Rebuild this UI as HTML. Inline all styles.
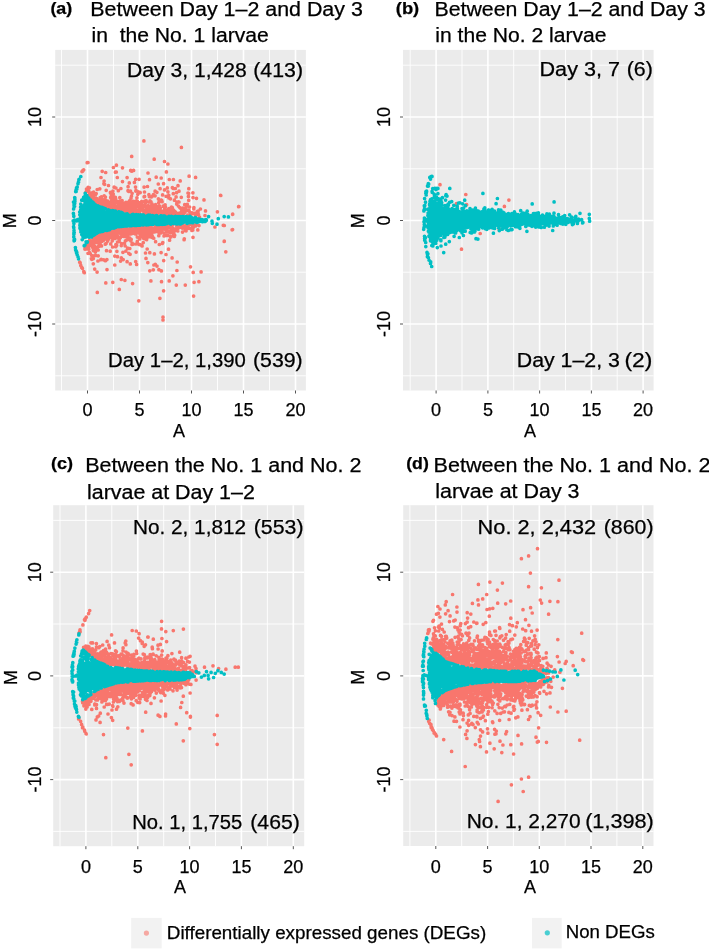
<!DOCTYPE html>
<html><head><meta charset="utf-8"><style>html,body{margin:0;padding:0;background:#fff;width:709px;height:949px;overflow:hidden}svg{display:block;filter:blur(0.35px)}text{stroke:#000;stroke-width:0.25px}</style></head>
<body>
<svg width="709" height="949" viewBox="0 0 709 949" font-family='"Liberation Sans", sans-serif' fill="#000">
<defs>
<clipPath id="clipa"><rect x="55.2" y="49.9" width="250.7" height="340.6"/></clipPath>
<clipPath id="clipb"><rect x="403" y="49.9" width="250.6" height="340.6"/></clipPath>
<clipPath id="clipc"><rect x="53.2" y="505.2" width="251" height="341"/></clipPath>
<clipPath id="clipd"><rect x="403.2" y="505.2" width="250.3" height="340.8"/></clipPath>
</defs>
<rect width="709" height="949" fill="#fff"/>
<rect x="55.2" y="49.9" width="250.7" height="340.6" fill="#EBEBEB"/>
<path d="M61.5 49.9V390.5M113.5 49.9V390.5M165.5 49.9V390.5M217.5 49.9V390.5M269.5 49.9V390.5M55.2 375.8H305.9M55.2 272.2H305.9M55.2 168.8H305.9M55.2 65.2H305.9" stroke="#FFFFFF" stroke-width="0.9" fill="none"/>
<path d="M87.5 49.9V390.5M139.5 49.9V390.5M191.5 49.9V390.5M243.5 49.9V390.5M295.5 49.9V390.5M55.2 324H305.9M55.2 220.5H305.9M55.2 117H305.9" stroke="#FFFFFF" stroke-width="1.6" fill="none"/>
<g clip-path="url(#clipa)">
<path d="M79.7 262.2h0m.3 .5h0m.2 .2h0m.6 2.5h0m.9 2.1h0m.1-.1h0m.2-95.8h0m.4 96.7h0m.2-97.1h0m.5-1.2h0m.1 .2h0m.5-.4h0m.1 101.7h0m.1 .7h0m.3 .3h0m.1 .2h0m.6-23.7h0m.1 .2h0m.1-1.2h0m.5-55.5h0m.4 55.5h0m.2-1.2h0m.3-57.7h0m.1 1.7h0m.6-28.1h0m0 86.2h0m0-1.9h0m.1-.3h0m0-55.7h0m.3 53.6h0m.2 4.2h0m.1-53h0m0 50.3h0m.1-3.3h0m0-80.3h0m0 90.8h0m.1-9.1h0m0-56.9h0m0 58.5h0m.1-3.9h0m0-45.8h0m0 46.6h0m.1-54.4h0m0 59.3h0m.1-5.2h0m.1-51.8h0m0 5.8h0m.1 46h0m.2 6.8h0m0-53.3h0m.3-4h0m.2 51.3h0m0 .1h0m.1-55.5h0m.1 56.7h0m0-4.1h0m0-46.9h0m0 59.2h0m.4-55.6h0m.4 56.4h0m0-12.5h0m.1-46.6h0m0 50.9h0m.1-51.8h0m.5 48.1h0m.1 1.4h0m.1-1.5h0m0 .4h0m.1-47h0m.1 63.7h0m.4-3.1h0m0 3.8h0m.3-62h0m.3 49.7h0m.1-49.9h0m.1-4.6h0m0 5.3h0m.2-3.4h0m0 .7h0m.1 48.2h0m0-46h0m0 42.3h0m.1-1.8h0m.1 10.5h0m0-8.9h0m0-.5h0m0 4.4h0m.1-45.6h0m.1 3.3h0m0 62.8h0m0-13.2h0m0 8h0m0-62.5h0m.3-4h0m.1 3.6h0m.2 40.7h0m0-41h0m.1 4.9h0m.1 37.3h0m0 .7h0m0 3.4h0m.1 14.1h0m0-10.8h0m0-6.7h0m.1 2.1h0m0-4h0m0-34.8h0m.1-1.9h0m0 47h0m0-4h0m0-4.3h0m.1-1.9h0m0 6.1h0m.1-3.5h0m.1-38.7h0m0 68.7h0m.1-31.6h0m.1 9.4h0m0-48.4h0m.2 43.2h0m0-5.7h0m.1 6.3h0m.1-5.8h0m.1 1.1h0m0-35.7h0m0 50.2h0m.1-57.2h0m.1 42.9h0m.1 12.2h0m.1 5.5h0m0-52.8h0m.4-9.2h0m.1 46.6h0m.1-37.8h0m.1 34.8h0m0-33.7h0m.2-4.8h0m.1 39.5h0m.1-37.9h0m.2 71.9h0m0-68h0m.1 29.7h0m0 4.4h0m0-48.7h0m0 52.5h0m.1 50.4h0m.1-45.4h0m0-42.4h0m.3-1.3h0m0 32.7h0m.2-32.6h0m0 39.5h0m0 18.1h0m.1-26.4h0m.2 21.2h0m0-5.8h0m.2-8.3h0m.1-6h0m.1-1.1h0m.1-.7h0m.1-28.7h0m.1 41.1h0m.1-42.4h0m.2-3.7h0m0 5.3h0m0 29.8h0m.4-33.1h0m.2-13.4h0m.1 50.1h0m.1-36h0m.1 33.1h0m0 1.4h0m.1-3.3h0m0 10.2h0m0-46.7h0m.1 39.6h0m.3-37.4h0m.3 40.9h0m0 19h0m0-58h0m.1-24.2h0m.1 26.8h0m.1 55.1h0m.1-54.8h0m0 30.8h0m.1-38.6h0m.1 49.1h0m0-6.6h0m0 2.1h0m.1-41.5h0m0 5.2h0m0-.5h0m.3-3.6h0m.2 2.2h0m.1-31.9h0m.5 61.9h0m.1 3.3h0m.1-4.1h0m0 2.4h0m.2 3.8h0m0-.2h0m.1-36.3h0m0 34h0m0 3.4h0m.1-39.6h0m0 2.5h0m0 38.2h0m.3-4h0m.1-2h0m0 25.2h0m.2-54h0m0-22.1h0m.1 17.5h0m0 34.9h0m0-1.3h0m.1-53.7h0m.1 56.8h0m0-34.5h0m0-7.6h0m0 9h0m.1 32.8h0m0-4.5h0m.2 3.7h0m.1-52.5h0m.1 50.7h0m0 .1h0m0-2.6h0m.1-28.9h0m0 3h0m0 26.9h0m.1-29.8h0m0 1.9h0m.1 28.4h0m0 5h0m.3 5.2h0m.1 16.5h0m0-63.7h0m.1 41.7h0m.1-38.6h0m0 4.3h0m0-2.8h0m.1 3.8h0m0-32.9h0m.1 110.4h0m.3-49.8h0m0 10.4h0m0-37.6h0m0-.8h0m.1-14.8h0m.1 17.9h0m0-2.1h0m.1 31.6h0m.1 .5h0m0 12.5h0m.1-18.8h0m0-.2h0m.1 4.6h0m0-31.1h0m0 2.4h0m.1 27.7h0m0-26.8h0m.1 51.1h0m0-21.1h0m.1 31.1h0m0-61.5h0m.2 27.9h0m0-3.4h0m0-26.1h0m0-1.1h0m0 31.3h0m.2-1h0m0-2.1h0m.1 7.5h0m.1 0h0m0-38.2h0m.1 1.7h0m0 29.6h0m0-33.1h0m.2 36.8h0m.3-29h0m0-.5h0m.1-4.7h0m0-1.1h0m0 2.2h0m.1 4.3h0m0 22h0m.1 8h0m0-5h0m0-48.6h0m.1 50.5h0m.1 .4h0m.1-28.1h0m.1 29.2h0m.3-4.9h0m.1 .1h0m0-25.4h0m.3 26.5h0m.2 1.7h0m0-27.3h0m0 28.1h0m.3-2.2h0m0 .1h0m0-2.1h0m0-1.1h0m.1 20.2h0m.2-44.2h0m0-14.7h0m.1 .7h0m.2 37.5h0m0 13.4h0m0-46.5h0m0 11.3h0m0-6.6h0m.1 35.4h0m0-32.2h0m0-.4h0m0 26h0m.2-23.4h0m0-.5h0m0 1h0m.2 1.1h0m.1 21.7h0m0-38.5h0m.1 9.4h0m0-2h0m0 9.3h0m0-13.6h0m.2 11.1h0m.1 24.3h0m.2 3.7h0m.1 2.9h0m.1-.2h0m0-40.3h0m0 6.2h0m.1 37.8h0m.3-3.5h0m.1 9.6h0m.1-12.9h0m.1 48.2h0m0-76.9h0m.1-14.3h0m.1 38.3h0m0-20.4h0m0 .4h0m0-1.4h0m.1-4.8h0m.2-9.2h0m0 9.7h0m.1-36.2h0m.1 63.6h0m0-32.5h0m0 34.2h0m.2-34.1h0m0-1.9h0m.1 12.8h0m.1-2.1h0m0-8h0m.1 35.3h0m0-1.5h0m.1-46.1h0m0 47.4h0m.1-26.4h0m.1-11h0m0 8.4h0m0 32.5h0m0-29.8h0m.1 24.6h0m.1-27.8h0m.1 23.9h0m.1 3.1h0m0-23.4h0m.1 22.1h0m0-24.8h0m0 50.1h0m0 8.9h0m.1-35.3h0m0 1.9h0m.1 0h0m0-33.4h0m.1 9.9h0m0-5.4h0m0 35.8h0m.1-5.1h0m.2-36.1h0m0-25.1h0m0 37.6h0m0-.6h0m.1 26.2h0m.2-36.5h0m0 33.5h0m.1 14.3h0m0-37.3h0m.1-2.5h0m0-18.9h0m0 56.7h0m.1-12.2h0m.2-30.9h0m.1 30.1h0m0-59.7h0m.1 29.5h0m0-36.3h0m.3 80.1h0m0-11.3h0m.1-4.3h0m.1 21.6h0m0-16.5h0m0-.5h0m.4-56.8h0m0 29.8h0m.2 49.4h0m0-14.7h0m.1-5.6h0m.2-34.7h0m.1 7.3h0m.1 22.8h0m0-.1h0m.1-27.7h0m.2 28.6h0m0-41.9h0m.1 47.4h0m.1-36.2h0m.1 1.1h0m0 7h0m.1 18.6h0m0-19.8h0m.1 23.6h0m.3-3.8h0m0 12.9h0m.1-1.4h0m0-31.8h0m.1 21.8h0m0 59.3h0m0-58.5h0m.1-26.8h0m0 26.3h0m0-23.7h0m.1 .4h0m0-1.4h0m0 23.8h0m.2-28.1h0m.1-.4h0m0-3.5h0m.1 7.5h0m0 .7h0m.1 27.3h0m.1-22.9h0m.1-1.8h0m.1 19.7h0m0 9.1h0m0 .6h0m.3 23.4h0m.1-30.3h0m0 2.7h0m.1-3.3h0m0 1.6h0m.1-43.3h0m0 44.3h0m.1-5.1h0m0-24.2h0m.1 1.6h0m.1 23h0m.1-21h0m0 72.4h0m0-33.9h0m0 12.3h0m.1-22.2h0m.1-24.7h0m0 19h0m.1-21.3h0m0 21.2h0m0 1.6h0m0 12.1h0m.1-37.5h0m0 26.4h0m.1-26.4h0m0-.7h0m.1 5.9h0m.2-10.6h0m0 35.5h0m0-30.2h0m0 4.1h0m0 18.1h0m.4 .3h0m0-60.7h0m0 66.1h0m0-3.7h0m0 3.3h0m0-51.9h0m.1 23.6h0m0 2.5h0m.2 3.2h0m.1 41.4h0m.1-17.5h0m0-5.7h0m.1-22.2h0m0 25.7h0m.1-27.2h0m0 54.2h0m.1-50.7h0m.2 2.3h0m0-5.4h0m.1 24.1h0m0-2h0m0-21.6h0m.1 27.3h0m.1-22.8h0m.1 25.7h0m0-3h0m.1-3.3h0m.2-26.8h0m.3 39.6h0m.4 37.3h0m.2-34.5h0m0-17h0m0 3.3h0m.3 8.7h0m.1-31.5h0m.1 21.7h0m0-20h0m.2 19.4h0m.1 20.7h0m0-19.8h0m.1-28.9h0m0 38.1h0m.1-31.2h0m.2-2.6h0m0 22.6h0m.1 5.9h0m.2-7h0m.1-16.2h0m.1 21.9h0m0-30.8h0m.1 7.9h0m0 26.2h0m0-8.6h0m.1-24.4h0m.1 57.5h0m0-84.1h0m.3 28.8h0m0 24.1h0m0 1.9h0m.2 16.1h0m0-.5h0m.1-45.5h0m0 10.1h0m.1-3.5h0m.2-18.4h0m0 44.1h0m.1-23.1h0m0 27.8h0m0-52.8h0m.1 46.2h0m.1-19.8h0m.2-4.5h0m0-6.4h0m0 1.8h0m.2 25.9h0m0-17h0m.1-21.4h0m0 61.8h0m.1-20.5h0m0-25h0m.1 23h0m.1-24.1h0m0 6.1h0m.1-.3h0m.1-29.6h0m.1 54.9h0m.1-26h0m.1 .8h0m0 18.2h0m.2 17.7h0m0-47.9h0m.1 12.5h0m.1 17.4h0m0-.7h0m0-18.8h0m.1 20.5h0m0 22.8h0m0-20.4h0m0 4.7h0m.1-5.8h0m.1-27.6h0m0 58.7h0m.1-36.6h0m.1-36.3h0m.2 14.8h0m0-35.4h0m.1 70.4h0m0-32.6h0m.1 20.1h0m.1-30.1h0m.1 35.6h0m.1 5.6h0m0-7.7h0m.2-21.1h0m0-7.2h0m.1-7.2h0m0 32.1h0m.1-18.2h0m0-7.5h0m.1 7.6h0m0-39h0m0-14.8h0m.1 54.4h0m.1-.7h0m.1 34.4h0m0-39.3h0m.1 4.9h0m0 19.5h0m0-36.3h0m.1 49.9h0m0-12.5h0m0-1.4h0m.2-18.9h0m0 23h0m0-23h0m0 20.1h0m0-20.7h0m.1 .3h0m.1 16.7h0m0 56.8h0m.1-76.3h0m.1 21.5h0m.2-24.7h0m.1 8.9h0m0 31.1h0m.2-40.9h0m0-1.8h0m0 30.3h0m0-22.4h0m.2-2.4h0m0 19.8h0m.1-56.3h0m0 37.6h0m.1-3.5h0m.3 25.6h0m.2 1.3h0m.2-49h0m.1 29.5h0m.1-5.9h0m0 3.2h0m0-.9h0m.2 24.6h0m.1-4.7h0m.3-17.4h0m.1-3.1h0m0-.5h0m.2-20.2h0m0 47h0m.1-54.7h0m.1 82.2h0m0-35.1h0m.1-35.3h0m0 19.1h0m.1 33.8h0m0-40.9h0m.1-1.9h0m0-10.8h0m.1 61.7h0m.2-41.3h0m.1-5.6h0m0 22.8h0m.2 36.4h0m.3-31.4h0m0-35.2h0m.1 12.3h0m0 19.7h0m0-.2h0m.1 3.1h0m.2-2.3h0m0-18.9h0m0 25.6h0m0 4.3h0m.1-40.1h0m.1 10.8h0m0 .1h0m.2-.8h0m.1-6.7h0m0-10.4h0m.3 33h0m0-24.1h0m.1 3.4h0m.1-1.9h0m0-12.8h0m.1 21.2h0m.3 .2h0m0 19.7h0m0-19.2h0m.1 87h0m0-89.7h0m0 20.4h0m0-28.9h0m.1 8.9h0m0-8.4h0m.1 1.3h0m0 6.3h0m0 22.4h0m0-.6h0m.1-6h0m0-47.2h0m0 65.1h0m.1-12.9h0m.2-1.3h0m0-37.9h0m.1 38.9h0m.1-19.8h0m0 1.8h0m0 19.6h0m0-5.9h0m0-19.7h0m.2 31.8h0m0-12.5h0m.3 4.8h0m0-21.6h0m.1 27.1h0m0-2.6h0m0-41.6h0m0 33.6h0m.1 5.6h0m.2 13h0m.1-10.8h0m0-4.2h0m0 6.6h0m.2-9.3h0m.4-17.3h0m.1 21.8h0m0 .8h0m.1-.1h0m.1-.8h0m.1 4.6h0m0-34.5h0m.1 2.1h0m0-2h0m0 27.2h0m.1-19.3h0m.1-3.9h0m0 21.9h0m.1 0h0m.1 9.1h0m0 9.2h0m.1-17.6h0m0 4.2h0m0-.3h0m.1-24.2h0m.2 1.9h0m.1 24h0m0-26.4h0m.1 23.8h0m.1 1.9h0m.2-.5h0m.2-21.7h0m0 24.6h0m.1-1.9h0m0-2.6h0m0 11.5h0m.1-9.6h0m0-26.8h0m.1 20.2h0m.1 3.4h0m.2-16.4h0m0 25.1h0m.1-97.6h0m.2 55.9h0m0 14.5h0m0-24.2h0m0 26.1h0m.1-.2h0m0 20.4h0m.2-1.6h0m0-21.7h0m.1 19.8h0m0 6.1h0m0-44h0m.1 9.4h0m0 27h0m0-32h0m.5 33.5h0m0 3.2h0m.1 4.3h0m.1-32.9h0m.1 9.2h0m.1 17.4h0m0 21.9h0m.1-26.8h0m.1-12.4h0m0-11.3h0m.2 36.8h0m0-29h0m.1 48.1h0m.1-57.7h0m.1 11.9h0m0-2.1h0m0 3.2h0m.1 25.8h0m.1-29.6h0m.1-2.7h0m0 4.6h0m.1-4.1h0m0 32h0m.2-1.4h0m.1-29.5h0m0 2.6h0m.2 .9h0m.1 22.8h0m0-27.6h0m0 41.5h0m.2-39.3h0m.1-23.2h0m0 45.8h0m.3-20.6h0m0 50.9h0m0-33h0m.1-2.1h0m.1-54.5h0m.1 39.3h0m.1 16.4h0m0-23h0m.1 29.1h0m.6-32.7h0m0-7.4h0m.2 33.1h0m0 5.4h0m.2 1.8h0m0-28.9h0m0-9.5h0m0 14.8h0m0 25.2h0m.1-6.5h0m.1-50.4h0m0 48.8h0m.1-20.6h0m.1 27.2h0m.1-3.9h0m0 21.5h0m0 18.1h0m.2-69.9h0m.2 13.6h0m0-3.9h0m.1 23.1h0m0-24.5h0m.1 19.1h0m0-15.7h0m.1-4.5h0m.1 18.4h0m.1-14.9h0m0 25.2h0m0-9.4h0m.1 6.2h0m0-24.7h0m.1 72h0m.1-79.1h0m.1 29.4h0m0-25.1h0m.2-9.2h0m.1 39.2h0m.1-22.7h0m0 20.8h0m.3-29.1h0m.2-1.3h0m.1 25.9h0m.1 6.2h0m0-7.7h0m.1-14.7h0m.1-17.5h0m0 41.4h0m.3-9.4h0m0-19.1h0m0 23.3h0m.3-26.4h0m.3 64h0m0-40.6h0m0-19.4h0m.1 1.4h0m.1-16.6h0m.2 19.1h0m0 24.5h0m0-9.1h0m.2-22.5h0m0 58.4h0m.1-36.8h0m.2-69h0m0 51.8h0m.2 42.9h0m0-23.9h0m0 2h0m.1-2.6h0m0-.7h0m0-23.2h0m.1 4.6h0m.2 .1h0m.1 4.5h0m.1-6.2h0m.1-17.3h0m0 22.9h0m0-18.3h0m.1 13.4h0m0-4h0m.1 59.1h0m.1-37.4h0m.1-14h0m.1 12.4h0m0 16.4h0m0-37.2h0m.4 20.9h0m0-18h0m.1 20.8h0m.1-14.7h0m0-36.3h0m.2 31.6h0m.2 21.7h0m.1-21.4h0m.1 3h0m.1-19.8h0m.1 19.8h0m0 17.5h0m0 36.5h0m.1-51.4h0m0-8.2h0m.2 25.1h0m.2-18.1h0m.2 11.7h0m.2-13.5h0m0 16.4h0m.3-21.6h0m.1-22.5h0m.1 14.9h0m0 9.5h0m.1 19.4h0m0 1.8h0m.2-27h0m.1 25h0m0 8.1h0m0-5.2h0m.1 39.2h0m.3-37h0m0-5.9h0m.1-21h0m0 38.7h0m0-36.8h0m.2-7.4h0m0 10.2h0m.4 87.8h0m.1-72.3h0m.1-37.3h0m.1 19.7h0m.3 3h0m.2 1.1h0m.1 14.9h0m0 1.4h0m0 4.1h0m.2-6.2h0m0-26.5h0m.1 10.6h0m0 41.8h0m.1-74.6h0m.2 92.9h0m.1-56.4h0m0 67.2h0m.1-53.6h0m.1-27.8h0m.2 30.6h0m.2-.9h0m0-28.3h0m.1 10h0m.1-.2h0m0 1.1h0m.1 30.8h0m.2-48.5h0m.2 47.6h0m.1-29.3h0m0 12.8h0m.1-11.6h0m0 105.6h0m0-2.8h0m.1-111h0m.5-22.5h0m0 107.1h0m.1-30.2h0m.3-24.6h0m.2-2.9h0m.3-71.6h0m0 28.4h0m0 19.8h0m.1 2h0m0 17.4h0m.1-20.6h0m.3 17.3h0m0-10.7h0m.1-10.3h0m0 2.5h0m0 1.8h0m.2 1.3h0m.1-3.6h0m.2 19.3h0m.1-14.5h0m.3 42.9h0m.1-26.8h0m0-31.4h0m.3-24.4h0m0 53.4h0m0 2.2h0m.3 4.3h0m.1-2.5h0m.1 6.1h0m.4-47.5h0m0 37.7h0m0-15.3h0m0 16.7h0m.2-12.6h0m.2 20.9h0m.1-25.4h0m.1 3.6h0m0-21.7h0m0-27.8h0m0 62.6h0m.2 .6h0m.1-15.2h0m.1 14.3h0m0-11h0m.2-6.4h0m0 18.8h0m0 21.5h0m.3-53.9h0m.1 2.7h0m.2 10.6h0m0 22.7h0m.1 49.6h0m0-66.3h0m.1-35.1h0m.1 35.4h0m.1 10.5h0m.1 14.8h0m.1-25.7h0m.1 13h0m0 5h0m0-7.3h0m.2-16h0m0 22.1h0m.2 5h0m.1-23.8h0m0 13.8h0m.1 1.7h0m.1-29.2h0m.1 15.6h0m0-6h0m.2 28.6h0m.4-24.9h0m0 14.4h0m.2 6.2h0m0-23.3h0m.1-2.4h0m.4 19.6h0m0-18h0m.2 4.1h0m0 45.2h0m0-43.8h0m.1 16.6h0m0-18.7h0m.1 13h0m0-17.3h0m.1-20h0m.1 26.4h0m0-2.4h0m.2-.3h0m0 17.8h0m0-4.2h0m.2 50.8h0m.1-62.4h0m0 18.1h0m.2-1.9h0m.1-14.9h0m0-21h0m0 37.4h0m.1-42.6h0m0-9h0m.1 30.6h0m0 25.4h0m.2-22h0m.2 15.4h0m.1 4.1h0m.3 3.5h0m.1-36.3h0m.2 15.1h0m.1 20h0m.2-23.9h0m.4 18h0m0-40.9h0m.2 41.7h0m.2-17.9h0m0 .1h0m.4-15.5h0m.2 88.2h0m0-71.8h0m.3-20.6h0m.1 33.2h0m0-21.8h0m.2-1.9h0m0 68.3h0m.3-8.5h0m.3-47h0m.2-1.2h0m.1 17.2h0m0-5.3h0m.1 2.8h0m.1-42.8h0m.4 20.3h0m0 20h0m.1-12.7h0m0-11.4h0m.1 24.9h0m.3-12.6h0m.1-12.2h0m0-10.8h0m.5 23.1h0m0 1.1h0m.3-7.8h0m0 19.6h0m.3-.2h0m0-12.9h0m.1-33.2h0m.2 27.2h0m.4 7h0m.2-2.5h0m.1-.6h0m.2-14.7h0m.1 28.6h0m0-78.5h0m.3 63.7h0m.1-1.3h0m.2 4.3h0m.4 14h0m.1 4h0m.1-24h0m.1 17.4h0m.2-12.4h0m.4-3.5h0m.1 16.8h0m0-12.3h0m.5-.5h0m.2 26.1h0m.2-.9h0m0-27.6h0m.2 16.6h0m.2-23.1h0m.3 7.5h0m0 13.6h0m.2 4.8h0m.1 54.5h0m.2-58.5h0m0-18.3h0m.1 21h0m.5 1.5h0m0-4.3h0m.1-19.7h0m.1-.8h0m.2 20.7h0m.4 .6h0m.1-2.6h0m.3 .7h0m0-21.1h0m0 5.9h0m.5 4.9h0m.2-22.1h0m.4 3.4h0m.2-3.1h0m.1 7h0m.1-11.6h0m0 22.4h0m0 14.1h0m.1 3.1h0m.2-52.1h0m0 34.5h0m.2 17.6h0m.1-13.3h0m.2-8h0m.3 17.2h0m.4-11.5h0m.2 54.1h0m.7-52.6h0m.4-1.1h0m.3 14.7h0m0 2.7h0m.1-17.1h0m0-.6h0m.3 10.9h0m.4 2.3h0m.1 3.9h0m.1-5.2h0m0-31.9h0m.1 44.5h0m0-39.7h0m.2 74.8h0m0-44.8h0m.4 68.5h0m.2-87.3h0m.1-1.3h0m.2 74.8h0m.3-69h0m.8 .9h0m.2 1h0m.1 10.8h0m.1-48.6h0m.4 47.3h0m.5-26.4h0m.7 13.3h0m.6 18.3h0m.3-18.8h0m0 2.1h0m.5 1.9h0m.3 66.6h0m.1-56.1h0m.6-8.3h0m.8-8.3h0m.7 62.9h0m2.9-72h0m1 15.6h0m.5-4.6h0m9.4 16.1h0m2.5-15.2h0m3.2-16.5h0m.2 .2h0m2.5 29.8h0m.9 16.1h0m.1-.4h0m0-15.5h0m1.5 26.3h0m6.3-22h0m.5-.2h0m0-15.3h0m.1-.1h0m5.9-7.5h0m.3-.1h0" stroke="#F8766D" stroke-width="3.7" stroke-linecap="round" fill="none"/>
<path d="M73.2 220.8h0m.2-7.4h0m.1-11.3h0m.1 24.6h0m0-5.6h0m0-12.1h0m.1 6.6h0m0 0h0m.1 6.2h0m0 5.9h0m0 9.2h0m0-20.6h0m.1 7.3h0m0 10.7h0m0-1.1h0m.1-28.1h0m0 27.1h0m0-29.4h0m0 27.5h0m.1 10.5h0m0-.8h0m0-32.9h0m.1 25.4h0m.2-28.4h0m0 36.3h0m.1-34.5h0m.1 14.2h0m0-13.9h0m0 33.1h0m.1-41.6h0m0 5.7h0m.1-2.5h0m.1-3h0m0 3.5h0m0-1.7h0m.4 20.9h0m.1 27h0m.2 2.2h0m.1-58.2h0m.3-1.4h0m.1 60.9h0m0-59.6h0m.3 29.3h0m0 30.6h0m.1 1.4h0m0-64.9h0m.2 0h0m0 64.7h0m.1-64.6h0m0 32.6h0m0 31.8h0m0-63.4h0m.3 31.5h0m.1-33.5h0m0 67.8h0m.4-35.1h0m.4-36h0m0 73.1h0m.5-74.9h0m0 76.9h0m.1-38.3h0m0-38.6h0m.3-2.2h0m.1-.1h0m.1 41.4h0m0-41.7h0m.5 40.5h0m.1-.9h0m0-6.8h0m.1 2.7h0m.1 13.3h0m0-2.6h0m.1-1.2h0m.1 4.1h0m.1-13.9h0m0 11.5h0m.1-4.4h0m.2 2.5h0m0 .9h0m0 0h0m0 4.5h0m.1-22.3h0m0 3h0m0 5.7h0m.1 8.1h0m.1 7.7h0m0-55.2h0m0 53.1h0m0-25.5h0m.1 22.6h0m0-8.7h0m.1-11.5h0m0 10.9h0m0 2.6h0m0-6.7h0m.2 13.2h0m0-11h0m0 6.2h0m.1 9.3h0m0-8.1h0m0-13.1h0m.1 15.4h0m.1-4.4h0m0-14.2h0m0 4.9h0m.1 10.5h0m.1-4.1h0m0-.2h0m0-17.5h0m0 20.8h0m0-10.3h0m.1 16h0m0 7.9h0m0-6.9h0m0 2.5h0m.1-6.8h0m0-4.4h0m.1-5.5h0m0 2.9h0m0-1.3h0m0-2.9h0m0 14.8h0m0 2.8h0m.1-14.6h0m.1 1.1h0m0 23.3h0m.1-18.2h0m0 2.5h0m0-12.6h0m.1 22.5h0m0-4.2h0m0-7.6h0m.1-12.5h0m.3 22.1h0m0-8.4h0m.1 13.2h0m0-36.2h0m.1 24h0m0 1.5h0m.1-12.1h0m0 13.2h0m0-8.9h0m0-6.4h0m0-5.7h0m0 10.1h0m.1 7h0m0 1.8h0m.1 3.3h0m0-18.9h0m.1-1h0m0-1.7h0m.1 17.1h0m0-1.1h0m.1-2h0m0-5.2h0m0-17.2h0m0-.6h0m.1 33.4h0m0 1.8h0m.1-18.9h0m0 6.5h0m0 11.3h0m.1-3.7h0m.1-9.4h0m.1 9.3h0m0-19.3h0m.1 37.3h0m.1-25.2h0m0 12.5h0m0-13.1h0m.1 11.4h0m0 3.9h0m.1-5.9h0m0 8h0m.1-8.3h0m0 6.7h0m0-16.2h0m0 4.7h0m0-13h0m.1-6.6h0m.2 21.7h0m0 18.8h0m0-48.9h0m.1 6.9h0m0 6.9h0m0 1.5h0m0 5h0m0 2.1h0m0 .2h0m0-1.8h0m.1-9.9h0m0 3.1h0m0 2.4h0m0 4.7h0m0-1.5h0m0 15.4h0m.1-37.9h0m.1 6.9h0m0 27.5h0m0-22.1h0m0 6.4h0m.1-6.1h0m.1 7.4h0m0 3h0m0 8h0m0-9.7h0m.1 13.5h0m.1 1h0m0-7.1h0m0-2.3h0m.1-4h0m0-7.4h0m0 8.4h0m0-2.6h0m0 10.3h0m0 8.2h0m0-23h0m.1 27.4h0m0-14h0m0-23h0m0 15.6h0m.1-1.6h0m0 17.4h0m0-29.3h0m0 16.9h0m.1 13.9h0m0-25.9h0m0 34.8h0m.1-19.8h0m0-3h0m0-15.1h0m.1 14.9h0m0-22h0m0 29.3h0m0 2h0m.1-14h0m0-5h0m0 18.7h0m0 7.1h0m0-38.8h0m0 17.5h0m.1 9.9h0m0-5h0m.2 8.3h0m0-.3h0m0 4.7h0m0 .8h0m.1-25.5h0m.1-10.9h0m0 29.8h0m0-12.5h0m0 2h0m0 27.5h0m.1-34.9h0m.1 11.6h0m0-2.7h0m0 7.4h0m.1-1.9h0m0-13.8h0m.1 1h0m0 7.1h0m0 .7h0m0-3.7h0m0 11h0m0-18.8h0m.1 15.5h0m0 20.9h0m.1-22h0m0-9.5h0m0-10.2h0m.1 13.5h0m.1 0h0m0 7.9h0m0 .1h0m.1-1.6h0m0-4.9h0m.1-8.8h0m.1 .6h0m0 14.3h0m.1 9.6h0m0-20.6h0m0 15.1h0m0-10h0m0 2.7h0m.1-2.5h0m.1 16.4h0m0-6.3h0m.1 1.6h0m0-8h0m.1-6.6h0m.1 16.2h0m0-26.8h0m0 9h0m.1-7.1h0m.1 23.8h0m0-11h0m0-18.5h0m.1 13.2h0m.1-7h0m0 19.7h0m0 9.1h0m.1-20h0m0-2.2h0m0 22.1h0m.1 4.1h0m0-27.4h0m0 24.5h0m0-12h0m0 1.8h0m0 .7h0m0 6.6h0m.1 2.3h0m.1-11.3h0m0-13.3h0m0 10.8h0m0 12.9h0m0-12.7h0m0-6.6h0m0 17.7h0m.1-22.9h0m0 13.3h0m0-4.3h0m.1 10.7h0m.1-1.6h0m0-12.7h0m.1 13.1h0m0-5.1h0m0-.9h0m0 8.5h0m0 2.9h0m0-10.7h0m0 7h0m.1-24.3h0m0 8.2h0m0 6.8h0m0 17.6h0m.1-20.9h0m0 12.1h0m0-4.3h0m.1-4.3h0m0 14.4h0m0-16.2h0m0 16.2h0m0-20.6h0m0 2.5h0m.1 6.1h0m.1-21h0m0 29.4h0m0-4.8h0m0-5.4h0m.1-17.5h0m0 16.1h0m0-3.3h0m0-10.9h0m0 16.4h0m0-7.7h0m.1-13.1h0m.1 30.7h0m0-30.6h0m.1 10.7h0m.1 11.6h0m0-13.5h0m0 11.4h0m0-15.7h0m.1 6.3h0m0 12.7h0m0 3.3h0m0-19.2h0m0 5.5h0m.1-4.6h0m.1-6.9h0m0 23h0m.1-3.2h0m0 8.2h0m0-16.7h0m0 10.9h0m0-1.4h0m.2 5.1h0m0-2.3h0m0-4.7h0m.1 16.3h0m0-28.5h0m.1-4.5h0m0 2.2h0m0 24.2h0m0 5.6h0m.1-26.2h0m0 10.5h0m0-12.6h0m0 17.8h0m.1 6.9h0m0-25.2h0m0 8.1h0m0 4.7h0m.1 4.3h0m0-12.1h0m0 6.3h0m.1 9.3h0m0 3.3h0m0-3.5h0m.1-20.9h0m0 23.3h0m0-1.2h0m.2-4.5h0m0-2.7h0m0 .1h0m.1 0h0m0-4h0m.1 3.5h0m0 11.4h0m0-8.5h0m0-2.9h0m.1-8.1h0m0 19.1h0m0-30h0m0 0h0m0 32.9h0m.2-10.5h0m0 .1h0m.1 3.1h0m0 .2h0m0-15.1h0m.2 10.7h0m0 5h0m0-9.9h0m.1 16.8h0m0-20.7h0m0 1.2h0m0 5.7h0m0 8.5h0m0-12.3h0m0 9.9h0m0-9.6h0m0-15.4h0m.1 17.5h0m.1 1.3h0m.1-8.6h0m0 16h0m0-7.1h0m0-14.8h0m0 22.1h0m0-8.9h0m0-9.8h0m0 14.2h0m.1 6.9h0m.1-10.3h0m0 4h0m0 2.9h0m.1-14.7h0m0 11h0m0-.9h0m.1 6.7h0m0-1.4h0m.1-9.8h0m0 11.8h0m0-.9h0m0 .8h0m0-12.5h0m.1-2.8h0m.1 2.1h0m0-13.6h0m0 30.8h0m0-24.2h0m.1 8h0m0 4.7h0m0-6.8h0m0 11.5h0m.1-6.1h0m0-.8h0m.1-4h0m0 3.4h0m.1-6.6h0m0 5.9h0m.1-10.2h0m.1 18.9h0m0 .1h0m0-4.8h0m.1 10.6h0m0-15.4h0m.1-8.6h0m0 1.8h0m.1 19.3h0m0-10.9h0m.1-2h0m0 1.4h0m.1 .1h0m0 1.7h0m.1 2.5h0m0-19.4h0m.1 19.9h0m0-2.1h0m.1-1.3h0m0-5.1h0m0 12h0m0-5.5h0m.1 4.6h0m0-18.1h0m.2 2.6h0m.1 12.6h0m0-1.4h0m0 10.6h0m0-5.3h0m.1-10h0m0 11.6h0m0 .1h0m.1-10h0m0-3.1h0m.3-1.4h0m0 6.8h0m0-14.4h0m.1 18.9h0m0 1.8h0m.1 4.6h0m0-17h0m0-1.5h0m0 5.7h0m.1-10.8h0m0 11.6h0m0-7.7h0m.1 3.6h0m0 8.9h0m0-.3h0m0-.7h0m.1-1.8h0m0 7.3h0m.1-6h0m0 7.7h0m0-7h0m.1-.7h0m0-8.2h0m0-6.2h0m.1-3.5h0m0 24.9h0m0-23.1h0m0 8.9h0m.1 4.1h0m0 7.6h0m.1-19.6h0m0 4.4h0m.1 8.6h0m.1 .9h0m0 9.2h0m.1-21.7h0m.1-5h0m.2 17.8h0m0 3.9h0m0-6.4h0m0 4.2h0m0-2.1h0m.1-1.9h0m0-2.2h0m.1-5.1h0m.1 1.4h0m0 13.3h0m0-2.6h0m0-6.1h0m.1-4h0m0 .7h0m0 2.7h0m0 9.8h0m.1 1.1h0m0-17.2h0m0 .7h0m0 13.6h0m0-9.5h0m0 .5h0m.1 5.1h0m0-5.8h0m0 4.8h0m0-1.5h0m.1 1.8h0m0 8h0m.1-16.8h0m0 6.6h0m0 3.1h0m.1 2.4h0m0 1.4h0m0-17.6h0m.1 1h0m0 13h0m0-9.3h0m0-2.2h0m0-4.4h0m.2-1.4h0m.2 16.7h0m.1-8.3h0m0 .8h0m0 2.5h0m0-5.1h0m0-4h0m0 7.7h0m.1 5.1h0m0-6.9h0m0 11.4h0m.1-2.3h0m.1-8.6h0m0 1.7h0m.1 .3h0m0 .3h0m0 13.9h0m0-16.4h0m0 5.4h0m.1-5.3h0m.1 2.3h0m.1-4.2h0m0 12.1h0m0-6.2h0m.1 0h0m0 1.8h0m0 3.1h0m0-2.3h0m0-12.8h0m.1 8.9h0m.1 3.9h0m0-6.4h0m0 5.7h0m.2 6.2h0m.1-3.6h0m0-15.8h0m0 18.9h0m0-5.7h0m.1 4.5h0m0 2.9h0m.1-2h0m0-4.8h0m0 3.8h0m0-6.2h0m0-1.8h0m.1-2.7h0m0 9.6h0m0-4.7h0m.1 2.2h0m0 4h0m.1-1.8h0m0-12.8h0m.1-4.3h0m0 18.5h0m0-8.9h0m0 14.6h0m.1 0h0m0-10.5h0m.1-5.5h0m0 6.8h0m.1 4h0m0-17.2h0m0 11.8h0m0-11.5h0m0 9.4h0m.1 7h0m0-17.3h0m.1 11.4h0m0 3.9h0m0-7.6h0m0 3.2h0m.1-5.1h0m0 17.1h0m.1-9.5h0m0-7h0m.1 11.5h0m0 1.1h0m0-8.5h0m0 1.6h0m0-6.1h0m0 11h0m.1-12.6h0m0 7.6h0m0 7.9h0m.1-8.4h0m0-12.3h0m.1 11.4h0m0 8.5h0m.1-15.1h0m.1 14.1h0m0-11h0m0 3.8h0m.1 .5h0m0-4.9h0m0 10.8h0m.1-4.5h0m0 7.1h0m0-12.4h0m0-.7h0m.1-3.2h0m0 16h0m0-14.9h0m0 7.1h0m.2 2.2h0m0-.2h0m0 7h0m.1 1.8h0m0-14.7h0m.1 1.8h0m0-3.9h0m0 10h0m0-8.5h0m.1 14.6h0m0-6.8h0m0-7.6h0m.1 4.7h0m0-1.2h0m.1 .7h0m0-10.8h0m0-1.2h0m.1 14.9h0m0 6.7h0m.1-4.2h0m0-10.8h0m0-1.9h0m.1 10.9h0m.1-9.8h0m0 3.8h0m0 8.1h0m0 .7h0m.1-14.4h0m0-2.8h0m.1 17h0m0 3.2h0m.1-5.6h0m0 1.6h0m0-3.2h0m.1-.2h0m0-1.1h0m.1 9h0m0-17.7h0m0 7.5h0m.1-4.7h0m.2 5.3h0m0-7.4h0m0 1.6h0m.1 .4h0m0 10.7h0m0-13.3h0m0 2.2h0m.1-.5h0m0 6.6h0m0 6.1h0m0-7h0m0 8.3h0m.1-8.8h0m0 3.7h0m0 .3h0m0-4.6h0m0-5.1h0m0 9.1h0m0-3.2h0m.1 3.1h0m0-3.1h0m0 .8h0m0-3.9h0m0 1.1h0m.1-8.7h0m0 9.6h0m0-3.2h0m.2 .6h0m0-1.4h0m0 7.1h0m.1-4.9h0m0 5.8h0m0 3.2h0m0-6.3h0m0-3.7h0m.1 1.3h0m.1 1.2h0m0 5.7h0m.1-3.3h0m0 7.5h0m0-6.3h0m.1-.4h0m0-2.5h0m0 1.6h0m.1-3.6h0m0-4.4h0m0 8.7h0m0-1.1h0m.1 3.1h0m0-3.2h0m.1-2.8h0m0 9.2h0m0-4.9h0m.1 6.8h0m0-5.3h0m0 1.2h0m.1-.2h0m0 6.5h0m.1-12.2h0m.2 7.1h0m0 0h0m.1-9.9h0m0 6.1h0m0-4.1h0m0 10.2h0m0-1.2h0m.2-4.9h0m0 .1h0m0-.2h0m0 .1h0m0 2.9h0m.1 3.6h0m0-4.9h0m0-5.1h0m0-5h0m.1 8.7h0m0 2.3h0m0-.9h0m.1-1.8h0m.2-4.4h0m.1-.5h0m0 .7h0m.1 4.9h0m0 4.6h0m.2-2.9h0m0-2.4h0m0-1.8h0m.1 1.6h0m0 2.5h0m0 .8h0m0-14.6h0m.1 12.2h0m0-3.5h0m.2 4.5h0m0-6.8h0m0 5.4h0m0-11.7h0m0 19h0m0 1h0m.1-14.1h0m0-2.5h0m.1 10.8h0m.1-.6h0m0-2.8h0m0-10.8h0m0 13.4h0m0 2.3h0m.1-6.2h0m0 .8h0m0-5.1h0m0 3.7h0m0 5.7h0m.1 2.7h0m.1-4.4h0m0 3.8h0m.1-13.8h0m.1 10.7h0m0-.5h0m0-1.5h0m0-4.9h0m.1 6.6h0m0 6.3h0m0-13h0m0 10.5h0m.2 2.5h0m0-18.4h0m0-.5h0m.1 13.3h0m0-2.1h0m0-7.4h0m0 .9h0m0 6.5h0m.1 1.5h0m0 3.9h0m0-9.3h0m.2 3.9h0m0 3.3h0m.1-7.9h0m0-1.2h0m.1-1.8h0m0 4.7h0m.1-4.9h0m.1 13.8h0m0-7.1h0m0-2.8h0m.1 9.6h0m0-1.7h0m0-2.2h0m0-2.9h0m.2-4h0m0 5h0m0 2.2h0m0 0h0m0-10.1h0m.1-1.8h0m0 7.3h0m0 6.5h0m0-3h0m.1-3.9h0m.1 .8h0m0 1.3h0m0-.6h0m.1 1.8h0m0-.1h0m0-3.9h0m.1 3.2h0m0-4.2h0m.1 1.4h0m0 6.9h0m0-3.9h0m0 2.5h0m.1 1.3h0m0-10.8h0m.1 6.1h0m0 3.2h0m.1-4.1h0m0 8.3h0m0-7.7h0m.1-8.2h0m0 6.9h0m0 5.5h0m.1-.8h0m0 1.8h0m.1-4.4h0m0-1.4h0m0 4h0m0-6.3h0m0 2.3h0m0-6.2h0m.1 7.6h0m0-3.7h0m.1 8.5h0m.1-2.3h0m0-1.5h0m0-9.8h0m.2-1.8h0m0 11.2h0m.1-2.2h0m0 1.8h0m0-9.8h0m.1 8.6h0m0 2.1h0m.1 1h0m0-.6h0m.1-3.9h0m.1 7.7h0m0-10.4h0m.1 8.3h0m0 .6h0m0-8.7h0m0-4.4h0m.1 9.4h0m.1 2h0m.1-1.7h0m.1 3.1h0m0-7.4h0m.1-6.6h0m.1 11.8h0m0 4.2h0m0-8.1h0m.1-1.9h0m0-5.6h0m.1 16.9h0m0-6.5h0m0 2h0m0-3.1h0m.1 .5h0m0 1.3h0m.1 0h0m.1-9.2h0m0 1.7h0m.1 6.9h0m0-4.6h0m.1 1.1h0m0-.5h0m.2-1.1h0m0 4.4h0m0 .9h0m.1-5.1h0m.2 5.4h0m0 1h0m0 2h0m0-2.3h0m0 .2h0m.1-6.5h0m0 5.1h0m.1 1.8h0m0-10.2h0m0 1.2h0m0 8.2h0m0 3.6h0m.1-7.5h0m0 2.3h0m0-1h0m.2-9h0m0 2.7h0m0 8h0m.1 1.1h0m.1-1h0m0-6.7h0m.1 4.1h0m0 3.7h0m0-4h0m0 7h0m0 1.3h0m.1-7h0m0-4.6h0m.1 4.9h0m.1-1.8h0m0 .2h0m.1 2.3h0m0-.8h0m0-2.7h0m0 7.5h0m0-3.9h0m0 .9h0m.1-1.6h0m0-.7h0m0 1h0m0 2.7h0m0-3.3h0m0-8.1h0m.1 4.3h0m0-3.6h0m.1 6.1h0m0-6.2h0m.1 3.1h0m.1-2.6h0m0 6.8h0m0 5.5h0m.1-10.7h0m0 1.5h0m0 6.3h0m0-8.9h0m0 3.9h0m.1 3.1h0m0 1.7h0m.2 2.6h0m0-3.6h0m.1-2.1h0m0 .1h0m.1 7h0m0-8.5h0m.1 6.2h0m0-4h0m0 1.3h0m.1-.7h0m0-.3h0m0-1h0m0-.5h0m.1 5h0m0-6.3h0m0 4.6h0m0-2.1h0m0 0h0m.1-1.4h0m0-1h0m0 2.8h0m.1 .4h0m.1-.1h0m.1-4.8h0m.1 .5h0m0 3.8h0m.1 5.1h0m0-7h0m.1 2.8h0m0 1.1h0m0-4.1h0m0 .6h0m0 4.3h0m0-5.3h0m.1 3.4h0m0-.7h0m.1-4.9h0m0 3.3h0m0 2.4h0m.1 .1h0m0 .1h0m0-2.5h0m.1 1.8h0m0-2.5h0m0 3.3h0m.1-9.9h0m0 10.4h0m0-6.2h0m.1 10.5h0m0-7.1h0m0 7.1h0m.2-3.7h0m0-4.1h0m.1-7h0m0 10.1h0m.1-8.4h0m0 5.3h0m0 7.8h0m.1-1.8h0m0-2.2h0m0-5.4h0m.1 1.8h0m0 5.9h0m.1-2.5h0m.2 2.1h0m0 1h0m0-2.6h0m0-.6h0m.1-.3h0m.1-2.6h0m0-7h0m.2 4.1h0m.1-2.1h0m0 3.9h0m.1 7.2h0m.1-5h0m0 .5h0m0-1.3h0m.1 2.9h0m0 2.4h0m0-3.6h0m0 .8h0m0 4.2h0m0-2.4h0m.1-1.9h0m0 1.1h0m0-3.7h0m0 3.8h0m0 .6h0m0-.3h0m.1-7.7h0m0 4.9h0m0-3.4h0m.1 .1h0m.2-1h0m0 1.7h0m0 8h0m.1-.5h0m.1-13.3h0m0 11h0m0-3.8h0m.1-.5h0m0-1.8h0m0 2.6h0m0-1.1h0m.2 4.4h0m0 3.2h0m0-4.2h0m.1-1.9h0m0-1.1h0m0 2.1h0m0-.1h0m.1 3h0m0-2.8h0m.1 1.7h0m0-5.3h0m0 4h0m0-5.3h0m0 4.2h0m0-8.2h0m0 6.6h0m.1 5.3h0m0-4.7h0m0-3.7h0m0 7.5h0m0-5.2h0m0 6.6h0m.1-7.5h0m.1 .8h0m0-4.6h0m0 2.3h0m.1 4.1h0m0 2.4h0m0 2.1h0m.1-3.8h0m0-2.4h0m0 1.2h0m.1 3.8h0m0-8.6h0m0 .8h0m0 6.9h0m.1-9.3h0m.1 10h0m0 .7h0m0-6h0m.1 5.7h0m0-1.9h0m.1-.7h0m0 .6h0m.1-2.7h0m0 7.4h0m.2-5.2h0m0 .7h0m.1-2.6h0m.1 3.4h0m0-6.4h0m0 .8h0m0 1.9h0m0 2.6h0m.1-1.5h0m0-2.8h0m0 4.2h0m.1 1.8h0m0 3.1h0m.1-6h0m0-2.1h0m0-4h0m0 1.3h0m0 7.1h0m.1-2h0m0-5.7h0m0 2.7h0m0 4.7h0m.1-6.2h0m0 2h0m.1 2h0m0 1.6h0m0-3.3h0m0-1.4h0m.1 9.2h0m0-8.7h0m0-.5h0m.1 1.2h0m0 2.6h0m0 1.5h0m0-4.7h0m.1 .7h0m0 6.4h0m.2 1h0m0-2.8h0m0 2.6h0m.1-2.1h0m.1-5.5h0m.1 .1h0m0 2.3h0m0 2.4h0m0-6.7h0m0 .3h0m.1 4.6h0m0 1.8h0m0-2.7h0m0-5.8h0m.1 5h0m.1 .2h0m0 4.9h0m0 1.8h0m0-8.5h0m.1-.6h0m0 2.7h0m.1-2.5h0m.1 .7h0m0-2h0m.1 2.4h0m0 2.4h0m0 .7h0m0-1.8h0m.2 2.6h0m0 .1h0m.1 1.2h0m0-4h0m0 2.4h0m.2-.9h0m.1-1.2h0m.1-4.4h0m.1 5.3h0m0-1.8h0m.1-2.6h0m.1 1.5h0m.1 2.2h0m0-2.4h0m0 2.1h0m.3 1.8h0m.1 .1h0m0 4.4h0m.2-12.1h0m0 7.7h0m0 .3h0m.2-1.2h0m0-.8h0m.1 4h0m0-6.3h0m.1 8.3h0m0-4.7h0m.1-.6h0m.1-3.7h0m.1 3.2h0m.2 4.6h0m.2-3.9h0m0-5.9h0m.1 4.2h0m0 6.7h0m.1-8.8h0m0 1.2h0m.1 5.5h0m.1-6.2h0m.1 2.7h0m0-2.8h0m0 8.4h0m.1-2.5h0m0-5.4h0m.1 2.8h0m0 1.9h0m0-5.2h0m0 5.1h0m.1-.8h0m0 0h0m.1-1.3h0m.1 1.5h0m0-2.4h0m0 2.6h0m0 .3h0m.1-3.5h0m0 3.2h0m.1-1.9h0m0 .4h0m0 2.3h0m0-4.1h0m.1-.2h0m.1 5.8h0m0-6.7h0m0 .3h0m0 .2h0m.1 3.1h0m.1-1.8h0m0 1.9h0m.1-2.1h0m.1 1.9h0m.1 .4h0m.1 2.3h0m.1-2.1h0m0-1.1h0m0-1.5h0m.2 5.1h0m0-2.7h0m.1 4.1h0m0-.4h0m.1-5.7h0m0 1.4h0m.1-.1h0m0 1.2h0m.1-1.5h0m0 4.2h0m0-4.9h0m.1-2h0m.1 3.3h0m0-5.7h0m0 7.3h0m0-3.6h0m0 5h0m0-3.2h0m.3-5h0m.1 7.4h0m0-4h0m0 2.7h0m.1-.2h0m0-5.8h0m0 3.1h0m.1 2.1h0m0 4.4h0m.1-6.4h0m0 3.3h0m0 .2h0m.1-5.4h0m0-1.1h0m.2 .3h0m0 4.6h0m.1-6.6h0m0 7.2h0m.1-4.5h0m0 5.2h0m0-1.3h0m0-5.3h0m.1 1.5h0m0-1h0m.1 3.6h0m.2 3.9h0m0-1.6h0m0-.7h0m.1-6.8h0m.2 5.8h0m0 .6h0m0-5.5h0m.1 4.3h0m0-.5h0m0 .1h0m0 4.1h0m.1-9.1h0m.1 7.5h0m0-2.8h0m0 1.5h0m.1-3.7h0m0-2.3h0m.1 6.3h0m0-5.5h0m0 6h0m0-1.9h0m0 1.3h0m.1 2.1h0m0-3.6h0m0 1.7h0m0-3.9h0m.1 3.4h0m.1-.4h0m0 3.1h0m0-1.7h0m0-.5h0m.1-4.6h0m0 7.1h0m.2-4.2h0m.1-1.9h0m.1 5.2h0m0-1h0m0-.4h0m0 .4h0m.1 .3h0m.1 .6h0m0 2.8h0m0-2.4h0m0-.4h0m.1-2.6h0m0 1.1h0m0-1.7h0m0 2.2h0m0-.7h0m.1 .9h0m.1-1.1h0m0-2.1h0m.1 2.5h0m0-.9h0m.1-1.7h0m0 6.9h0m0-6.2h0m.1 2.4h0m0-3.4h0m.1 2.6h0m0-.8h0m0 1.3h0m0-1.5h0m0 0h0m.1 1.2h0m0 2.1h0m.1 1.6h0m0-3.6h0m.1-.4h0m0 2.9h0m0-2.6h0m0 4.4h0m0-5.1h0m.1 1.1h0m0 1.4h0m0-.8h0m.1-.3h0m.1 3.7h0m0-6.9h0m0-2.4h0m.1 4.4h0m0 4h0m0-5.1h0m.1 1.8h0m.1-3.1h0m0 1h0m0 3.4h0m0-3.5h0m0 4.2h0m.1-7.6h0m0-.9h0m.1 3.7h0m0-.4h0m0-.3h0m.1 3.6h0m0-.5h0m0 1.4h0m.2-.3h0m0-3.8h0m.1 3h0m.1-1.7h0m0 5.9h0m.1-6.7h0m0 6.5h0m0-5.9h0m0-3.6h0m0 6.7h0m.1-2.2h0m0-.9h0m.1 2.4h0m0 .8h0m.1-3.1h0m0 .9h0m.1 1.2h0m.1 .9h0m0-5.3h0m.1 1.9h0m0 1.4h0m0 3.8h0m.1-5.7h0m0 1h0m.1 3.2h0m.1-1.9h0m.1-.6h0m0-3.1h0m.1-1.4h0m0 3.7h0m.1 1.5h0m0 .5h0m.1-1.3h0m.1 .4h0m0 .4h0m.1 3.9h0m.1-1.5h0m0-2.9h0m0-4.6h0m0 5.9h0m0-6.8h0m.1 9.1h0m0 1.3h0m0-1.3h0m0-.7h0m.1-3.4h0m0 2.9h0m.1-4.1h0m0 3.8h0m0-2.4h0m.2 1.1h0m.1-2.8h0m.1 6.1h0m0-4.6h0m.1-2.7h0m0 2.3h0m0 .3h0m0 2.3h0m0 1.9h0m0-8.3h0m0 3.4h0m.1-1h0m.1 4.9h0m0-5.9h0m.1-.3h0m0 7.2h0m.1-6.7h0m.1 2.8h0m.1 4.2h0m0 1h0m.1-4.4h0m0-2.6h0m0-1.4h0m0 5.1h0m.1-4.4h0m.1 2.1h0m0 4.7h0m0-1.8h0m.1-6.7h0m0 4h0m0 0h0m.1-1.6h0m0 2.8h0m.2-.1h0m0-2h0m.1 3.4h0m0-1.1h0m.1-3.4h0m0 4.2h0m.1-3.6h0m0-3.5h0m0 5.3h0m.1-1.5h0m0 .5h0m0 3.1h0m.2-2h0m.1 .5h0m0-3h0m0-2h0m.1 2.8h0m0 1.5h0m0-1.5h0m.2 1.1h0m0 3.3h0m.1-4.3h0m0-.2h0m0 2.1h0m.1 .3h0m0-.4h0m0 .8h0m.1 1.8h0m0-.4h0m.1-3.7h0m0-.4h0m.1 4.2h0m0 1.1h0m.1-3.1h0m0-5.8h0m.1 2.4h0m.1 4.9h0m.1-2.4h0m0 4.1h0m.1-4.2h0m.1-.7h0m0-2.1h0m0 5.7h0m.1-4.2h0m0-1.3h0m.1 2.4h0m0-2.1h0m0 3.2h0m.1 .7h0m0-1.4h0m.1 1.4h0m0-.8h0m0 4.4h0m0-2.6h0m.1-5.9h0m0 4h0m0-5.4h0m.1 4.2h0m0 2.3h0m.1-2.7h0m0 1.3h0m0-1.7h0m0 2.8h0m0-2.4h0m.1-3.8h0m.1 2.3h0m.1 4.4h0m0-1.8h0m.2-1.5h0m.1 .3h0m0-.6h0m.1 2.4h0m.1-2.4h0m.1 2.3h0m.1 .5h0m0-1.9h0m.2 2.9h0m0-2.2h0m0-.7h0m.2-2.9h0m0 4.1h0m0-1.1h0m.1 2.3h0m0-1.2h0m0 2.2h0m0-2.8h0m.2 2.3h0m0-4.2h0m.2 5.4h0m.1-4.5h0m0 1.2h0m0 .5h0m.1 .3h0m.1-3.9h0m0 .2h0m0 .5h0m0 4.6h0m0-1.4h0m.1 1.9h0m0-2h0m.1 .7h0m.1-2.2h0m.2 1.6h0m.2 .7h0m.1 .1h0m0-4.5h0m0 1.1h0m0 6.7h0m.1-.3h0m0-4.2h0m0 2.4h0m0-2.8h0m.1 2.1h0m.1 .8h0m0-2.8h0m0 2.3h0m0-4.2h0m.1 3.7h0m.2 .8h0m.2 .1h0m.3-3.3h0m0 .7h0m0-.5h0m.1 .3h0m0-.3h0m0-4h0m0 6.4h0m.1-2.2h0m0 1.5h0m.2-4.3h0m0 4.2h0m0-2.1h0m0 2.3h0m0 3.3h0m.1-3.9h0m0-1.1h0m.1 1.5h0m0-.6h0m0 .1h0m0-3.1h0m.1 5h0m.1 2.1h0m0-2h0m.1-4.7h0m0-2.6h0m0 6.5h0m.1 .7h0m0-7.3h0m.1 1.6h0m0 5.6h0m.1-3.8h0m0 3.6h0m0 .8h0m0-4.1h0m.1 1.1h0m0-2.3h0m0 2.9h0m.1 3.3h0m0-.4h0m0-3h0m.1-.8h0m0 .3h0m0 4.2h0m.1-5.7h0m0 .9h0m0-1.1h0m0-.1h0m.1 2.1h0m0-3.2h0m0-.7h0m.2 7.5h0m0-1.1h0m0-3h0m.1-2.7h0m0 .8h0m.1 2.8h0m0 .3h0m0 .3h0m.1-3.5h0m0 4.5h0m0-1.2h0m0 1.1h0m.1-1.9h0m0-.2h0m0 1.2h0m.1 1.8h0m.1-7.8h0m0 5.3h0m0-2.1h0m.1 3.1h0m0-1.9h0m0-1.1h0m0-.2h0m.1 0h0m0-3.1h0m.1 4.2h0m0 4.6h0m.1-6.5h0m.2 2.3h0m0 2.5h0m.1-3.9h0m0 .8h0m0-1.8h0m.1 4.1h0m0 2.1h0m.2-1.6h0m0-2.8h0m0 1.7h0m.1-1.9h0m.1 2.6h0m.1-.7h0m0-.9h0m.1-3.8h0m0 7.6h0m0-3.8h0m.1-1.4h0m0-1.6h0m.1 6.3h0m0-5.4h0m.4 3.7h0m0-1.5h0m0-1.9h0m0 4.9h0m.2-4.7h0m0 1.4h0m0 1.3h0m.1 .2h0m0 1.6h0m.1-.4h0m0-2.1h0m0 .5h0m.2-5.6h0m.1 1.9h0m0 .6h0m0 .7h0m0 3.7h0m.1 1.1h0m0-5h0m0 0h0m.1-.2h0m0 5h0m.1-5h0m0 6h0m0-5.9h0m.1 1.3h0m.1 1.4h0m0-1.2h0m.2 0h0m0 3.4h0m0-.4h0m.1-1.5h0m0-2.6h0m0 2h0m.1 2.3h0m0-5.4h0m.1 3.7h0m.2-2h0m.1-2.4h0m0 .6h0m0 2.6h0m0 2.3h0m.2-2.6h0m0 .9h0m0 1.2h0m0-1.2h0m0 .4h0m.2 .8h0m.2-1.5h0m.1 1h0m0-4.5h0m.1 6.1h0m0-4.9h0m0 2.1h0m.1 .9h0m.2-.4h0m0-1.2h0m0-3.4h0m0 2.8h0m.1 2.2h0m0 1.2h0m.2-1.4h0m0 0h0m.1 .6h0m.1-1.6h0m.1 1.6h0m.1-3.1h0m.1 .6h0m.1 0h0m0 .3h0m.1 2.4h0m.1 .5h0m0-2.2h0m0-1.5h0m.2-1.9h0m0 1.9h0m.1 .6h0m0-1.5h0m.1 2.4h0m0 4.1h0m0-2h0m0-1.5h0m0-5h0m.1 7.4h0m0-2.3h0m.1 .6h0m0-.5h0m0-3h0m.1 6.5h0m0-1.4h0m0-3.6h0m0 0h0m.1 1.7h0m.1-1.7h0m0-.6h0m.2 2.6h0m0 .2h0m0-2.9h0m0 2.3h0m.1-3.9h0m0 1.9h0m0 4.1h0m0-6.3h0m0 4.3h0m.1-3.1h0m.1 .3h0m0 3.1h0m0-2.7h0m.1 2.5h0m0-1h0m.1 .2h0m.2 1.5h0m0-1.4h0m.1 .7h0m0 1.3h0m.1-4.3h0m0 2.6h0m0 1.6h0m.1-2.3h0m.2-.7h0m0 .6h0m.1-1.3h0m0 5.3h0m.1-6.9h0m0 5.7h0m0-1.5h0m.1-.4h0m0-1.4h0m.1 2.4h0m0-2.1h0m0 1.3h0m.1-1.4h0m0-2.8h0m0 2.9h0m.1 2.2h0m.1-.4h0m0-.3h0m0-1.4h0m0 1.4h0m.1-2.8h0m0 .9h0m0 5h0m.2-4.5h0m.1-.9h0m0 .3h0m0-1.5h0m0 3.2h0m.1 1h0m0-2.7h0m.1 2.4h0m0-1.9h0m0 .3h0m.1 2.2h0m.1 1.2h0m.1-3.7h0m0-.9h0m.1 2.5h0m.1 .1h0m0-1.1h0m.1-2.5h0m0 4.1h0m0-6.1h0m0 4.1h0m.1-1.9h0m0 4.3h0m0-4.1h0m.1 4.3h0m.1-5h0m.1 .7h0m.2 4.4h0m.1-2.4h0m.1-2.3h0m0 .8h0m.1-2.8h0m.1 2.5h0m0-.7h0m0 2.9h0m.1 .5h0m0-5.2h0m.2 3.9h0m0 2.3h0m.1-5.5h0m.1 2h0m.1 .1h0m.1 5.5h0m0-3.5h0m0 .9h0m.2 0h0m0 .6h0m0-4.7h0m.1 1h0m.1 1.2h0m.2 .3h0m0 .2h0m0-.5h0m0 3.8h0m.1-3.8h0m0 1.7h0m.1-3.3h0m0 2.6h0m0 0h0m.1-1.1h0m0 .9h0m.2 .3h0m0 .6h0m0-5.4h0m.1 2.6h0m0 .2h0m.1-1.6h0m0 .9h0m.1 2.5h0m.1 1.7h0m.1-1.9h0m0-2.6h0m.1 2.2h0m0-2.4h0m.1 1.9h0m0 .3h0m.1-.5h0m.1 2.3h0m0-3h0m.1 3h0m0 .1h0m.1 .3h0m.1 1.7h0m0-.8h0m.1-3.8h0m0 4.5h0m0-.9h0m0-.9h0m0-.4h0m.1-1.1h0m0 1.2h0m0-5.5h0m.1 1.7h0m0 6.4h0m.2-3.2h0m0 2.2h0m0-1.5h0m.1-3.2h0m.1 1.4h0m0 .7h0m0-.8h0m.1-.5h0m.1-1.7h0m0 2h0m0 2.1h0m0-1.6h0m0-3.4h0m.1 5.9h0m.1 .9h0m0-4.7h0m0 1.3h0m0 1h0m0 1h0m.1-2.3h0m.1-.1h0m.1 .4h0m0 3.4h0m0-5h0m.1-.1h0m0 2.7h0m0-.6h0m0 1.2h0m0-2.1h0m.2 2.7h0m0-1.7h0m0-.2h0m.1 1.2h0m.1-3.4h0m.1 5.5h0m0-5.7h0m.2 .3h0m.1 1.8h0m0 .6h0m.1-2.7h0m.1 4.5h0m.1 .5h0m0-2.2h0m0-1h0m.1 1.8h0m0-1.6h0m0-2.2h0m.1 1.9h0m0 .8h0m0-.8h0m0 2h0m.1-2.5h0m0-.7h0m.1 2.2h0m.2 2.4h0m0-5.2h0m.1-.6h0m0 3.9h0m0-2.2h0m.1-1.9h0m.1 5.2h0m0-3.2h0m0 .6h0m0 .8h0m.2-3.3h0m0 .2h0m0 .8h0m.2 2.5h0m.3 .6h0m.1-1.3h0m.3 1.3h0m0-2.5h0m0-2.5h0m.2 5.6h0m.1 1.2h0m0-1.2h0m.1 0h0m0-3.4h0m0 .3h0m0 3.4h0m.1-3.1h0m.4 1.5h0m0-2.1h0m.1-.1h0m0-.8h0m.1 5.2h0m.1-3.3h0m0 3h0m0-3.8h0m.1-.4h0m.3 .6h0m.2 .8h0m0 .8h0m0 .4h0m.1 3.2h0m0-5.4h0m0 .2h0m.1-1.2h0m.1 1.3h0m0 3.1h0m.1 1.3h0m.1-3.1h0m0-4h0m.1 3.4h0m0-.6h0m0 1.9h0m.3-1.2h0m0-.7h0m0 1.5h0m.2 2.6h0m.1-4.1h0m0 2.5h0m0 .2h0m.1-2.3h0m0 1.3h0m0-.9h0m.1-1.8h0m0 4h0m.1-3.8h0m0 4.7h0m.1-2.5h0m.1 2.7h0m.1-5.3h0m.1 .1h0m.3-1.2h0m.1 2.6h0m.1 2.8h0m.1-3.5h0m.2 2.7h0m.1-1.5h0m.2-.2h0m.1 .6h0m.2 1.9h0m0-4.6h0m.1 .7h0m0 5.1h0m0-.3h0m0-1.3h0m0-1.5h0m.1-1.3h0m0 2.6h0m.1-.3h0m0-4.2h0m.1 3.8h0m0 .3h0m.2-.9h0m.1 .5h0m.1 .1h0m0-.7h0m0-.1h0m.1-1.2h0m.2 1.5h0m.2-.5h0m0-2.2h0m.1-1.3h0m.1 3.6h0m0 .3h0m.1 1.1h0m.1 1.1h0m0-4.7h0m.1 3.4h0m.1-1h0m.1 1.5h0m.2 1.8h0m.1-4.9h0m0 2.7h0m0-1.9h0m.2-.8h0m0 2.3h0m0-.8h0m0 .1h0m.2 0h0m0 .3h0m.2 1h0m0 2.4h0m0-4h0m.1-.3h0m0 0h0m.3 1.2h0m0-1.7h0m0 1.3h0m.1-1.2h0m0 2.1h0m0 .1h0m.1-2.9h0m0 3h0m0-2h0m.1 2.8h0m.1-2.2h0m0-2.5h0m.1 3h0m.2-.3h0m0-3.8h0m.2 1h0m.4 2.3h0m.1 1.6h0m.1-2.4h0m0 2.6h0m.1-.1h0m0-.9h0m0 .5h0m0 1.5h0m0-3.9h0m.1 1.5h0m.1 .2h0m.2 3.2h0m0-3h0m0-1.6h0m.1 4h0m0-3.3h0m.1-2.5h0m.1 .8h0m0 1.9h0m.1 1.5h0m.1-4.9h0m0 3.8h0m.1 .8h0m0-3.8h0m0 1.9h0m0 2.1h0m.1 2.6h0m0-1.6h0m0-1.4h0m.2 1.8h0m.2-2.2h0m.1-.5h0m0 3.2h0m.1-3.9h0m.2 4.5h0m0-2.7h0m.1-2h0m0 2.4h0m0-2.6h0m.1 .7h0m0 3.9h0m.1-.6h0m0-5h0m0 2.8h0m.1-.2h0m0-.7h0m0 1.6h0m.1-3.3h0m0 3.1h0m.1-3.9h0m0 2.4h0m.2 1.2h0m0 2.1h0m.1-1.7h0m0-3.5h0m.1 .7h0m.2 3.4h0m0-.8h0m.1-4.5h0m0 0h0m.1 4.8h0m0-1.2h0m0 .2h0m0 1.1h0m.1 .3h0m0-1.1h0m.1-.5h0m0-3.3h0m.1 5.8h0m0-2.5h0m0 1.8h0m0 .8h0m.1-1.2h0m0-.1h0m0 1h0m.2 .1h0m0-.1h0m.1-3.2h0m0-.5h0m.2 1.5h0m0 .5h0m.1-4.3h0m.2 3.6h0m.3 .3h0m.1-.7h0m0 2.5h0m.5-1h0m0 .2h0m.2-.2h0m0 .3h0m0-2.8h0m.1 1.5h0m.2-.3h0m0 .4h0m.2 1.1h0m.1-.3h0m.5-1.4h0m.1 1.2h0m.1-2.6h0m.1-.9h0m.1 1h0m0 .9h0m0-2.7h0m.1 3.6h0m0-1.9h0m0 .2h0m.1 2h0m0-1.3h0m.1 1h0m.1 .3h0m.1 .9h0m0-1.5h0m.1 1.7h0m.1-3.7h0m.1 2.7h0m.2 .6h0m.1 .3h0m0-.3h0m0-.9h0m0 3h0m.1-2.5h0m0 .9h0m.1-.4h0m0-.5h0m.1 .8h0m0-.9h0m.2 .3h0m0-3.9h0m.1 2.9h0m0-.7h0m.2 .3h0m0-2h0m.2 2.9h0m0 1.2h0m0-.1h0m.2-4.1h0m0 1.3h0m0 1.9h0m.2-.4h0m.3-2.8h0m0 1.2h0m.3 1.8h0m.2-1.8h0m.1-.1h0m.1-.1h0m0 2.4h0m.2 1.7h0m0-2.1h0m.2-4.2h0m.1 5.2h0m0-1.1h0m.4 .3h0m0-2.9h0m.1 2.6h0m0-1.5h0m.3 2.8h0m.2 .8h0m.3-2.5h0m0 0h0m.1-2.4h0m.2 .8h0m.1 .6h0m0 3.2h0m.1-1.3h0m0-2.6h0m.1 1.7h0m.1 1.8h0m0 .2h0m.1-1.3h0m.2-1.3h0m.3 1.2h0m0 .1h0m.1-.4h0m0 .7h0m.1 .8h0m0-2.2h0m0-.6h0m0 3.7h0m.1-1.8h0m0 0h0m0 .1h0m.2-1.1h0m.1-1.6h0m.2 .6h0m.1 2.3h0m.2-.3h0m0-.6h0m.1 .5h0m.2 .7h0m0-1.1h0m.1 .2h0m.2-.5h0m.1-.5h0m.2-.5h0m0 .5h0m0 1.2h0m.5-1h0m.1 1.5h0m.2-.1h0m0-3.5h0m.1 1.7h0m0 .8h0m.3 1.3h0m0-2.9h0m.1 2.3h0m0-.1h0m.1 .8h0m0-2.6h0m.1-.7h0m0 3.4h0m.2-1.5h0m0 .3h0m0-1.5h0m.4 .7h0m0 2.7h0m.4-1.9h0m.4-.3h0m.4-.6h0m.2 2.3h0m.2-2.7h0m.1 2.3h0m.2-1.7h0m.1 0h0m0 1.7h0m.1-.2h0m.3-1.7h0m0 .4h0m.2-.6h0m0 1.4h0m.2-.9h0m0-.6h0m.2 1.1h0m.2-.2h0m.2 .9h0m.2 0h0m.6-1h0m.9 .5h0m.1-.9h0m.2 1.9h0m.4 0h0m0-.6h0m0-.5h0m.2-.1h0m.2-.4h0m1.6 .1h0m.4 .8h0m.2 .6h0m.8-1.1h0m.1-.9h0m.3 .7h0m2.2-3.6h0m3.4 4.6h0m.3 2.1h0m4.7 .9h0m1.3-5.5h0m5.9-2.1h0m4.2 .3h0" stroke="#00BFC4" stroke-width="3.7" stroke-linecap="round" fill="none"/>
</g>
<path d="M87.5 390.5v3M139.5 390.5v3M191.5 390.5v3M243.5 390.5v3M295.5 390.5v3M55.2 324h-3M55.2 220.5h-3M55.2 117h-3" stroke="#555" stroke-width="1" fill="none"/>
<rect x="403" y="49.9" width="250.6" height="340.6" fill="#EBEBEB"/>
<path d="M410.2 49.9V390.5M462 49.9V390.5M513.7 49.9V390.5M565.5 49.9V390.5M617.2 49.9V390.5M403 375.8H653.6M403 272.2H653.6M403 168.8H653.6M403 65.2H653.6" stroke="#FFFFFF" stroke-width="0.9" fill="none"/>
<path d="M436.1 49.9V390.5M487.9 49.9V390.5M539.6 49.9V390.5M591.4 49.9V390.5M643.1 49.9V390.5M403 324H653.6M403 220.5H653.6M403 117H653.6" stroke="#FFFFFF" stroke-width="1.6" fill="none"/>
<g clip-path="url(#clipb)">
<path d="M440.0 184.7h0m16.5 18.8h0m5 45.7h0m4.3-54.7h0m.8 10.2h0m13.6 28.8h0m19-4.3h0m5.2-22.8h0m4.5-6.3h0" stroke="#F8766D" stroke-width="3.7" stroke-linecap="round" fill="none"/>
<path d="M423.7 229.3h0m.2-18.3h0m.1 16.5h0m0-17.3h0m0 11.6h0m.3 2.7h0m0-18.7h0m.1 12.2h0m0 1.9h0m.1 6.2h0m0 10.2h0m0-11.7h0m.1-16.5h0m0 30.4h0m0-40h0m0 22.4h0m.1-1.8h0m0 21.1h0m.1-34.8h0m.1 34.9h0m0-19.1h0m.2 16.1h0m.1-28h0m.1 16.7h0m.1 11.7h0m.1-35.5h0m.2 40.3h0m.1-49.2h0m0 53.3h0m.1-54.9h0m.1 29h0m.2-25.8h0m.2 25.9h0m0-28.4h0m.2-1.2h0m.4 61.2h0m.2-32.1h0m.2 33.6h0m0 2.8h0m.1-70.6h0m.1 67.9h0m0 .4h0m0 2.3h0m.1-36.1h0m.1-1.3h0m.1 34.5h0m0-34.8h0m0-3.6h0m.1-30.3h0m.1 30h0m0 12.6h0m0-14.7h0m.1 12.4h0m0-9.2h0m0-.4h0m0 6.1h0m.1-8h0m0-29.8h0m0 2h0m0 23.3h0m0-25.7h0m0 32.4h0m.1 41.5h0m0-41h0m0 14.6h0m0-12.5h0m.1 .7h0m0-35.3h0m0 35.7h0m0 3.4h0m0 .4h0m0 2.5h0m0-8.4h0m.2 7.5h0m0-41.2h0m0 24.8h0m0 8h0m.1 9.6h0m0-14.1h0m.1 14.8h0m0 5h0m0-21.7h0m0 25.7h0m.1-13.1h0m0-4.6h0m0 12.4h0m0 29.3h0m.1-46.1h0m.1 22.6h0m.1-18.5h0m0 5.8h0m.2-1.6h0m0 6.8h0m0-11.2h0m0 6.1h0m.1-18.9h0m0 26.3h0m0-22.8h0m0-4.4h0m.1 21.6h0m0-4h0m0 .9h0m.1 7.1h0m0-3.1h0m0 5.7h0m0-13.2h0m0-41.8h0m.1 45.8h0m0-10.6h0m0-3.2h0m0 12h0m0-7h0m0 22.2h0m0-16.2h0m.1 6.6h0m0 3.8h0m0-29.2h0m.1 32.3h0m0 2.2h0m0-29.4h0m0 13.2h0m0 5.8h0m0-24.8h0m0 16.7h0m0 4.1h0m.1 8.2h0m0-6.2h0m0-12.9h0m0 9h0m.1 3h0m0 2.6h0m0-24.2h0m0 20.4h0m0 7.1h0m0-.5h0m.1-21.8h0m0 2.4h0m0 22.1h0m0-4.3h0m0-3h0m0-4.6h0m0-8.6h0m0 14.2h0m.1 16.2h0m0-61.7h0m0 55.2h0m0-33.7h0m0 11.5h0m0 11.4h0m0-9.6h0m0 6h0m0 43.3h0m0 .3h0m0-30.8h0m.1-14.2h0m0 6.9h0m0-10.1h0m0 24.4h0m0-40h0m0 35h0m0-7h0m0-25.4h0m.1 16h0m0 43.6h0m0-43h0m0 8.1h0m0-17.6h0m.1 24.8h0m0-6.3h0m0-10.9h0m0 12.8h0m.1-23.4h0m0 20.8h0m0 2.3h0m0-11h0m0 6.4h0m.1-16.2h0m0 21.7h0m0-53.8h0m0 35.3h0m0 15.7h0m0-10.1h0m.1-9.9h0m0 8h0m0 9.8h0m0 1.2h0m.1-1.3h0m0-9.5h0m0-9.1h0m.1 3.3h0m0 6.7h0m.1 1.4h0m0 4.1h0m0 8.5h0m0 .9h0m0-20.1h0m.1-.9h0m0 29h0m0-26.6h0m.1 15.3h0m.1-20.3h0m0-3h0m0 61.5h0m0-45.5h0m0-3.3h0m.1 8.1h0m0-16.3h0m0 .9h0m0 11h0m0-22.5h0m0 36.5h0m0-12.4h0m0 22.5h0m0-46.4h0m.1 26h0m0-.2h0m0-18.5h0m0 14.8h0m0-7.7h0m.1-37.1h0m0 25.8h0m0 15.1h0m0-11.7h0m.1 15.2h0m0-9h0m0-20.4h0m.1 .9h0m0 13.6h0m0 8h0m0 .6h0m.1 24.7h0m0-30.4h0m0 21.3h0m0-5.5h0m.1-1.3h0m0 13.1h0m0-16.2h0m0 7.7h0m0 17.9h0m0-19.8h0m0 5.7h0m0-16.3h0m0 11.1h0m.1-18h0m0 12h0m0-.4h0m0 20h0m0-10.1h0m0-1.3h0m0-.1h0m.1-11h0m0 24.7h0m0-20.3h0m0-3.3h0m0 13.5h0m.1-43.5h0m0 18.7h0m0 24.4h0m0-4.6h0m0-13.8h0m.1 1.5h0m0 31h0m0-21.1h0m0-3.8h0m.1 24.2h0m.1-30.3h0m0 17.5h0m0-5.6h0m.1 7.2h0m0-11.5h0m0-19h0m.1 14.5h0m0-9.7h0m.1 2.8h0m0 6.1h0m0 22.9h0m0-22h0m0-5.1h0m0 28.7h0m.1-22.1h0m0 2.3h0m0 13.3h0m.1 1h0m0-21.6h0m0-.8h0m0 24.4h0m.1-18.6h0m0-3.7h0m0 7.7h0m0-5.5h0m0-14.9h0m.1 13.8h0m0 7.6h0m0-2.9h0m0-9.3h0m0-6.2h0m0 6.5h0m.1 9h0m0 2.9h0m0 7.5h0m0-4.7h0m0-3.2h0m.1 5.6h0m0 1.8h0m0-5.2h0m0-6.7h0m0-10h0m0 10h0m0-1.1h0m.1 9.8h0m0-7.4h0m0 17h0m0-36.3h0m0 32.2h0m0-7.3h0m0 3.7h0m.1-32.7h0m0 14.2h0m0-4.9h0m0 15.3h0m.1 4.9h0m0-3.8h0m0-10.7h0m0-18.5h0m0 19.4h0m0 11h0m0 12.4h0m0 .4h0m0-15.1h0m.1-1.4h0m0-7.5h0m0-5.7h0m.1-12.6h0m0 30.7h0m0-18.7h0m0 .4h0m.2 5.1h0m0-.2h0m0 4h0m0 18.2h0m0-26.6h0m.1-12.8h0m0 21.6h0m0-1.5h0m0-26.8h0m.1 31.9h0m0-5.5h0m0 13h0m0-19.8h0m0 8.9h0m0-3.2h0m0 7.4h0m.1-19.1h0m0 13.3h0m.1 11h0m0-15.7h0m0 7.1h0m0-3.8h0m0 10.8h0m0 6.1h0m.1-15.3h0m0 2.1h0m0 11.4h0m0-22.3h0m.1 10.3h0m0-4h0m0 7.4h0m0-3.1h0m.1-12.9h0m0 27.1h0m0-16h0m0 1.5h0m.1 .1h0m0 9.4h0m0-4.1h0m0 1.2h0m0-2h0m.1 11.5h0m0-22.9h0m0 15.2h0m0-12h0m0 2.2h0m0 10.4h0m.1-10.6h0m0 12.6h0m0-20h0m0 12.4h0m.1-4.3h0m0 25.7h0m0-26.3h0m0-5.5h0m0 8.5h0m0 13.1h0m0-11.9h0m0 3.1h0m.1 .6h0m0 19.9h0m.1-17.6h0m0-3.9h0m0 1.8h0m0-16.1h0m.1 8.3h0m0-4.6h0m0-21.6h0m0-1.2h0m.1 26h0m0 11.9h0m0-11.7h0m0 14.6h0m0-12h0m0 12.7h0m0-30.1h0m.1 18.6h0m0 3.6h0m0-7.7h0m0-8.1h0m0 28.1h0m0-1.1h0m0-6.7h0m.1-9.4h0m0-7.8h0m0 18.1h0m0-7.3h0m0 9.4h0m0-5.3h0m.1-5.8h0m0 5.5h0m0-10h0m0 10.9h0m0-9.4h0m0 15.2h0m0-33.6h0m0 33.5h0m.1-3.5h0m0-23.6h0m.1-5.2h0m0 17.4h0m0 5.1h0m0 15.9h0m.1-37.1h0m.1 19.5h0m0-10.6h0m0 31.8h0m0-36.3h0m.1 9.8h0m0-.7h0m0 2.1h0m.1 19.6h0m0-7.2h0m0-.4h0m0 9.9h0m.1-38.1h0m0 5h0m.1 6.5h0m0 2.4h0m0 2.3h0m0 10.8h0m0-5.5h0m0-2.5h0m.1-10h0m0 39.7h0m0-17.4h0m0-17.2h0m.1-4.1h0m0 20.4h0m.1-13.5h0m0 8.9h0m0-2.8h0m.1-3.9h0m0 7h0m0-11.5h0m0 .2h0m0 14.1h0m.1 2.4h0m0-4.1h0m0 10.7h0m.1-14.9h0m0-5.2h0m0-2.3h0m0-7.2h0m0 17.9h0m0-6.7h0m.1 13.5h0m0-18.3h0m0 5.2h0m0-20.1h0m0-10.3h0m0 5.2h0m0 33.1h0m0 1.1h0m0 10.1h0m0-34.3h0m0 25h0m0-3.4h0m0-3.8h0m0 6.6h0m.1-.5h0m0-16.8h0m0 6.1h0m0 11.8h0m0-12.7h0m.1 10.2h0m.1-16.9h0m0 21.2h0m0-22.7h0m0 11.1h0m0-3.9h0m0 21.3h0m.1-12h0m.1-7.1h0m0-9.7h0m0 15.1h0m.1-6.3h0m0 7.8h0m0-12.5h0m0 6h0m0-1h0m.1 3.6h0m0-.3h0m0 .6h0m0-7.7h0m0 14.5h0m.1-9.1h0m0 .1h0m0-10.8h0m.1 3.7h0m0 15.4h0m.1 .3h0m0-4.1h0m.1-10.7h0m0 4.9h0m.1-.1h0m0 10.5h0m0-5.1h0m0-19.9h0m0 5.3h0m.1 23h0m0-3.1h0m0-7.2h0m0 .7h0m.1 5.8h0m0-6.1h0m0-19.1h0m0 12.6h0m0-6.5h0m0 5.5h0m.1 3.9h0m0 .5h0m0 3.7h0m0-1.9h0m.1 6.1h0m0-7.1h0m0-6.8h0m.1 2.2h0m.1 4.8h0m0-18.9h0m.1 23.5h0m0 11h0m0 .6h0m0-28.8h0m0 18.3h0m.1 2.7h0m0-15.6h0m0 9.6h0m0 11.1h0m0-8.6h0m0 2.7h0m.1-13.5h0m0 5.1h0m0 1.1h0m0-18.9h0m.2 5.3h0m0-.9h0m0-5.2h0m0 23.7h0m.1-18.3h0m0 7.2h0m0 12.7h0m0-1.2h0m.1-9.6h0m0 16.3h0m0-17.2h0m0 9.9h0m0-4.5h0m0-3.1h0m.1-3h0m0 11.1h0m0-6.1h0m.1-1.7h0m0-10.6h0m0 18.9h0m0 11.7h0m0-20.4h0m.1 3.7h0m0 4.9h0m0-9.9h0m.2 6.3h0m0 19.9h0m0 .8h0m.1-7.1h0m0-32.8h0m0 24.1h0m0-3.1h0m0 8.3h0m0-4.3h0m0 20.2h0m.1-22.6h0m0-15.6h0m0 5.3h0m0-.5h0m.1 .5h0m0 4.4h0m0-7.3h0m0 .1h0m0 12.3h0m.1 6.7h0m0-7.6h0m0-12.2h0m.1 20.2h0m0 4.6h0m.1-13.2h0m0-2.2h0m0 15.3h0m0-12.7h0m.1-9.9h0m0 5.4h0m0 6.6h0m0-18.8h0m0-2.1h0m.1 2.1h0m0 6.8h0m0-8.9h0m0 22.5h0m0-8.2h0m.1-4.5h0m0 5.4h0m.1-10.1h0m0 19.3h0m.1-6.2h0m0-.9h0m0 5.1h0m0-5.7h0m0 8h0m0-19h0m.1 6.6h0m0-5.2h0m0 17h0m0 .8h0m0-13.7h0m.1 4.4h0m0-10.1h0m0 14.1h0m.1-6.7h0m0 4.8h0m.1-1.9h0m0 2.1h0m0-22.9h0m0 28.1h0m0 3.9h0m.1-16.6h0m0 10.6h0m.1-6.6h0m0 10.1h0m0-12.1h0m0 8h0m0 3.4h0m0-12.4h0m.1 4.3h0m0 5.6h0m0 1.3h0m0-9.3h0m.1 14.7h0m0-15.2h0m0-3.5h0m.1 4.8h0m0-5.6h0m0 .4h0m.1 11.6h0m0 2.7h0m0-5.1h0m0 10.7h0m0-10.7h0m0 5.2h0m.1-1.7h0m0-3.8h0m0 .9h0m0-7.6h0m0-.6h0m.1 13.3h0m0-8.5h0m0-3.3h0m0 14.5h0m0-1.3h0m0-.3h0m0-3.2h0m.1 6.7h0m0-11.2h0m0 2.9h0m0-7.4h0m0-5.3h0m.1 9.7h0m0 3.6h0m0-6.9h0m.1 5.5h0m0 0h0m0 3.3h0m.1-6.3h0m0 3.2h0m0-11.2h0m0 9.9h0m.1 .2h0m0 2.1h0m0-2.6h0m0 1h0m0 31h0m0-32.5h0m.1 6.1h0m0-5.6h0m.1 6.2h0m0 10.6h0m.1-21.2h0m0 .7h0m0-3.1h0m0 14.2h0m.1-4.3h0m0 1.7h0m.1-3.3h0m0-10.2h0m0 3.3h0m0 2.5h0m0 6.3h0m.1 .2h0m0 3.3h0m0-16.6h0m0 12.2h0m0 1.9h0m.1-12.8h0m0 8.4h0m0-8.9h0m.1 20.6h0m0-7.1h0m0-1.5h0m0-5.5h0m0 7.9h0m0-3.9h0m0 8.7h0m0-13.9h0m.1 18.3h0m.1-16.2h0m0-.7h0m0 6.7h0m0-6.1h0m0 7.9h0m.1 10.3h0m0-13.2h0m0 1.3h0m.1 8.9h0m0-15.3h0m0 12h0m0 2.5h0m0-11.6h0m0-3h0m0 6.4h0m.1-2.8h0m0-16.7h0m0 19.5h0m0 .2h0m.1 .4h0m.1-12.5h0m.1-1.1h0m0 9.3h0m0-8.1h0m.1 10.9h0m0 .2h0m0-13.7h0m0 24.5h0m0-17.1h0m0 1.2h0m.1 9.9h0m0-10.4h0m0 6.8h0m0-18h0m0 10.9h0m.1-18.5h0m0 14.6h0m0-2.4h0m0 4.5h0m0 3.1h0m.1 24.3h0m0-17h0m0-7.4h0m0 5.1h0m0 2h0m0-12.6h0m0 13.1h0m.1-10.8h0m0-20.9h0m.1 21.5h0m0 7.4h0m0-13.6h0m0-4h0m.1 8.3h0m.1 4.2h0m0-25h0m0 27.1h0m0-1.9h0m0-2h0m0-5.1h0m0-5.6h0m.1 18.1h0m0-19.2h0m0 18.4h0m.1-10.8h0m0 8.1h0m0 9.6h0m.1-15.5h0m0 10.1h0m0-4.7h0m0-9.4h0m.1 4h0m0-.8h0m0-1.4h0m0-1.9h0m.2 10.8h0m0-2.7h0m.1-3.3h0m0-.8h0m0 .2h0m.2-5h0m0-14.7h0m0 22.8h0m0 3.9h0m0-.7h0m0 1.4h0m.1-5.1h0m0-2.2h0m0 11.2h0m.1-15.7h0m0 18.9h0m.1-7.3h0m.1-14.1h0m0 3.9h0m0-1.2h0m.1 11.3h0m0 6.2h0m0-15.4h0m0-6.9h0m0 23.2h0m.1-11.1h0m0 15.2h0m0-14.9h0m.1 1.4h0m0-.1h0m0-1h0m0-3.7h0m.1 7.2h0m0-9.3h0m0 11h0m0-18.1h0m0 11.4h0m0 4.3h0m.1-2.7h0m0 3.7h0m0-.5h0m.1-8.1h0m0 7.6h0m0 3.7h0m0 1.3h0m0-3h0m0-11.6h0m.1 .3h0m0-9.3h0m0 15.4h0m0-4h0m0 8.3h0m0-9.1h0m0 9.3h0m0-9h0m0 7.6h0m.1-4.4h0m0 3.1h0m0 5.6h0m.1-15.6h0m0-1.2h0m.1 13.9h0m0-4.5h0m0-14.3h0m0 11.6h0m0 5h0m.1-8.7h0m.1 7.3h0m0 5.4h0m0-8.5h0m.1-.3h0m0 16.1h0m0-8.2h0m0 1.4h0m.1-16.8h0m0 5.8h0m0 5.2h0m.1-2h0m0-6.1h0m0 7.9h0m0 5.5h0m.1 1h0m0-9.2h0m0 2h0m0 5.5h0m.1-9.1h0m0 7.6h0m0-4.5h0m.2 8.6h0m0 14h0m0-24.8h0m0 5.1h0m0-6.9h0m.1 12.7h0m0-4.8h0m0 3.8h0m0-7.5h0m.1-2h0m0 6.8h0m0-2.6h0m0 7.4h0m0-4.8h0m0 3h0m0-.1h0m.1-2.1h0m0-4.7h0m0-17.8h0m0 19.4h0m.1-.5h0m0-10.8h0m0 10.4h0m0-5.1h0m.1-1.5h0m0-25.8h0m0 27.3h0m0 4.9h0m.1-4.4h0m0 6.6h0m0 2.3h0m0 7.3h0m.1-17.4h0m0 4.4h0m0-6h0m0 9.9h0m0-2h0m0-3h0m0 10.8h0m.1-14.9h0m0-2.2h0m0 9.7h0m0-2h0m0-3.5h0m.1 3.5h0m0 2.6h0m0-7.6h0m0 9h0m0-6.1h0m.1 4.6h0m.1 .7h0m.1-3.2h0m0 2.7h0m0-2.5h0m0 .7h0m.1-8.3h0m.1 10.9h0m0-4.8h0m0-.5h0m.1 10.1h0m0-10.8h0m.1 2.8h0m0-2h0m.1-.8h0m0-4.4h0m0 .1h0m0 16.7h0m.1-6.9h0m0-3.5h0m.1-3.1h0m0 8.6h0m0-2.6h0m.2-8.7h0m0 6.5h0m0 2.9h0m.1 3.5h0m0-10.6h0m0-1.5h0m0 7h0m0 10.1h0m0-10.8h0m.1 6.9h0m0-16.7h0m0 3.3h0m.1 13.8h0m0-26.2h0m0 25.9h0m0-7.4h0m.1 .2h0m0 .7h0m0 5.8h0m0-15.4h0m0 7.4h0m0-1.2h0m0-3.8h0m0 4.5h0m.1-6.8h0m0 13h0m0-1.4h0m0 5.2h0m.1-13.1h0m0-6.4h0m.1 8.7h0m0-9h0m0 5.5h0m.1 9.3h0m0-.6h0m0 3.2h0m0-6.1h0m.1-1.5h0m0 5h0m.1 0h0m0 1h0m0-2.8h0m.1-10.6h0m0 16.4h0m0-4.7h0m.1 6.2h0m0-7.5h0m0-7.7h0m.1 5.7h0m0 5.6h0m0-8.1h0m0 3.7h0m0-2.8h0m.1 14.2h0m0-14.6h0m0 1h0m0 6.4h0m0-3.6h0m.1 9.4h0m0-14.5h0m.1 8.3h0m0-10.4h0m0 8.6h0m.1-10.9h0m0 1.7h0m.1 10.2h0m0-7.8h0m0 3h0m0 2.2h0m.1 5.6h0m.1-2.5h0m.1 3.6h0m0-15h0m.1-1.3h0m0 3h0m0 6.2h0m0-4.3h0m.1 8.6h0m0-3.8h0m.1-4.9h0m0 9.2h0m0-3.4h0m0-16.6h0m.1 15.9h0m0 1.6h0m0 4.3h0m0-.8h0m0-5.2h0m.1 11h0m0-7.9h0m.1-4.7h0m0 16.8h0m0-7.9h0m0-9h0m.1 10.6h0m0-8.3h0m0-.8h0m.1-.2h0m0 11.5h0m.1-7.7h0m0 0h0m0-9.4h0m0 2.7h0m0-8.3h0m.1 13.5h0m0-2h0m0-4.7h0m0 6h0m0-7.7h0m.1 8.4h0m0-8.9h0m0 10.9h0m.1-3.8h0m0 1.6h0m0-6.8h0m0 .6h0m.1 3.4h0m0-.6h0m.1 .1h0m0-1.6h0m.2 5.5h0m.1-1.2h0m.1 3.3h0m.1-4.7h0m0-11.2h0m.2 10.8h0m0-5.4h0m0 6h0m0-3.2h0m0 15.1h0m0-14.8h0m0 1.2h0m0-8.6h0m.1 8.8h0m0 6.7h0m0-14.9h0m0 8.4h0m.1 1.2h0m0-1.8h0m0-5.3h0m0 .9h0m0 7.4h0m.1-3.8h0m0 13.4h0m0-12.9h0m.1 5.5h0m0-12.6h0m0 6.2h0m0-1.4h0m0-6.6h0m0 8.7h0m.1-.9h0m0 3h0m.1-1.8h0m0-8.2h0m0 14.9h0m0-11.2h0m0 6.2h0m0 .2h0m.1-.1h0m0 5.5h0m.1-1.6h0m0-4.7h0m0-1.4h0m.1 4.1h0m0-3.4h0m0 2.1h0m0-5.8h0m0 5.8h0m.1-5.4h0m0-1.3h0m0-.4h0m0 7.5h0m0-.8h0m0 .1h0m0 1.3h0m0 6.8h0m.1-19.8h0m0 6.7h0m.1 3.1h0m0 6.4h0m0-2.4h0m0-3.4h0m0 10.8h0m0-4.1h0m.1-5.5h0m0-7.3h0m.1 8.5h0m0 3.4h0m0-2.9h0m0-6h0m0 2.9h0m.1 7.4h0m0-1.9h0m.1-.7h0m0-17.4h0m0 22h0m0-22.8h0m.1 6.7h0m.1 11.1h0m.1-.8h0m0 .1h0m0-1.9h0m0-.5h0m0-11.7h0m.1 5.6h0m.1 7.1h0m0-11.1h0m0 7.6h0m.1 4.6h0m0 4.2h0m0-2.4h0m0-3.4h0m.1 1.2h0m0-5.7h0m.1 4.5h0m0 .8h0m.1 4.9h0m0-8.5h0m0 4.9h0m.1 1.5h0m0-2.1h0m0-3.7h0m0-4.7h0m0 10.8h0m0-9.1h0m0 7.1h0m0-3.6h0m.1 .2h0m.1-1.5h0m0 8.2h0m0-5.3h0m0-5.9h0m0 10.2h0m0-.8h0m.1-10.9h0m0 14.6h0m0 1h0m0-8.7h0m0 2.2h0m0-19.9h0m.1 18.1h0m.1-2.1h0m0-5.9h0m0 8.5h0m.1-8h0m0 1.7h0m.1 5.2h0m0 3.6h0m0-1.9h0m.1 2.7h0m0-9.4h0m.1 10h0m0 .7h0m0-1.4h0m0-7.9h0m.1-1.7h0m0 6h0m.1 16.3h0m0-24.5h0m0 7.5h0m.1-6.4h0m0 11.7h0m0-5.5h0m.1-3.3h0m0 9.6h0m0-8.3h0m0 7.4h0m0-10.5h0m0 4h0m0 2.5h0m.1 2.3h0m.1-12.1h0m0 3.9h0m.1 7.9h0m0-1.6h0m0-2.5h0m0 4.2h0m.1-4.3h0m0 7h0m0-4h0m0-19.7h0m0 19.6h0m.1-.3h0m0-1.2h0m0 1.5h0m0-3.9h0m0 .6h0m0 5.3h0m.1 .1h0m0-5.4h0m0-3.4h0m0 8.9h0m.1-5.8h0m0 2.6h0m0-6.8h0m.1 10.4h0m0-5.8h0m0 5.1h0m0-.2h0m.1 1.3h0m0-2.5h0m.1 5.3h0m0-5.4h0m0-4.4h0m0-4.7h0m0 9.7h0m0 7.3h0m.1-8.8h0m0 .2h0m.1-6.5h0m0 8.1h0m0 .9h0m0 .3h0m0-8.8h0m.1-1.2h0m0 5.5h0m.1-6.2h0m0-1.2h0m0 8.6h0m0-3.8h0m0 .4h0m.1-2.8h0m0 1.5h0m.1-3.1h0m0 8.7h0m0-10.5h0m.1 2.3h0m0 1h0m0 8.6h0m0-10.7h0m0 3.7h0m0 9.9h0m.1-5.5h0m0-2.8h0m0-1h0m0-1.7h0m0 3.1h0m0 1.8h0m.1-.7h0m0-2.6h0m0 2.9h0m0 1.9h0m.1-2.2h0m0-2.3h0m.1-4.1h0m0 8.6h0m.2 1.9h0m.1-3h0m0-2h0m.1 4.2h0m0-14.7h0m0 24.2h0m0-9.9h0m0-2.7h0m0-4.2h0m.1 6.6h0m0-4.3h0m0-.5h0m.1 .9h0m0 2h0m0 3.6h0m0-6.5h0m.1 5.3h0m0-5.2h0m0-.7h0m.1-1.8h0m0 4.8h0m0-.4h0m.2 2.2h0m0-4.8h0m0-4.2h0m0 4.9h0m.1-14.1h0m0 19.8h0m0 1.6h0m0-.7h0m.1 1.4h0m0-13.1h0m0 9h0m.1-1.8h0m.1-2h0m0 6.3h0m0-10.9h0m.1 10.7h0m0-1.6h0m0-4.8h0m0 4.1h0m0-4.1h0m0 4.9h0m0 7h0m.1-8.6h0m0-10.8h0m0 2.3h0m.1 7.4h0m0 1.1h0m0-2.3h0m.1-3.4h0m0 4.7h0m0 15.5h0m.1-14h0m0 3.9h0m.1-13.8h0m0 6.2h0m0-9.8h0m.1 12h0m.1-1.6h0m0 2.4h0m0-4.6h0m0 5.2h0m.1-7.5h0m0 7.8h0m0 4.2h0m0-7h0m0-7h0m0-.8h0m0 13.1h0m.1-8.4h0m0 7.7h0m0-.1h0m0 2.8h0m.1-1.7h0m0-2.1h0m.1-8.2h0m.1 8h0m0-4.6h0m0 4.9h0m.1-9.6h0m.1 3.6h0m.1 .2h0m0-1.9h0m.1 4.4h0m0 3.1h0m0-6.9h0m0 5.9h0m0-21.1h0m.1 18.8h0m0 .3h0m0 3h0m0-6.5h0m.1 .3h0m0 7.2h0m0-4.4h0m0-5.3h0m.1 8.9h0m0-7.5h0m0 4.4h0m0-3h0m.1 7.5h0m0 3h0m0-12.5h0m0 6.6h0m.1-4.8h0m0 15h0m0-17h0m0 10.7h0m0-2.4h0m.1 1.6h0m0-4.7h0m0 4.1h0m.1 2.1h0m0-1.4h0m0-.5h0m.1-9.1h0m0 8h0m0-2.7h0m0-14.2h0m0 17.2h0m.1 .3h0m0-.6h0m0-5.9h0m0 8.7h0m.1 1h0m0-6.7h0m.1 .3h0m0 2.4h0m.1 2.5h0m0-.9h0m0-2.6h0m.1-2.3h0m0 .2h0m.1-4.4h0m0 5.1h0m0 5.2h0m.1 .2h0m0-1.6h0m0-7.8h0m0 11.6h0m.1-3.9h0m0-7.5h0m0 .8h0m.1 5.5h0m0-4.9h0m0 3.3h0m.1 4.1h0m0-5h0m0 2.3h0m0-3.5h0m.1-.7h0m0 8.6h0m.1-1.4h0m.1-6.6h0m0-7.5h0m0 7.1h0m.1-7.4h0m0 7.3h0m.1 4.5h0m0-4.6h0m0 3.4h0m.1 2.8h0m.1-5h0m0 1h0m0 .4h0m.1-4.3h0m0 3.2h0m0-.6h0m.1 3.7h0m0 1.4h0m0 1.1h0m.1-3h0m0-2.7h0m.1-2.5h0m0 6.3h0m0-1.2h0m0 1.6h0m.1 .5h0m0-9.2h0m0 12.3h0m0-8.3h0m0 2h0m0 3.7h0m.1-.5h0m0 .6h0m0-6.3h0m0 3.3h0m.1-1.7h0m0 0h0m0-.8h0m.1 5.2h0m.2-12.8h0m0 5.9h0m0-.8h0m.1 2.8h0m0-1.3h0m0 4.5h0m0-3h0m.1 3.3h0m0-2.3h0m.1-3.8h0m.1 6.1h0m0-.2h0m0-2.3h0m0 1.9h0m.1-5.3h0m0 7.2h0m0-6h0m0-.5h0m.2 7.9h0m0-5h0m0-5.2h0m0 .5h0m0 7.7h0m0 .4h0m0-3.6h0m0-3.7h0m.2 .9h0m0-6.2h0m0 9.3h0m0 2.5h0m.1 1.7h0m.1-2.1h0m0-10.1h0m0 8.3h0m.1 1.8h0m.1-11.9h0m0 9.1h0m0 .8h0m.1-4.6h0m0 5.5h0m0 2.2h0m.1 0h0m0-2.2h0m0-4.7h0m0-4.1h0m0 10.9h0m0-3.4h0m.1 1.7h0m0-4.1h0m0 3.2h0m.1-.2h0m.1 1.6h0m0-14.3h0m0 7.6h0m.1 6.1h0m0 .7h0m.1-3.6h0m0 13.2h0m0-11.5h0m0-.9h0m.1-7.6h0m0 5.8h0m0-1.5h0m0 5.1h0m0-.1h0m0-4.7h0m.1-.8h0m0 3.6h0m.2 .3h0m0 5.9h0m0-7.5h0m0 1.9h0m.1-8.3h0m.1 11.1h0m0-.9h0m.1-1.9h0m0 8.6h0m0-10.7h0m0 2.3h0m0 1.9h0m0-6.7h0m0 13.1h0m0-9.5h0m0 2.7h0m0-3h0m.1 13.1h0m0-8.9h0m.1 .1h0m0-6.1h0m0-1.3h0m0-5.5h0m.1 17.8h0m0-13.1h0m0 5.3h0m.1 6.4h0m0-5.7h0m0-8.1h0m.1 14.3h0m0-8.9h0m.1 2.9h0m0-1.6h0m0-.6h0m0 13.7h0m0-10.6h0m0 3.8h0m.1-.8h0m0-10h0m0-1.3h0m0 12.6h0m.1-12.5h0m0 6.5h0m0-5.7h0m0 13.1h0m0-5.3h0m.1-.1h0m0-.5h0m0-5.2h0m0 8h0m0-2.3h0m.1-.1h0m0-5.5h0m0 12.5h0m0-3.4h0m0 1.3h0m0-9.6h0m.1-4.7h0m.1 6.8h0m0 3.7h0m0-2.6h0m0 4.8h0m0-12.9h0m0 4.3h0m0-5h0m0 2h0m.1-4h0m0 10.2h0m0 5.2h0m0-5.6h0m.1-.8h0m0 2.3h0m0-6.1h0m0 8.2h0m.1 1h0m0-3.5h0m0 3.4h0m.1-4.8h0m0-4.3h0m0 7.8h0m.1-8.1h0m0 4.3h0m0-2.7h0m0 6h0m0-2.3h0m.1-10.4h0m0 6.2h0m0 12.2h0m.1-9h0m0-4h0m0 6.5h0m0-6.3h0m0 8.9h0m.1-2.6h0m0 4.1h0m.1-2.6h0m0-4.9h0m0 .8h0m0 1.3h0m.1-1.8h0m0-7.8h0m0 19.5h0m0-9h0m0 3.1h0m0 .8h0m.1-2.8h0m0 3.8h0m0-4.4h0m0 6h0m0-2.7h0m0-10.9h0m.1 11.1h0m0 .4h0m0-8h0m0 6.1h0m.1-7.4h0m0 7.1h0m0-4.9h0m.1-1.4h0m0 4.5h0m.1-2h0m0 6h0m.1-4.4h0m0-1.2h0m0 .2h0m0-3h0m.1 1h0m0-1.8h0m0 7.8h0m0 3.5h0m0-1.3h0m.2-9.9h0m0 13.6h0m0-13.3h0m0 .6h0m0 6.8h0m.1-4.2h0m0-3.6h0m0 6.3h0m.1 1.9h0m0-5.4h0m.1-2.4h0m0 4.4h0m0-1h0m.1-3.1h0m0 4.5h0m0-3.9h0m.1 9.3h0m0-11.4h0m0 15.9h0m0-14.9h0m.2 7.5h0m0-2.9h0m0-9.3h0m.1 16.9h0m0-11.2h0m.1 3h0m0 .7h0m0-3.4h0m0 2.3h0m.1-3h0m0 5h0m0 1.4h0m0 7h0m0-13.8h0m.1 4.3h0m0-1.5h0m0 3.3h0m0 3.1h0m0-9.2h0m.1 1.1h0m0 3h0m0 1.5h0m.1 3.7h0m0-4.3h0m0-3.3h0m.1-10.7h0m0 9.1h0m.1 10.8h0m0-7.2h0m0-7h0m0 3.9h0m0 11.2h0m.1-9.3h0m0-.3h0m0-2.9h0m.1 4h0m0 8.3h0m0-11.7h0m0 5.6h0m.1 1.6h0m0-4.4h0m0 0h0m0 2.1h0m.1-6.6h0m0 5.4h0m0-2.4h0m.1 6.1h0m0-.7h0m0 14.9h0m0-16.6h0m0-5.3h0m0-.2h0m.1 1.1h0m0 9.9h0m0-7.8h0m.1-2.1h0m0-7.3h0m0 3.7h0m.1 8.4h0m.1-2.2h0m0-1.6h0m0 6.1h0m0 1.9h0m0-5h0m.2-1.1h0m0-4.5h0m0-2.4h0m0 6.7h0m.1 .3h0m0 1.8h0m0-5.3h0m.1 1.6h0m0 1h0m0 2.9h0m0-5.4h0m.1 8h0m.1 3.2h0m0-11.3h0m0 9h0m.1-6.2h0m.1-2.5h0m0 8.6h0m0-2.6h0m.1-.4h0m0-3h0m0-4.2h0m0 1.7h0m0 1.7h0m.1-3.9h0m0 6.1h0m.1 1.8h0m0-4.7h0m0-2.2h0m0-.7h0m0 7.7h0m0-.4h0m.1-3.4h0m0-1.8h0m.1 5.3h0m.1-.5h0m0-4.2h0m0 .7h0m0 4.1h0m0 2.5h0m0-.2h0m.1 13.6h0m0-15.4h0m.1-2.2h0m0 5h0m0-5.9h0m.1 7.6h0m0-9.5h0m0 5.8h0m0-3.2h0m.1-.8h0m0 2.2h0m0-1.9h0m0-3.9h0m.1 1.4h0m0-7.3h0m0 8.7h0m0 1.1h0m0 2.7h0m.1-1.8h0m0 5.5h0m0-7.5h0m0 2.5h0m0 .9h0m0-5.2h0m.1 6.5h0m0 .4h0m0-7.5h0m.1-3.1h0m0 4.3h0m0-6.1h0m0 16.8h0m0-8.8h0m.1-3.4h0m0-3.1h0m0 6.3h0m0-5.1h0m0 12.3h0m0-10.8h0m.1 2.7h0m0 3.5h0m0-1.8h0m0-1.1h0m.1 2.3h0m0-3h0m0 4.2h0m.1-5.7h0m0 3.1h0m0-1.1h0m.1-1.6h0m.1 1.2h0m0-1.2h0m.1 2.9h0m0-.2h0m0 .5h0m0 .1h0m.1-1.6h0m0-6.1h0m0 4.6h0m0-6.3h0m0 9.9h0m.1-6.9h0m0 5.8h0m0 3.7h0m0-11.6h0m.1 6.1h0m0-6.8h0m.1 11.1h0m0 1.5h0m0-7.7h0m.1-3.7h0m0 9.2h0m.1-5.9h0m0 9.4h0m.1-9.8h0m0 2.5h0m0-1.4h0m0 7.2h0m0-6.7h0m0 3.9h0m.2-.1h0m0 3.1h0m0 1.3h0m0-4.3h0m.1-4.7h0m0 5.4h0m0-5h0m.1 5.7h0m0-3.6h0m0-.7h0m0 6.7h0m0-.8h0m.1-.5h0m0-3.4h0m0-1.3h0m0 1.4h0m0 .5h0m0-3.6h0m0-1.1h0m0 1.9h0m0 6.7h0m.1-6.3h0m0-1.9h0m0 1.5h0m.1-1.6h0m0 2.5h0m0 1h0m.1 .5h0m0 1.8h0m.1-3h0m0-2.9h0m.1 5.3h0m0-4.6h0m0 3.9h0m.1 .3h0m0 .2h0m0 .9h0m.1-4.8h0m0 2.6h0m.1 4.4h0m0 1.2h0m0-14.3h0m.1 5.3h0m0 4.6h0m0-2.1h0m0 1.7h0m0 2.6h0m.1 0h0m0 .4h0m0-11.5h0m.1 9.4h0m0-.8h0m0 1.1h0m0-.1h0m0-6h0m0 .4h0m.1 3.1h0m0-.6h0m.2 1.2h0m0-5.9h0m0 5.6h0m.2 1.6h0m.1-3.5h0m0-.6h0m0 5.8h0m0-.2h0m.1 1.7h0m0 2.3h0m0-8.4h0m0-2.2h0m.1 7h0m0-5h0m0-7.3h0m0 8.7h0m0 .6h0m0 .1h0m.1-5.1h0m0 4.7h0m.1 5.5h0m0 1.6h0m0-7.3h0m.2-4.7h0m0 2.7h0m0-1.8h0m.1-1h0m0-22.3h0m.1 29.4h0m0-3.2h0m0 2.5h0m0-3h0m.1 6.8h0m0-10.7h0m0 .6h0m0 8.6h0m0-1h0m0-7.6h0m.1 7.3h0m0 .9h0m.1 2.1h0m0-4.9h0m0 1.5h0m0-1.8h0m0 1.7h0m0 4.4h0m0-12.9h0m0 6.9h0m0 3.6h0m0-2.5h0m0-2.4h0m.1-1.3h0m.1 2.8h0m0 .3h0m0-8.9h0m0 7h0m.1-3.9h0m.1 8.1h0m0-1.3h0m0-4h0m.1-1.1h0m0-4.7h0m0 0h0m0 9.3h0m.1-1.9h0m0 5.3h0m0-3.9h0m0-3.7h0m0 4h0m0-5.2h0m0-6.9h0m.1-.9h0m0 13.3h0m.1-3.1h0m0 2h0m0 3.2h0m0-3.9h0m.1-3.8h0m0 1.4h0m.1 1.2h0m0-4.3h0m0 1.8h0m0 5.4h0m.1-7.3h0m0 5.2h0m.1-5.4h0m0 9.3h0m0-1.3h0m0 1.8h0m.1-2.3h0m0-12.8h0m0 13.2h0m0-.9h0m0-2.8h0m0 .6h0m.1 1.9h0m0-6.3h0m0 3.8h0m0-1.1h0m.1-2.9h0m0-.5h0m0 2.1h0m0 1.9h0m0-10.3h0m.1 5.5h0m0 3.6h0m0 5.3h0m.1 .8h0m0 .5h0m0-6.5h0m0 3h0m.1 3.5h0m0-1.7h0m.1-4.6h0m0 9.5h0m0-5.5h0m.1-4.6h0m.1-.8h0m0 12.8h0m0-13.3h0m.1 6.3h0m0 3.6h0m.1 .1h0m0-4.7h0m0-3.6h0m.1-1.5h0m0 4h0m0-7.6h0m0 5.5h0m.1 1.5h0m.1 4.3h0m0 .5h0m0-2.2h0m.2 .3h0m0 .2h0m.1-.8h0m0-.2h0m.1-3.5h0m.1 7.6h0m.1-9.4h0m0 6.3h0m0-2.9h0m0-1.6h0m.1 3.9h0m0-5.2h0m0-.3h0m0 4.9h0m.1 4.8h0m0-3.9h0m0-4.2h0m0 3.6h0m0-.5h0m.1-3h0m0 6.6h0m0-4.4h0m0 9.4h0m0-10.7h0m0-.4h0m0-4.2h0m.1 6.2h0m0-2h0m0-.7h0m0-.6h0m.1 10.1h0m0-4.5h0m.1-4.9h0m.1-3.5h0m0 .6h0m0 6.7h0m0-5.8h0m0 5.1h0m0 2.4h0m.1-1.7h0m0-.7h0m.1-7.5h0m0 5.9h0m0-2.9h0m.1 4.7h0m.1 4.6h0m0-3.2h0m0 4.2h0m0-5.6h0m.1-.8h0m0-3h0m0 8.4h0m.1-14.3h0m.1 6.7h0m.1 7.7h0m.1-8h0m0 1.8h0m0-2.6h0m0 9.3h0m.1-9.9h0m0 2h0m0 1.3h0m.1 2h0m0-2h0m0 7h0m.1-16.5h0m0 13.2h0m0-5.4h0m0-1.5h0m0 5.8h0m.1-.9h0m.1-5.9h0m0 1.3h0m0-3.3h0m0 7.1h0m.2 2.8h0m0-.5h0m0-12.7h0m.1 5h0m0 5.8h0m.1 7.1h0m0-15.6h0m0 14.4h0m.1-6h0m.1 1.4h0m0 3h0m0-8.2h0m0 2.2h0m0-2h0m0-2.1h0m0 10.2h0m0-1.4h0m.1-2.4h0m0 .8h0m0-6.3h0m.1 1.1h0m0 3h0m0 1.5h0m0-5.7h0m.1 7h0m0 3.5h0m.1 .9h0m0-9.6h0m.1-2.6h0m0 8h0m0 .7h0m0-1.9h0m.1-2.3h0m0 1.2h0m.1 1.5h0m.1 2h0m0-8.3h0m.1 1h0m.1-2.3h0m0 5.9h0m0-4.7h0m.1 3.7h0m.1 3.7h0m0-3h0m0 1.6h0m.1 3.1h0m0 1h0m.1-5.6h0m0 1.1h0m0 2.3h0m0 1.9h0m0 .5h0m.1-6h0m0-4.6h0m.1 9.3h0m0-7.8h0m0-3.5h0m0 11.2h0m.1-8.6h0m.1 3.6h0m.1 4.9h0m0-8h0m0-3.5h0m.1 10.2h0m0-3.6h0m0-.8h0m0 2h0m.1-7.6h0m0 5.6h0m0-7.6h0m.1 10.4h0m0 5.3h0m.1-.5h0m0 .5h0m.1-8.7h0m0-.5h0m.1 5.2h0m0-4.3h0m.1 3h0m.1-1.2h0m.1 3.1h0m0-4.2h0m0 1.1h0m0 3.4h0m0-1.2h0m0-5.2h0m0 .6h0m0 2.8h0m.1-4.9h0m0-6.6h0m.2 14.4h0m.1 4h0m.1-9.9h0m.1-3.7h0m0 7.6h0m.2 1.7h0m.1-6.2h0m0 6.4h0m.1-2.3h0m0-3.4h0m.1-.2h0m0 4.4h0m0-8.3h0m0 2.5h0m.1 1.7h0m0-1.4h0m.1 5.1h0m0 1.3h0m0-2.9h0m0 2.4h0m0-4.1h0m.1 4.9h0m0 .9h0m0 8.9h0m0-7.3h0m.1-7.2h0m0 5.2h0m0-5.6h0m0 4.4h0m.1-4.3h0m0 1.8h0m.1 .1h0m0-3.7h0m.1 0h0m0 5.2h0m.1 3h0m.1-2.5h0m0-3.8h0m.1 4.2h0m0 .9h0m.1-2.9h0m.1-.8h0m0 3.5h0m0 .1h0m.2-12.5h0m0 11.3h0m0-.5h0m.1-5.3h0m0 7.2h0m0 4.8h0m0-15.7h0m0 8.1h0m.2 .9h0m0 1.4h0m.1 1h0m0-1.4h0m.1 2.8h0m0-3.9h0m0 1.2h0m0-2.1h0m0 .1h0m0 1.3h0m.1-2h0m0-3.4h0m0 4.4h0m.1 1.9h0m.1-4.1h0m0 2.1h0m.1-3.6h0m0-1.5h0m.1-.6h0m0 2h0m.1-1.4h0m0 4.2h0m0 4.2h0m.1-5.7h0m0 1.7h0m0-2.9h0m0-1.4h0m.1-2.9h0m0 9.7h0m0-1.7h0m0 3.1h0m0-10.1h0m0 4.8h0m.1 .9h0m0 .8h0m.1-1.7h0m0 3h0m.1-18.3h0m.1 17.2h0m.1 1.8h0m0 .4h0m0-3.8h0m0 2.6h0m.1-2h0m0 3.1h0m0-8.5h0m.1 7.9h0m0-3h0m.1-1.1h0m0 4.7h0m.1-3.5h0m0-2.5h0m0 7h0m.1-5.6h0m0-.6h0m.1 1.4h0m0 .9h0m.1-2.4h0m.1 3.9h0m.1 1.7h0m0-3.8h0m0-1.1h0m.1-4h0m0 6.5h0m.1-1.5h0m0-20.9h0m.1 19.4h0m0 5.1h0m.1-.8h0m0-6.1h0m.1 6.1h0m0 .1h0m0-5h0m0 3.9h0m0 1.7h0m0-.6h0m.1-2.4h0m0-2.2h0m0 4.2h0m0-2.8h0m.1-3.3h0m0 3.3h0m0 3.1h0m0-9.7h0m.2 7h0m0 6.2h0m.1-2h0m0-2h0m0-.9h0m0 1.3h0m.1-6.6h0m.2 3.1h0m0 4.5h0m0 4.4h0m0-11.9h0m0 9.9h0m0 1h0m0-16.6h0m.1 9.9h0m.1 .1h0m0 0h0m.1-3.3h0m0 2.5h0m0 2.9h0m.1-4.4h0m0 4.3h0m0 5.8h0m.1-3.6h0m0-2.9h0m0-1.5h0m0-.8h0m.1-5h0m.1 8.7h0m0 .6h0m.1 7.4h0m0-9.5h0m0-.3h0m.1 .2h0m0 3.2h0m.1-4.4h0m0-1.2h0m.1-.3h0m.1-6.8h0m0 12.7h0m.1-2.2h0m0-7.1h0m0 2.3h0m0 3.4h0m.1 5.3h0m0-6.5h0m.1 5.3h0m.1-5.9h0m0 .4h0m.1-.5h0m0 2.4h0m0-6.3h0m.1 7.8h0m0-.1h0m.1-8.5h0m.1 7.8h0m0-3h0m0-1h0m0 3.4h0m.1-5.8h0m.1 6.1h0m.1-6.2h0m0-5.2h0m0 7.9h0m.1 4.2h0m0-.4h0m0-4h0m0 2.7h0m.1-8.2h0m.1 8.8h0m0 .4h0m0 2.3h0m0-4.6h0m.1 0h0m0-4.9h0m.1 7.3h0m0-.6h0m0 3h0m0-1.9h0m0-3.7h0m0 1.6h0m.1 1.8h0m0-3h0m0 2.2h0m.1-3.4h0m.1 4h0m0-6.4h0m0 7.6h0m0-2.4h0m0-8.6h0m0 12.2h0m.1-5.2h0m0 1.3h0m0-.3h0m.1-2.3h0m0 3.9h0m.1 2.7h0m0-5.2h0m.1 1.6h0m0 2.5h0m0-1.6h0m0 .1h0m.1 2.8h0m.1-5.3h0m.1 5h0m0 5.2h0m0-10.3h0m.1 1.9h0m0 2.6h0m.1-4.4h0m0 6.7h0m.2-10.2h0m0 9.1h0m.1-3.9h0m0 .7h0m.1 1.5h0m0-9.2h0m0 6.8h0m0-2.9h0m0 5.1h0m.1-5.9h0m0 1.1h0m0 2.6h0m0 .2h0m.1 1h0m0-1.5h0m.1-7.9h0m0 3.9h0m.1 6.4h0m0-.1h0m0-4.9h0m.1 .6h0m0 8.2h0m.1-8.2h0m0 1.6h0m0 .7h0m.1 .5h0m0 1.6h0m.1-4.5h0m0-.7h0m0 3.5h0m.1-2.9h0m0 8.2h0m0-3.5h0m.1-4.9h0m0-5h0m.1 7.4h0m.1 1h0m.1 5.2h0m.2-3.2h0m.1-4h0m0 2.4h0m0-.4h0m.1 4.7h0m0-9.4h0m.1 6.3h0m.1 5h0m0-7.1h0m0 3.2h0m0-9.9h0m.1 8.9h0m0-.3h0m0-1.1h0m0-6.1h0m.1 7.6h0m0 .5h0m0-7.2h0m.1 8.7h0m0-4h0m.1 2.2h0m.1-3.1h0m0 6.7h0m0-10.1h0m0 7.8h0m.1-4.7h0m.1 .6h0m0-1.9h0m0 .8h0m.1 6h0m0-4.4h0m.1-.2h0m.1-3.6h0m0 1.9h0m0 .9h0m0 1.3h0m.1-2.1h0m.1 2.7h0m0 1.3h0m0-4.1h0m0 1.2h0m0 2h0m.1-.6h0m0-4.7h0m0 1.4h0m.1-.9h0m0 2.3h0m0 1.4h0m.1-1h0m0 .3h0m0 4.8h0m0-7.6h0m0 1.4h0m0 9.2h0m.1-7.4h0m0-1.5h0m0-1.2h0m.1 4.9h0m0-7.8h0m0 1.1h0m.1 2.2h0m0 5.9h0m0-2.9h0m0 1.6h0m.1 6.5h0m0-12.2h0m0 4.7h0m0-7.5h0m0 5h0m0 1.9h0m.1 1.2h0m0-2.6h0m0-2h0m.1 2.5h0m0 3.2h0m.2-3.2h0m0-1.1h0m0 1.6h0m0-3h0m.1-.7h0m0 1.8h0m0 3.8h0m.1-.1h0m0-.6h0m0 3.4h0m.1 .6h0m.1-8h0m.1 2.8h0m0 .9h0m.1-3.6h0m0 1.8h0m.1 .1h0m.1-2.9h0m0-.7h0m.1 2.3h0m0 4.5h0m0-9.6h0m.1 9.9h0m0-7.7h0m.1 2.9h0m0-.8h0m0 4.3h0m0 1.1h0m.1 6.9h0m0-14h0m0 1.2h0m.1-2.6h0m0 3.9h0m0-5.3h0m.1 3.3h0m0 3.8h0m0 1.8h0m0-1.5h0m.1 3.2h0m.1-.1h0m0 .6h0m0-1.7h0m0-4.3h0m.1 3.4h0m.1-.8h0m0-6.9h0m0 3.4h0m.1 2.6h0m0-5.5h0m.1 5.8h0m0-2.9h0m0 1.1h0m.1 3.1h0m0-7.7h0m.1 6.3h0m0 0h0m.1 1.8h0m.1 .7h0m0-4.1h0m.1 2.7h0m0-4.5h0m0 7.3h0m.1-6.8h0m.1 2h0m.1 3.2h0m0-2.1h0m0-2.6h0m.1 4.3h0m0-4.2h0m0 5.2h0m.1-2.5h0m0 .1h0m.1-3.8h0m0 4.1h0m.1 .7h0m.1-1.7h0m0 2.3h0m.1-3h0m0 1.6h0m0 2.2h0m0-7.6h0m0 3.7h0m0 .6h0m.2-3.2h0m0 8.7h0m0-5h0m0-5h0m.1 3.9h0m0 1.6h0m0 8.4h0m0-15.1h0m0 6.4h0m.1 .1h0m0-6.8h0m.1 8h0m0 .8h0m.1-2.9h0m0-2.7h0m.1 2.2h0m0 2.2h0m0 .4h0m0-1.9h0m0 4.3h0m.1 .3h0m0-3.3h0m0-6.1h0m.1 2.8h0m0 1.1h0m0 2.1h0m.1-6.9h0m.1 5.2h0m.1 3.7h0m0-2.7h0m.1 1h0m0-7.9h0m0-.5h0m0 8.7h0m.1 3h0m0-4.7h0m.1 9.1h0m.1-9.6h0m0 2.9h0m0-8.5h0m0 8.5h0m.1-6.4h0m0 7.8h0m0-7.8h0m0 2.6h0m0-2h0m.1-1.3h0m.2 8.5h0m0-3.9h0m.1-4.9h0m0 5.8h0m0-3.6h0m.1-.2h0m.1 2.8h0m.1 .8h0m0 4.4h0m.1-3.7h0m.1-2.2h0m0-.1h0m.1 2.3h0m.1-1h0m.1-2.9h0m0 2.4h0m0-1.8h0m.1-4.5h0m0 4.3h0m0-.7h0m.1 1.8h0m0-2.6h0m.1 4.3h0m0 2.3h0m0-6.4h0m.1 6.5h0m0 .3h0m.1-7.5h0m0 4.4h0m0 1.6h0m0-3.6h0m0 3.1h0m0-.8h0m0-2.7h0m0 .4h0m.1 4.3h0m0-2h0m0-3.4h0m0-1.2h0m.1 6.5h0m0-2.5h0m0-6.4h0m0 10.2h0m.1-7h0m.1 1.1h0m.1 .7h0m0-6.6h0m0 8.4h0m0-.6h0m0-1h0m0-7.3h0m.2 .6h0m.1 11.5h0m0-1.8h0m0-3.4h0m0-1.6h0m.1 .4h0m0 5.1h0m0-1.3h0m0-.4h0m0-2.8h0m.1 2.3h0m0-3.2h0m.1 4.1h0m0-4.1h0m0 1.8h0m0 .2h0m.1 3h0m.1-7.2h0m0 8.2h0m.1-5.3h0m.2 1.5h0m0-4.4h0m0 11.6h0m0-4.3h0m.1-3h0m0 1.5h0m.1 .2h0m0 3.9h0m.2-5.4h0m0 1.7h0m.1 .9h0m0 1.6h0m.1-2.6h0m0 .2h0m.1 2.4h0m0-2.3h0m0 1h0m0-3.7h0m0-4.4h0m0 11.5h0m.1-2.4h0m0-1.2h0m0-3.7h0m.1-.4h0m0 2.3h0m.1 0h0m0 2.9h0m0-3.1h0m.1-2.2h0m.1 2.8h0m0-1.3h0m0 1.6h0m.3 1.2h0m0-2.2h0m0-.6h0m.1 1.3h0m0 1.6h0m0-7.3h0m.1 5.9h0m0 1.6h0m0-6.2h0m0 2h0m0-1.9h0m.1 7.6h0m0-1.3h0m.1-3.7h0m0-.6h0m0-.4h0m.1 2.3h0m.1 1.4h0m0-3.7h0m0 3.3h0m.1-4h0m.1 4.3h0m0 .8h0m.1-4.9h0m0 .1h0m.1 7.9h0m0-1.3h0m0-5.9h0m0 2.3h0m0-2.9h0m.1-3.2h0m0 12.3h0m0-7.5h0m.1-.3h0m.1-2.7h0m0 7h0m0 .1h0m0-3.1h0m0 2.9h0m0-.1h0m0-1h0m.1-1.8h0m.1-2.1h0m0 3.1h0m.1-1.3h0m0-1h0m0 1.7h0m0 .1h0m0 .5h0m.1-3h0m0-.2h0m0 .4h0m.3 2.7h0m.1 .3h0m0-2h0m.1 4.9h0m0-4.7h0m.2 1.5h0m0-1.8h0m0-2.2h0m0 1.6h0m.1 1.2h0m0-.4h0m0-1.3h0m0 8.2h0m0-6.5h0m0-2.8h0m.1 5.1h0m0-4.6h0m0 3.1h0m0 .9h0m0-2.4h0m0 3.5h0m.1-5.9h0m0 4.8h0m0-2.9h0m.2 1.4h0m0 3.2h0m0 4.7h0m.1-7.2h0m0-3.8h0m0 3.4h0m0-.4h0m.1-.2h0m0-.4h0m.1-1.5h0m.1 1.1h0m0 1h0m0 2.4h0m0-1.5h0m.1-5.3h0m.1 5h0m0 .8h0m0-1.6h0m0 2h0m.1-1.6h0m.1-2h0m0 5h0m0-12.8h0m.1 12.1h0m.1-1h0m0 1.9h0m.1-7.5h0m0 3.9h0m.1-.2h0m.2 3.7h0m0 .2h0m.2-9.4h0m0 8h0m0-1.3h0m.1-2.5h0m0 4.5h0m0-5.3h0m0 3.5h0m.1 .3h0m0 .5h0m0 2.2h0m.1-.4h0m0-1.1h0m0-1.3h0m.1 .8h0m0-1.8h0m0 .7h0m0-4.2h0m0 2.5h0m.1-4h0m0 4.6h0m.1-3.7h0m.1 2.3h0m0 3.2h0m.1-3.3h0m.1 2.7h0m0-2.4h0m.1 .9h0m.1-6h0m0 10.1h0m0-7.4h0m0 0h0m.1 3.3h0m0-1.4h0m0 1h0m.1 2.9h0m.1-.3h0m0-2.1h0m.1 1h0m0-4.3h0m.1-3.4h0m.1 8.3h0m0-1.5h0m.1-.1h0m.1 .6h0m0 2h0m0-4.7h0m0 .2h0m.1 .3h0m0 1.9h0m.2-3.4h0m.1 4.9h0m0-1.2h0m0-.2h0m.1 .7h0m.1-2h0m0 2.8h0m0-4.7h0m0 5.2h0m0-6.1h0m.1 1.9h0m0 5.3h0m0-1.8h0m0-.1h0m.1 .1h0m.3-2.3h0m.1 3.8h0m.1-2.4h0m.1 2.4h0m0-1.5h0m0-1.1h0m.2-7.2h0m.1 3.5h0m0 .6h0m0 5h0m.1-1.2h0m0 1.1h0m0-4.8h0m0 3.2h0m.1-2h0m0 1.6h0m.2 .3h0m0-4.5h0m0 3h0m0 .2h0m0 3h0m.1-8h0m0 9h0m0-1.4h0m.1-3.7h0m0 .1h0m0 4.4h0m.1-3.5h0m0 7.2h0m.1-6.7h0m0-2.7h0m0 6.3h0m0-2.2h0m.1-.3h0m0 2.4h0m.1-1.7h0m.2-8.3h0m0 9.6h0m.1-.2h0m0-1h0m.1-1.8h0m.1-3.9h0m0 6.4h0m.2-7.1h0m0 3.7h0m0-.5h0m.1 2.8h0m0 10.1h0m0-15.1h0m0 6.7h0m.1-.9h0m0 .7h0m.1-1.5h0m.1-3.1h0m0-6.9h0m0 12.1h0m.1-5.2h0m0 2.9h0m0-2.4h0m.1 2h0m0-1h0m0-4.6h0m.1 5.1h0m.2-1.5h0m0 2.2h0m0-.2h0m.1-6.3h0m0 3.4h0m.1 2.6h0m.1 2.1h0m.1-6.7h0m0 3.5h0m0 1.6h0m0-.6h0m.1 4.7h0m0-2.5h0m.1-3h0m0-2.5h0m.1 5.1h0m.1 1.1h0m0-3.1h0m.1-2.5h0m.1 5.9h0m.3-5.4h0m.1 3.8h0m.1 1.8h0m0-6.9h0m.1 .6h0m.1 3.7h0m.1 2h0m.1-3.8h0m0-.7h0m0-.1h0m0 3.8h0m0-5h0m.1 4.6h0m0-3.1h0m0 3.4h0m0-5.6h0m0 1.1h0m.1 1.9h0m0-2.7h0m0 5.5h0m.1-3h0m.1 5h0m0-4.8h0m.1 5.7h0m0-6.2h0m0 1.5h0m0-3.5h0m0 1h0m.2 3.2h0m0 .4h0m.1-2.9h0m.1-2.7h0m.2 2.2h0m0 7.3h0m.1-2.4h0m.1-7.5h0m.1 7h0m.1-1.3h0m0-3h0m0 1.4h0m.1 2h0m.1-5.9h0m.1 5.4h0m.1 4h0m.1-1.1h0m.1-1.3h0m.2-.5h0m0 .8h0m0-.9h0m.1-3.3h0m0 7.4h0m.1-5.5h0m0 .4h0m.1-17.3h0m0 16.3h0m0-1.2h0m0 2.3h0m.1-1.2h0m.2 5.9h0m0-7.4h0m.1 2.5h0m.1 .2h0m0-.6h0m.1 0h0m.1 2.7h0m.1-6.5h0m0 6.1h0m0-4.2h0m.1 5.3h0m0-.5h0m0-1.5h0m.1-1.5h0m.1-3.7h0m.1 2.4h0m0-5.8h0m.1 5.8h0m0 2.6h0m.1-2.6h0m0-1.6h0m.2 .7h0m0 .8h0m0 1.3h0m0 1.4h0m.1-2.8h0m.3 3h0m.2-.2h0m0 .8h0m0 2h0m.1-4h0m0-7h0m0 5.5h0m.1 1.8h0m0-4.7h0m.1 2.2h0m.3 0h0m0 1.8h0m0-1h0m.1 4.4h0m0-6.1h0m.1 5.6h0m.1-7.3h0m.1 5.6h0m.1-3.4h0m.1 7.3h0m.1-8.5h0m0 10.2h0m0-4h0m0-.8h0m.1-.4h0m0-1.4h0m0 3h0m.1-.3h0m0-6.2h0m.1 3.2h0m.1 3.6h0m.1-5h0m0-1.7h0m0 3.3h0m.1-2.9h0m0 3.9h0m0-.4h0m.1-.5h0m0-7.2h0m.1 5.5h0m0-.5h0m.1 2.3h0m0 1.9h0m.1-1.6h0m0 1.4h0m.1-4.7h0m.1 2h0m0-.4h0m.1 4.2h0m0-3.9h0m.1 3.5h0m0-6.3h0m.1 5h0m0-4.3h0m0 3.7h0m.1 .9h0m0-.2h0m0-1.2h0m.3-6.1h0m0 2.9h0m.1 3.2h0m.1-1.6h0m0 2.4h0m0 .1h0m.1-.7h0m.1-.7h0m0-2.5h0m0 3h0m.1 0h0m0-2.1h0m0-1.5h0m0 4.8h0m0-3.2h0m.1-1.6h0m0 2h0m.2 5.7h0m0-10h0m0 6.8h0m0 1.2h0m0-9.9h0m.2 14h0m.1-3.9h0m0-4.6h0m0 .2h0m.1 2h0m0 2h0m0 4.4h0m0-7.5h0m.1-.8h0m0-2.3h0m.4 3.9h0m0 2.2h0m.1-2.8h0m0-2.5h0m.2 5.6h0m.1-2.2h0m0-2.3h0m.1 2.3h0m.1-2.2h0m.2 2.8h0m0-1.6h0m0 3.1h0m.1-.2h0m0-2.3h0m.1 .9h0m.1-2.1h0m.1 .6h0m0-1.4h0m0 1.1h0m.1-1.9h0m0 3.6h0m.2-2.5h0m.1 2.2h0m.1 3.3h0m.1-4.6h0m0-1.8h0m.1 9.9h0m.1-7.3h0m.1 2.1h0m0-2.5h0m.1-2.1h0m.2 1.2h0m0 3.9h0m0-1.2h0m.1-.1h0m0-2.3h0m0-3.2h0m.2 6.2h0m.2-4.4h0m0 4.6h0m0-.6h0m.1 1.1h0m.2-7.6h0m0 2h0m.2 4.1h0m.1 .2h0m.1-4.2h0m0 3.1h0m0 3h0m0-3.8h0m.1-1.8h0m.1 5.9h0m0-4h0m.1 1.1h0m0 .1h0m.1-1.3h0m.2-1.6h0m.2 1.8h0m.1 1.1h0m0 1h0m0-1.9h0m.3-3h0m0-.5h0m.2 6.1h0m.1 4.6h0m0-4.3h0m.1 1h0m0-.9h0m.1-3.4h0m0 .1h0m0 4.3h0m.1-5.3h0m0-1h0m.1 2.5h0m.1 2.2h0m.2-3.5h0m.2 1.8h0m0-2.8h0m.1-1.8h0m0 2.7h0m.1 1.8h0m0 1.4h0m0 3.3h0m0-8.4h0m.1 4h0m.1 1.9h0m0-4.8h0m.2 1.9h0m0-4.1h0m.1 4.8h0m0-1.8h0m.1 5.2h0m0 0h0m0-.9h0m.1-3.1h0m.1 .3h0m.1-3.8h0m.1 7.4h0m.1-6.6h0m.1 6.2h0m.2-9.6h0m0 2.3h0m0 6.3h0m0-4.9h0m.1 6.5h0m.2-7.1h0m.1 6.4h0m.1-3.1h0m0 1.3h0m.1 .9h0m.1-1.8h0m.2 1.9h0m.1 2.3h0m.2-3.2h0m.1-1.1h0m.1 1.5h0m0-1h0m0-1.2h0m.1 3.2h0m0-1.3h0m.1 .1h0m.1-5.2h0m0 4.8h0m0 .2h0m.3 3h0m.2 1.4h0m0-4.7h0m.1 .6h0m0-5h0m0 4.8h0m0-2.4h0m.2-3.6h0m0 2.8h0m0-4.4h0m.2 4.8h0m0 .7h0m0 1.7h0m.3 .1h0m1-2.4h0m.1-2.7h0m.5 2.6h0m0 2.8h0m.1-3.2h0m0 1.9h0m.1 2h0m.2-2.9h0m0 3.2h0m.2-4.4h0m.1 3.2h0m.5 8.9h0m.2-9.8h0m0 1h0m0-1.6h0m.3 .6h0m.1 5.2h0m.1-5.2h0m.1-1h0m0 1.5h0m.1 .5h0m0-.5h0m.1-5.4h0m0 2.4h0m.1 3.2h0m.1-4.3h0m0 6.5h0m0-5.2h0m.1 6.1h0m0-3.5h0m0-7.8h0m.1 6.5h0m0-17.8h0m.3 18.9h0m.1 1.3h0m.2 1.7h0m.2-1.3h0m0-4.5h0m0 2.2h0m.3-1.3h0m.3-.8h0m.1 .3h0m.1 5.3h0m.1-5.1h0m.1 3.5h0m.1 0h0m.3-.4h0m.1-1.1h0m0 2.3h0m.3-1.7h0m0 2.5h0m.2-3.6h0m.2 5.1h0m0-6.6h0m0 1h0m.1 1.4h0m1-1.7h0m0-1.4h0m.1 2.9h0m0-.6h0m.2-5.5h0m.1 5.6h0m.1 2.3h0m.1-1.7h0m0-.9h0m.1-1.6h0m.2 2.5h0m.1-3.1h0m.1 3.3h0m.2 .6h0m.3 0h0m.7 1.6h0m.2-2.4h0m.1 1.4h0m0 .5h0m0-2.5h0m.1 2.2h0m0-4.8h0m0 .5h0m.4 3.5h0m.1-.8h0m.2-1.9h0m0 3.7h0m.2-1.7h0m0-.1h0m.1 2.8h0m.3-6.7h0m.7 7.1h0m.3-7.6h0m.2 .1h0m.5 2.6h0m.2-1.2h0m.6-2.4h0m.2 6.8h0m.1-1.3h0m.8 3.2h0m.3-2h0m.5-.1h0m.2-.5h0m.3-3.1h0m.6 1h0m.1 2.8h0m.6-3.2h0m.3 0h0m.9-4.4h0m.1 6.3h0m.2-1.8h0m0 2.3h0m1.7-4.6h0m.1 3.6h0m.6 2.7h0m.1 1.3h0m.4-4.6h0m.6 3.8h0m.9-2.8h0m.6-.1h0m.2-3.3h0m.1 1h0m.6-2.2h0m1.2 3.7h0m.4 3.4h0m.2-1.5h0m.8-1.4h0m.1-1.6h0m1.5-5.7h0m1.5 6.6h0m.1-.2h0m1 3.3h0m.3-.6h0m6.4-4h0m0-4.1h0m.3 6.9h0" stroke="#00BFC4" stroke-width="3.7" stroke-linecap="round" fill="none"/>
</g>
<path d="M436.1 390.5v3M487.9 390.5v3M539.6 390.5v3M591.4 390.5v3M643.1 390.5v3M403 324h-3M403 220.5h-3M403 117h-3" stroke="#555" stroke-width="1" fill="none"/>
<rect x="53.2" y="505.2" width="251" height="341" fill="#EBEBEB"/>
<path d="M60 505.2V846.2M111.8 505.2V846.2M163.7 505.2V846.2M215.5 505.2V846.2M267.4 505.2V846.2M53.2 831.4H304.2M53.2 727.8H304.2M53.2 624H304.2M53.2 520.4H304.2" stroke="#FFFFFF" stroke-width="0.9" fill="none"/>
<path d="M85.9 505.2V846.2M137.8 505.2V846.2M189.6 505.2V846.2M241.4 505.2V846.2M293.3 505.2V846.2M53.2 779.6H304.2M53.2 675.9H304.2M53.2 572.2H304.2" stroke="#FFFFFF" stroke-width="1.6" fill="none"/>
<g clip-path="url(#clipc)">
<path d="M78.6 718.9h0m.3-1h0m.1-84.9h0m.8-1.8h0m.2-1.3h0m.1 1.8h0m.5 89.6h0m1 3.1h0m.9 3.3h0m0-26.5h0m.2 1.5h0m.1 24.5h0m.1-102.3h0m.3 77.6h0m.2-1.6h0m.2 1.3h0m0-54.9h0m.3 58.5h0m.3-3.6h0m.1-54.4h0m.1-.2h0m0-.1h0m.1-27.8h0m0 110.3h0m.1-80.3h0m0 50.5h0m.1 4h0m.1 27.1h0m0-111h0m.1-.5h0m.1 .4h0m.1 83.5h0m.1-55.2h0m.1 55.2h0m0-53.7h0m0-31.3h0m.3 32.6h0m.2 51.2h0m0-56.3h0m0 62.9h0m.2 24.5h0m.2 .4h0m0-28.3h0m.1-88.5h0m0 83.5h0m.3-50.3h0m0 49.1h0m.4-47.2h0m0 48.2h0m.1-53.4h0m0 59.8h0m.1-7.8h0m.4-46.1h0m0 49.8h0m.2-54.9h0m0-1.6h0m.1 4.8h0m.1 1.8h0m.1-5.5h0m0 53.4h0m.4-49.1h0m.1 45h0m0-83.1h0m.1 33.9h0m0 56.6h0m.2-5.8h0m0-51.5h0m.1 50.2h0m0 7.5h0m.3-6.1h0m.1 2.8h0m0-51.7h0m0 4.6h0m.2-3.5h0m.1-40h0m0 41.2h0m0-1.6h0m.1 2.3h0m0 2.2h0m.1-5.8h0m.2 1.5h0m.1 46.5h0m0-42.3h0m.1 .5h0m0-2.9h0m.1 44.2h0m.1 5h0m.1-5.7h0m0-40.7h0m.2-.8h0m0 42.7h0m0-41.6h0m.1-.3h0m.1-12.2h0m0 58.3h0m.1-47.5h0m0-2.6h0m0 1.5h0m.1 2h0m.1 42.5h0m0-48h0m0 6.4h0m.4 42.9h0m.1 11.1h0m.1-13.5h0m0-41.7h0m.1-.6h0m.1 40.9h0m.1 2.2h0m0-43.5h0m.2 .7h0m0 .6h0m.1-5.6h0m0 47.3h0m.1-53.3h0m.1 10.8h0m.3 44h0m0-3.1h0m.1-38.6h0m.1 1.6h0m.1 40.6h0m.1-.6h0m0-40.6h0m.3 41.2h0m.1-41.5h0m.1 39.8h0m0-2.4h0m0-43.3h0m.2 45.3h0m.1-37.4h0m0-2.6h0m0 1.6h0m.1 36.6h0m.1 2.4h0m.1-2.5h0m.3 9.8h0m0 1h0m.1-.9h0m.2-50.7h0m0 1.5h0m.1 40h0m0-36.1h0m.1 32.8h0m.2-31.9h0m.2-9.8h0m0 4.7h0m.1 39.5h0m0-37.6h0m.1 43.5h0m.1 19.9h0m0-27h0m0 1.6h0m.1-37.3h0m.2 42.8h0m.1-56.4h0m.1 3.5h0m0 57.6h0m0 3.7h0m0-47.8h0m.1-5.4h0m.1 38.4h0m.1-.9h0m.2-1.5h0m0-32.7h0m0 34.8h0m.1-36.5h0m0 2.8h0m.1 30.9h0m0-33.9h0m.1 60.3h0m0-61.9h0m.1 4.5h0m.1-4.5h0m.1 .6h0m0 44.3h0m.2-.7h0m0-6.8h0m0-38.6h0m.2 43.3h0m0-1.4h0m.3-1.8h0m.3-2.6h0m0 1h0m.1 23.7h0m.1-68.3h0m.2 50.6h0m.4-38.4h0m.2-4.2h0m0 34.6h0m.1-.3h0m0-43.4h0m0 9h0m.1 3.3h0m0-.3h0m0-.5h0m0-1.1h0m.1 2.5h0m0 1.9h0m0 32.8h0m.1-37.3h0m.1 65.5h0m.2-29.5h0m0 4.7h0m0-.3h0m0 15.9h0m.1-21.8h0m0-33.1h0m.2 .5h0m0-5.9h0m0 2.2h0m.1 0h0m0-1.9h0m.1-.4h0m0 6.8h0m.1 37.1h0m0-37.4h0m0 32.7h0m0-36.3h0m.1-.3h0m.1 2.6h0m0-6h0m.1 38.3h0m.1-30h0m.1 32.9h0m.1-37.6h0m.1 34.1h0m.1-37.5h0m0 4.2h0m.2 45.6h0m.1-1.9h0m.1-47.3h0m.1 1.8h0m.1 40.5h0m0-2.8h0m.1-.1h0m.1 6.6h0m.2-53.8h0m.2 55.3h0m.3-6h0m.1-32.1h0m0 34.3h0m.1-2.2h0m.1-43.6h0m0 83.9h0m.1-74.4h0m0 33.7h0m0-32.2h0m.2-6.6h0m.1 41.4h0m0-.2h0m.2-1.4h0m0-32.6h0m0 33.9h0m.1 10.8h0m.1-14.8h0m.1-32.9h0m0 36.2h0m0-41.8h0m0 41.8h0m0-7.3h0m.2-25.2h0m0 25.2h0m.1 1.1h0m.2 8.9h0m0-41h0m.1 38.3h0m.1 1.5h0m0 3.5h0m.1-9.6h0m.1-36.8h0m0 46.4h0m0-36.7h0m.1-3.3h0m0 40.1h0m.1-11.4h0m.1-40.2h0m0 15h0m.2-.4h0m0 94.1h0m0-60h0m.1-7.2h0m0-27.8h0m.1 30.3h0m0 2.9h0m0-36.7h0m.2 1h0m.2-8.1h0m0 37.6h0m.1 9.3h0m0-10.2h0m0-27.1h0m.1 42.6h0m0-17.5h0m0-29.7h0m.2 36.2h0m0-28.8h0m0 26.6h0m.1-28.5h0m.2-3.1h0m0 4.7h0m0-22.8h0m0 17.6h0m.2 45.5h0m0-40.3h0m.1 32.3h0m.1-32.8h0m0-4.3h0m0 29.7h0m.1-1.3h0m0 .6h0m0-29.5h0m.1 33.1h0m0 .6h0m.1-35.3h0m.1 30.1h0m.1 26.6h0m.3-26.2h0m.1 6.1h0m.1-39.8h0m0 7h0m.1 32.3h0m.1-5.5h0m.1-42.7h0m.1 17.5h0m.2-2.7h0m.1 44.1h0m.1-16.5h0m.1-30.5h0m.1 5.7h0m0-15.1h0m.2 10.2h0m.2 35.6h0m.2 1.5h0m0 1.6h0m0-31.6h0m.1-6.1h0m0 30.7h0m.2-31.8h0m.1 1.3h0m.2 4.3h0m.1 22.9h0m.2 1.5h0m0-24.4h0m.1-9.8h0m.1 31.7h0m.2 32.3h0m0-54h0m.1-1.3h0m0-2.1h0m.1-25.3h0m.2 27.2h0m0 24.8h0m.1-24.3h0m0 1.6h0m.1 45.8h0m.1-18h0m0-30.9h0m.1 2.4h0m0-.4h0m.2 25.6h0m.1-26h0m.1 24.2h0m0 18.7h0m0-51.7h0m.1 66.4h0m0-23.6h0m.2 9.6h0m0-50.9h0m0 30.6h0m.1-25.4h0m.1-1h0m0 34.2h0m.1-31.3h0m0-7.9h0m0 40.7h0m.2 6.7h0m0-15.1h0m.1 12.1h0m.1-4.3h0m0-3.8h0m.1-26.9h0m.2 25.3h0m.1-31.2h0m.2 .9h0m0 5.2h0m.2 26.9h0m0-33.2h0m.1-15h0m.1 48.9h0m.2-2.6h0m.1 4.1h0m.1-38h0m.1 3.9h0m.1 2.6h0m.1-1.1h0m0-.8h0m.2 27.5h0m0-3.4h0m0-17.4h0m.1-15.8h0m0 7.3h0m.1 6.5h0m0 32.9h0m.1-43.4h0m.1 7h0m.1 28.2h0m.1 6.7h0m0-35.6h0m0 3.5h0m0 .8h0m.2 24.1h0m0 3h0m0 8.1h0m.1-35.1h0m0-13.3h0m.1 57.7h0m.1-11.6h0m.2-3.1h0m0-10.7h0m.3 2.2h0m0 6.7h0m0-28.3h0m0 23.3h0m.1 11.5h0m0-32.9h0m0 34.6h0m0-45h0m0 30.9h0m0-19.9h0m.1 27.7h0m.1 6h0m0 1h0m0-16.1h0m.1-18.7h0m0-1.7h0m.2 28.9h0m0-3.6h0m.1 16.4h0m.4-12.7h0m.1-2.6h0m.4-29.8h0m.3 2h0m.1 .7h0m.2-3.5h0m0 6h0m0 34.6h0m.1-44.5h0m0-1.5h0m.4 32.6h0m0 1.2h0m.3-.2h0m.1-1.4h0m0-3.1h0m0-18.7h0m0 28.6h0m.1-.7h0m.1 6.2h0m0-39.9h0m.4 34.2h0m0-3.7h0m.1-5.2h0m0 2.8h0m.2-34h0m.1 33.4h0m0 2.4h0m0-26h0m.1 2.7h0m.2 17.2h0m.1 7.1h0m.1-26.2h0m.1 22.8h0m.1-21.7h0m.1-11.9h0m.1 8h0m0 .2h0m.1-.9h0m0 22.6h0m.1-20.1h0m.2 34.9h0m.1-8.2h0m.1-32.1h0m0 39.9h0m.3 2.4h0m0-45.4h0m0 10.8h0m0-2.2h0m0-13.2h0m.1 39.2h0m0-42h0m.1 48.9h0m.2-12.2h0m0-24.6h0m0-3.2h0m.1 1.5h0m.1 31.5h0m.1-28.6h0m.3 41.9h0m0-38h0m.1 25.7h0m.1 3.7h0m.1-1.2h0m0-34h0m.1 31.9h0m.1-28.5h0m.1-3.1h0m.1 28.3h0m0-4.3h0m.1 1.2h0m.1 2.1h0m.1-30.7h0m.1 27.7h0m0 1.2h0m0 5.7h0m.1-28h0m0-19.9h0m.2 51.5h0m.3-8.8h0m.1-20.6h0m0-24h0m.1 3.7h0m.1 52.3h0m0-44.9h0m.1 5.9h0m.1 35.9h0m.3-.4h0m.1-9.7h0m0-24.5h0m.1 .2h0m.3 5.2h0m.1 18.2h0m.2 15.2h0m0-36.8h0m0-5.8h0m.1 34.2h0m.1-25.4h0m0 21.1h0m.1 3.5h0m0 9h0m.2 30.2h0m0-73.6h0m.1 37.8h0m.1-38.9h0m0 13.6h0m.2-.6h0m.2-12.2h0m0 35.9h0m.1-7.3h0m.1-27.8h0m0 31.2h0m0 6.9h0m.2-29.1h0m0 1.9h0m.1 27h0m0-2.9h0m0 64.3h0m.1-87.4h0m0 18.5h0m.1-26.7h0m.1 8.6h0m.5-7.4h0m.1 3.9h0m.1 22h0m.3-2.5h0m0 6.1h0m.2-21h0m0 19.2h0m0 9.1h0m0-6.8h0m.1-24.1h0m0 23.4h0m.3 6.6h0m.1-11.6h0m.1 4.2h0m.2 15.3h0m0-39h0m0 100.1h0m.1-109.7h0m0 37.4h0m.1 6.3h0m0-2.5h0m.2-11.5h0m.2-20.7h0m.1-6.3h0m.1 3.6h0m.2-30.9h0m0 35.5h0m.1 23.3h0m0-.2h0m.1-1.4h0m.1-21.1h0m.1-.9h0m.2 21.7h0m.1-25.2h0m.2 21.1h0m0 21.6h0m0-43.7h0m0 28.1h0m0 1.7h0m.2-34.7h0m0 37.8h0m.1-36.4h0m0 29.7h0m.2 10.1h0m0-13.7h0m0 6.7h0m.1-4.4h0m.1-20.4h0m0-9.7h0m.1-1.7h0m0 31.7h0m.2-20.7h0m.2 22h0m.1 .3h0m0-18.8h0m.2 26.6h0m.3-11.9h0m0-24.1h0m.1 32.7h0m0-3.6h0m0-23.9h0m.4 1.4h0m.1 20.8h0m.1-1.8h0m.1-1.6h0m0-22.7h0m0 2.3h0m.1 21.7h0m.1 3.4h0m0-22.8h0m0 27.7h0m.2-.4h0m0 2.6h0m.1-10.4h0m0 15.9h0m.1-10.8h0m0-58.9h0m0 57.7h0m.1-1.5h0m0-25.4h0m0 21h0m0-31.7h0m.3 2.4h0m.4 38.2h0m.1-27.8h0m.2-2.5h0m.1 5.3h0m0 25.3h0m0-.8h0m.2 11.1h0m.1-15.5h0m.1-18h0m0 20.5h0m.1-22.8h0m.2-.2h0m0 23h0m.1-30.5h0m0 6.5h0m.1 20.9h0m0-18.2h0m.1 21.8h0m.1-21.3h0m0-30.4h0m.1 48.3h0m0-21.7h0m.1 19.7h0m0-16.9h0m0 22.5h0m0-3.1h0m0-23.8h0m.1-4.9h0m0 .5h0m.2 39.2h0m0-30.3h0m0-33.9h0m.3 49.4h0m.1 7.6h0m.1-7h0m0 11.6h0m0-9.2h0m.1 16.5h0m0-17.1h0m.1 2h0m.1-3.7h0m.1-14.2h0m0 19.1h0m.1-29.9h0m0 40.2h0m.1-15.4h0m.1-20.5h0m.1-22.4h0m.1 22.8h0m.1 2.7h0m.1 1.5h0m0-3.3h0m.1-.3h0m0 2.9h0m0 21h0m.2-21.6h0m0 2.5h0m0-10h0m0 26.6h0m.1-22.2h0m.2 1.5h0m0 2.3h0m0 29.3h0m0-14.4h0m.1-14.2h0m0 18.9h0m.2 1.4h0m.1-6.4h0m0 13.3h0m.1-28.9h0m0 16.9h0m.2-19h0m0 .8h0m.1 2.9h0m0-5h0m.1-19.2h0m.1-1.3h0m.1 40.3h0m0 48.4h0m.1-46.8h0m0-19.9h0m0-.8h0m.1 2.3h0m0 30.4h0m.1-3.7h0m.1-27.7h0m.2 2.2h0m.1 17.8h0m.1-17.5h0m0-13.1h0m0 29.5h0m.1-1.7h0m0 3h0m.2-.1h0m0 .6h0m.1-1.2h0m0-17.6h0m.1-1.6h0m.1 23h0m0-1.5h0m0 .8h0m.1 7.8h0m.1-8.6h0m.1 .5h0m0 2h0m.1-42.7h0m0 43.1h0m.1-5.7h0m0 12.9h0m0-41.9h0m.1 37.1h0m.1-7.5h0m0-20.4h0m0 17.9h0m0-11.9h0m.1 19.5h0m0-28.7h0m.2-2.7h0m.2 5.5h0m.2 23.8h0m0 5.5h0m.1-29.4h0m0 26.6h0m0-25.7h0m.1 1.9h0m0 1.3h0m.1-22.7h0m0 54.5h0m0-30.6h0m.1-10.6h0m0 27h0m.1 4.8h0m0-22.4h0m0 44.7h0m0-23.3h0m.1-1.8h0m0-5.3h0m0 7.7h0m0-24h0m.2 25h0m0-23.6h0m.2-.1h0m0 .7h0m.1 20.1h0m.2-24.5h0m.2 27.1h0m0-25.2h0m.3 4.6h0m0 30.9h0m0-18.1h0m.1-24.4h0m.1-.8h0m0 38.6h0m0-27.5h0m.1-5.6h0m.1 20.4h0m.3-14.8h0m0-10.6h0m0 39.6h0m.1-60.3h0m.1 44.3h0m0 2.5h0m0-20.9h0m.1 5.2h0m.1-3.5h0m0-27.5h0m0 25.3h0m0 29.3h0m.1-5h0m0 1h0m0-1.7h0m.2-17.3h0m.2-4.6h0m.1 2.4h0m.1 2.4h0m.1 23h0m0-6.2h0m.1-1.7h0m0-20.6h0m0 20.8h0m.1 11h0m.1-31.1h0m.1 27.7h0m0-27.3h0m.1 22.2h0m.1 6.9h0m0-23.7h0m.2 11.4h0m.1 14.3h0m0-6.8h0m.1-6.6h0m.1 4.2h0m0-1.4h0m.1 .8h0m0-30.1h0m0 28.1h0m.1-18.5h0m0-10.8h0m0 10.9h0m.1 20.9h0m0-4.4h0m0 7.3h0m.1 3.9h0m.1-31.7h0m.3-1.9h0m.2 27.2h0m0 16.7h0m.1-37.3h0m0 21.7h0m.1-29.5h0m0 32.6h0m.1-24.3h0m0-8.2h0m0 25.7h0m.1-.4h0m.1 7.9h0m.1-2.5h0m.1-3.8h0m.2 .3h0m.1-30.8h0m0 8.3h0m.1 4h0m.1-7.3h0m0-12.6h0m.2 1.5h0m.1 39.2h0m.4-3.3h0m.2-30.4h0m.1 8h0m0 20.8h0m.1-14.1h0m0-29.7h0m.1 43.7h0m.1 2.2h0m0-21.6h0m0 19h0m.1 2.4h0m0-.2h0m.1-17.6h0m.1 .1h0m.1-5.1h0m0 5.5h0m.1 .7h0m.1-.9h0m0-3.5h0m0 22.3h0m0-3.9h0m.2 6.6h0m.1 8.9h0m0-12.8h0m.1 3.9h0m0-7.6h0m.1 2.6h0m.1-24.3h0m0 4.8h0m.1 25.7h0m.1-4.2h0m.1-1.8h0m0-13.4h0m0-1.5h0m.1 13.1h0m0 4.6h0m.1-23.4h0m0 22.3h0m0-24.6h0m0 6.2h0m.1 15.5h0m.2-15.4h0m.1 19.1h0m0-23.3h0m.1 21.5h0m0-2.7h0m.1-14h0m0 16.7h0m.1-18.2h0m0 2.8h0m.3 13.7h0m0-27.3h0m.1 37.3h0m.1-25.1h0m.3 20.3h0m0-.5h0m.2-24.4h0m.3 3.5h0m.1 17.8h0m0 1.7h0m.1-23.9h0m.1 21.9h0m.2-14.2h0m0-2.2h0m.3-22.8h0m.1 42.8h0m0-39h0m0 34.9h0m0 31.3h0m0-26.9h0m0 1h0m.1-26.3h0m0 2h0m0 1.4h0m.3 19.3h0m.1-18.1h0m0 21.7h0m.2-21.1h0m.1-1.1h0m0-9.7h0m.1 3.1h0m.1 7.4h0m0 22.8h0m0-30.4h0m.1-1.1h0m.1 11.3h0m.2-2.5h0m.3 1.9h0m.1 46.5h0m.1-48.3h0m0-1.4h0m.1 18.3h0m.3-40.6h0m.1 20.4h0m0 18.4h0m.2 9.4h0m0-8.3h0m.4 16.7h0m0-39.6h0m.3 5.9h0m.1 2.5h0m0-40.9h0m0 32.4h0m.1-40h0m0 61.5h0m.1 9.7h0m0-37.4h0m.1 3.9h0m.1 9.8h0m0-30.3h0m.3 12.4h0m.1 20h0m.1 18.7h0m.2-4.2h0m0-26h0m.1 27h0m0-23.3h0m0 3h0m.3-2.4h0m.1 6.8h0m0 18.6h0m.2-6.8h0m0 10.9h0m.1-26.7h0m.3 18.1h0m0-15.3h0m.1 .5h0m.1 17.1h0m0 2.8h0m0-26.8h0m.1 20.2h0m.1-19.5h0m0-1.8h0m.3 6.4h0m.1-5h0m0 21.7h0m.1 3.7h0m.1-23.8h0m.2 18.6h0m0 11.9h0m.2-10.4h0m0-18.9h0m.1 .8h0m.1 2.9h0m.2 46.2h0m.1-1.9h0m.1-30.5h0m.1-17.8h0m0-34.1h0m.1 39.4h0m0-5.6h0m0 2.8h0m.1 16.9h0m0-27h0m0 2.1h0m0 26.3h0m.1-23.1h0m.1 20.8h0m0 .4h0m0-1.1h0m.2-16.7h0m0-3.8h0m0 22.7h0m.1-19.3h0m.1 16.9h0m0-41.7h0m.3 16.8h0m.5 12.3h0m0-2.9h0m.3 15.4h0m0 6.7h0m.2-34.2h0m.1 5.8h0m.1 4.9h0m.1 2.4h0m.2 18.7h0m0-19.2h0m0-5.6h0m.6 19.6h0m.1 5.1h0m0-17.2h0m0 .1h0m.4-4.3h0m.3 15.5h0m.1-13.8h0m.1 21.3h0m0-4.1h0m.2 .9h0m.2-19.6h0m.1 19.2h0m.2-15.2h0m0-5.7h0m.1-4.4h0m0 4.3h0m.1 18.6h0m.1-12h0m.3-2.1h0m.1 17.1h0m0-15.9h0m.2-7.5h0m.2 21.8h0m.1-30.8h0m.3 14.3h0m0-1.2h0m.2 18.3h0m0-2.2h0m.1-11.8h0m.1-6.8h0m.3 .9h0m.1 17.3h0m0 8.4h0m.2-8.8h0m.1-13.6h0m0-37.8h0m.3 35.2h0m0 17.5h0m.2 .1h0m0-13.3h0m.2-11h0m0 9.3h0m.3 18.3h0m.1-21.4h0m.1 4.6h0m0 17.6h0m.1-27.4h0m.1 4.7h0m0 3.5h0m.3 16.1h0m0-13.1h0m0 10.1h0m.1 1.4h0m.3-22.8h0m.1 5.1h0m.2 22.6h0m0-5.5h0m.2-20.5h0m.4 62.2h0m.3-38.7h0m.1-16h0m.4 20.9h0m.3-20.2h0m.1 12.3h0m.1 4.7h0m.1-23.2h0m.7 17.2h0m.1 6h0m.1-18.6h0m.2 13.7h0m.3 4.8h0m.2-25.6h0m.4 3.6h0m0-12.6h0m.3 31h0m.1-12.6h0m.1 17.2h0m.2-5.4h0m.1-19.6h0m0 21.7h0m.1 22.9h0m0-21.2h0m.6-22.1h0m.1-1.1h0m.2 24.6h0m0-16.5h0m.1-13.4h0m.1 8.3h0m0-4.9h0m0 22h0m.1 19.4h0m.2-21.4h0m.5-10.7h0m.2-.5h0m.3 10.7h0m.3 15.6h0m0 44.6h0m0-72h0m.1-39.7h0m.2 37.4h0m0-4h0m0 8.7h0m.2-3.7h0m.3 15.8h0m.1-.1h0m.5-13.4h0m.1-3.4h0m.5 14.3h0m0-13.7h0m0 3.1h0m.1 .5h0m0 10.3h0m.2 2.5h0m.1 .1h0m.2-18.6h0m0 19.8h0m0-26.5h0m.8 9.8h0m0 44.7h0m.3-31.2h0m.6-20.1h0m.1 21h0m.3-14.4h0m.7 12.1h0m.1-23.1h0m.5 27.1h0m.1-22h0m.2 5.5h0m.2 61h0m.3-72.3h0m0 36.7h0m.2-21.1h0m.1 45.2h0m0-.7h0m.5-45.5h0m0 13.5h0m1.2-13.7h0m1.2 1.3h0m1.7-5.8h0m1 4.6h0m0-2.2h0m.1 11.5h0m.4-7.4h0m8-5.5h0m8.5-1.4h0m1.4 68.8h0m2.8 9.7h0m0-28.9h0m1.4-46.8h0m7.3 .6h0m9.3-2h0m3.1 0h0" stroke="#F8766D" stroke-width="3.7" stroke-linecap="round" fill="none"/>
<path d="M72.0 671.2h0m0 8.5h0m0-12.6h0m.1 6.3h0m.1 2.8h0m.1 5h0m.1-16.2h0m.2 17h0m.1-12.1h0m0 21.6h0m0-10.3h0m0-14.5h0m.1-4h0m.1 29.3h0m.2-35.8h0m0 38.6h0m0-1.4h0m.1-17.1h0m.1 21.7h0m.1-21.8h0m.1-21.7h0m.1 41.6h0m0-4.1h0m.2 6.6h0m0-44.7h0m0 1.7h0m.1-1.3h0m0-.6h0m.1-1h0m.1 1.4h0m.2 46.9h0m0-49.8h0m.2 52.9h0m.3-3.1h0m.1-52.9h0m.1 58.2h0m.2-.7h0m0 1.2h0m.1 .5h0m.3 .2h0m.2-1.8h0m.1 2.9h0m.1-1.7h0m.1-.2h0m0-62.6h0m0 31.8h0m.4-34.2h0m0 67.7h0m.1-33.5h0m.1-33.7h0m0 33.1h0m.1 0h0m0 36.8h0m.1-72.3h0m.9 36.4h0m.2 .2h0m.3-7.5h0m.1 2.8h0m0 44.7h0m.1-31.5h0m0-1.9h0m.1-16.6h0m0 8.3h0m0 4.4h0m.1-9.7h0m.1 6.2h0m0-9.7h0m0 10.2h0m0-41.2h0m.1 52.3h0m0 30h0m.1-83.3h0m.1 51.4h0m0-5.9h0m0-6.2h0m0 .7h0m.1 15.1h0m0-5.2h0m.1-13.3h0m0 .6h0m0 2.1h0m0-8.5h0m.1 14.2h0m.1 1.1h0m0-2.3h0m0 8.4h0m.1-9.2h0m0-13.1h0m0 16.7h0m.1-3.4h0m0 12.2h0m0-9.5h0m0-10.8h0m.1 3.8h0m0 1.5h0m0 13.8h0m.1-4.6h0m0-15.6h0m0-6.8h0m.1 20.4h0m0-12.4h0m0 3.8h0m.1 9h0m0 7.9h0m0-21.1h0m0 15.2h0m.1 6.2h0m0-9.9h0m.1-8.1h0m0-10.8h0m.1-1.5h0m.1 27.1h0m0 7.8h0m.1-13.2h0m0-6.5h0m0-2.7h0m.1-4.9h0m0-11.6h0m0 5.7h0m.1 20.2h0m0-19.6h0m0 8.5h0m0 19.2h0m.1-8.7h0m0 3.2h0m0-19.6h0m.1 1.6h0m0 2.6h0m0 12h0m0-7.4h0m0 18.1h0m.1 3.9h0m.1-23.1h0m0 13.6h0m.1-24.6h0m0 29.1h0m0-27.2h0m0 25.3h0m0-9.2h0m.1 16.6h0m.1-6.2h0m0-22.3h0m.1 12.8h0m0-26.8h0m0 38.7h0m.1-2.1h0m0-11.1h0m0 7.7h0m.1-19.6h0m0 21h0m.1-14.1h0m0-13.1h0m0 24h0m.2 4.7h0m0-33h0m0-2.9h0m0 16.9h0m0-19.4h0m.1 42.3h0m0-11.2h0m0-2.3h0m0 1.1h0m.2-19.7h0m0 14.5h0m0-4.7h0m.1 1.6h0m0-.5h0m.2 3.8h0m0 12.5h0m0-28.3h0m0 8.7h0m0 30.6h0m0-34.2h0m.2-12.8h0m0 28.4h0m0-3.5h0m.2 6.8h0m0-18.1h0m0-16.1h0m0 31.8h0m.1 16.5h0m0-26.1h0m0 15.5h0m0 4.7h0m0-4h0m0-11.6h0m.1 5.2h0m0 4.1h0m.1-7.6h0m0-28.2h0m0 25.9h0m.1 13h0m0-9.3h0m0-.6h0m0-1.6h0m0 2.1h0m0-3.8h0m0 11.2h0m0-.3h0m0-11.4h0m.1 1h0m0-1.5h0m.1 6.4h0m0-12.4h0m0 5.4h0m0-23.9h0m0 26.5h0m0 2.4h0m0-9.3h0m.1 14.6h0m0-8h0m0-2.3h0m.2-7.7h0m0 .9h0m0 13h0m.1 5h0m0-5.8h0m0 10.8h0m.1-32.1h0m0 27.4h0m0-19.4h0m0-2.3h0m.1 21.6h0m0-11.5h0m0 1.8h0m.1 19.3h0m0-24.6h0m.1 .1h0m0 4.6h0m.1-3.4h0m0 17.1h0m.1-11.6h0m0-14h0m0 28.1h0m.1-26.7h0m0 20.1h0m.1-14.1h0m0 5.4h0m0-19.5h0m0 31.2h0m0-11.8h0m.1 11.4h0m0-4h0m.1-15.9h0m0-14h0m0 44.6h0m0-28.1h0m0 20.6h0m0-22.8h0m.1 14.9h0m0-5.5h0m0 2.7h0m0-1.7h0m0-13.9h0m.1 27.4h0m0-10.5h0m.1-.3h0m0 6.4h0m.1 .9h0m0-7h0m0 4.9h0m0-.7h0m0-33.6h0m.1 27h0m0-4.5h0m0 2.4h0m0-2.4h0m.1 1.3h0m.1-13h0m0 18.4h0m.1-17.4h0m0 33.7h0m0-31.9h0m0 16.7h0m0-10.5h0m0 17h0m.1-19.1h0m0 12.6h0m.1-13.1h0m0 6.6h0m.1 14.6h0m0-26.6h0m0 13.8h0m.1 10h0m0-5.1h0m.1-13h0m0 10.8h0m0-6.8h0m.1 9.2h0m0 3.1h0m0-33h0m0 21.8h0m0 12.3h0m.1-23.5h0m0-.6h0m.1-.6h0m0 15.1h0m0-19h0m0 7.9h0m.1-5.8h0m0 9.3h0m.1 12h0m0 14.5h0m.2-18.3h0m0-4.1h0m.1-16.7h0m0 1.9h0m.1 24.9h0m0-12h0m.1-11.3h0m0 15.1h0m0-10.4h0m0 6.1h0m0 23.2h0m0-22.8h0m.1-12.6h0m0-4.5h0m.1 31.8h0m0-7.1h0m.1 3.4h0m0-7.1h0m.1 2.9h0m.1-8.3h0m0 4.3h0m.1-12.7h0m0 19.2h0m0-12.9h0m.1 7.5h0m0 10.4h0m0-7.3h0m0-10.9h0m.1-11.2h0m0 28.7h0m0 10.3h0m0-20.8h0m0-4.5h0m.1-5.9h0m0-8.2h0m0 14.6h0m0 11.3h0m.1-6.4h0m0-21.5h0m0 12h0m0 1.3h0m.1 2.3h0m0-7.5h0m0 1.3h0m.1 14.4h0m0-13.7h0m0 25.6h0m0-17.4h0m0 17.1h0m.1-.6h0m0-1.5h0m0-13.1h0m.1-7.6h0m0 16.4h0m0-.2h0m0-6.5h0m.1-12.7h0m0 24h0m.1 2.6h0m0-20.2h0m0 3.1h0m.1-18.5h0m0 12.4h0m.1 21.1h0m0-25h0m0 12.7h0m0 9.7h0m0-9.9h0m0-1.4h0m0-6.5h0m.1-5.4h0m0 25.6h0m0-1h0m0-.7h0m.1 1.7h0m0-21.1h0m0 2.5h0m.1 8.2h0m0 .2h0m0-12.6h0m.1 11.8h0m0 6.5h0m0-5.9h0m0-5.3h0m.1 22.3h0m0-29.8h0m0 24.3h0m.2-16.5h0m0 15.7h0m.1-20.1h0m0-5.8h0m0 18.1h0m.1-8.7h0m.1 6.5h0m0 9h0m0-14.5h0m.1 12h0m0-9.1h0m.1 7h0m0-1.7h0m0 2.8h0m.1-4.6h0m.1-2.4h0m0 9.4h0m.1-22.3h0m0 25.4h0m0-9h0m.1 13.7h0m0-22.7h0m0 20.6h0m.1-3.4h0m0-21.6h0m.1 10.3h0m.1-18.3h0m.1 4.2h0m0 6.2h0m0 3.5h0m0 3.1h0m0-1.1h0m0-6.2h0m.1 6.2h0m0 3.9h0m0-9.2h0m0 8.3h0m.1-8.8h0m0 6.9h0m.1-2.3h0m.1 14h0m0-18.6h0m0 3.1h0m.1 15.7h0m0-12.5h0m0-1.1h0m.1 9.8h0m0-4.2h0m.2-10.1h0m0 3h0m.1 2.6h0m0-18.2h0m0 24.8h0m.1-6.9h0m0-7.7h0m.1 8.2h0m0 5.4h0m0-3h0m.1 2h0m.1-17.6h0m0 17.4h0m0-.5h0m0-6.3h0m0 4.1h0m.1 3.1h0m0-11.4h0m0-6.1h0m0 8.3h0m.1 5.5h0m.1 9.6h0m0 .3h0m0-11h0m0-.9h0m.1-5.1h0m0 7.9h0m.1-8.4h0m.1 7.3h0m0 6h0m.1-10.6h0m0 2.6h0m0-14.3h0m0 9.6h0m0 5.4h0m0-1.8h0m0 14.7h0m0-25.5h0m.1 3.7h0m0 18.9h0m.1-13.5h0m0-2.1h0m0 3.6h0m.1 14.3h0m0-13.5h0m0 5.5h0m.1-12h0m0 11.7h0m0-8h0m.1 3.3h0m0-4.2h0m0 13.7h0m.1-19.9h0m0 13.7h0m0 10.1h0m0-7.2h0m0-.4h0m.1-3.5h0m0 .9h0m0-10h0m.1 3.8h0m0 11.7h0m.1 0h0m0 3h0m0-4.8h0m0-5.8h0m.1 12.8h0m0-6.7h0m0-8.6h0m0-11.8h0m.1 6.2h0m0 12.2h0m0 11.8h0m0-6.3h0m0-9.2h0m.1 7h0m0-16.2h0m0 6.3h0m0 2.3h0m0-7h0m.1 18h0m.1-17.1h0m0-1.8h0m0 17.6h0m0-15.7h0m0 4.2h0m0 9.1h0m.1-7.7h0m0-10.8h0m0 12.4h0m.1-16.4h0m0 18.3h0m0-18.3h0m0 15.2h0m0 5h0m0-16.8h0m.2 20.7h0m0-13.5h0m0 2.1h0m0 18h0m0-30.4h0m.1 9.9h0m.1-7.5h0m0 .7h0m.1 6.1h0m0-4.2h0m.1 5.2h0m0 11.1h0m0-.7h0m.2-8.7h0m.1 6.5h0m0-9.9h0m0-2.6h0m.1 19.9h0m0-16.1h0m0 15.2h0m0 4.8h0m0-15.3h0m.1-10.9h0m0 13.6h0m0 9.5h0m.1-11h0m0 9.5h0m.1-9.3h0m0 4.7h0m.1-6.6h0m0-5.3h0m.1 6.1h0m0 10.5h0m.1-15h0m0 4.7h0m0 12.5h0m0-19.1h0m.1 9h0m0 .5h0m.1 11.5h0m0-14.2h0m.1-3.3h0m0-4.7h0m0 16.1h0m.1-3.7h0m.1-9.4h0m0-9h0m.1 18.3h0m.1-8.5h0m0 10.1h0m.1-9.4h0m0-.4h0m0 7.1h0m.1 4.1h0m0-6.3h0m0 9.4h0m.1-7.5h0m.1 2h0m0-3.1h0m0 4.4h0m0-12.1h0m0-1.8h0m.1 2.4h0m.1 14.1h0m0-.9h0m0 2.1h0m0-21.1h0m.2 17h0m0-5.5h0m.1 .7h0m0-14.6h0m0 23.2h0m.1 3h0m.1-14.7h0m0 15.6h0m.1-19.5h0m.1-3.5h0m0 13.8h0m.1-12.8h0m0 7.4h0m0 9.9h0m.1-3.1h0m0-10.6h0m0 4.6h0m0 12.8h0m0-19.6h0m.1 1.2h0m0 .7h0m0 3.8h0m0-2.3h0m0 .3h0m0 14.8h0m0-7.8h0m.1 3.7h0m.1-9.3h0m0-2.3h0m.1-8.9h0m.1 10.2h0m0 2.9h0m0-3.7h0m0 1.1h0m.1-2.2h0m0 5.7h0m0 5.1h0m.1-7.6h0m0-2.2h0m0 6.8h0m.1-2.9h0m0 2.4h0m0 5.9h0m.1-7.5h0m0-2h0m0-.9h0m0-7.2h0m.1 7.2h0m0-2h0m0 .3h0m0-.5h0m0-2.5h0m.1 3.5h0m.1-9h0m0 15.4h0m0 0h0m.1-2.7h0m0 1.4h0m.1 1.7h0m0 0h0m.1 5.8h0m0-8.3h0m0 3.5h0m.1-.4h0m0-8.6h0m0 7.3h0m0-.6h0m.1 1.3h0m0-15.6h0m0 6.7h0m0-7.3h0m.1 8.1h0m0 7.8h0m.1 5.9h0m0-1.2h0m0-13.5h0m0 10.3h0m0-11h0m.1-5.2h0m0 9h0m0 6.1h0m0-4.8h0m.1 6.2h0m0-11.1h0m0 17.4h0m0-15.1h0m0-4.7h0m0 8.3h0m.1-.1h0m0-2.4h0m.1 11.8h0m.1-8.3h0m.1 .9h0m0 1.3h0m.1-12.4h0m0 4.2h0m0 17.5h0m.1-6.2h0m.1 2.6h0m0-17.2h0m0-3.8h0m0 6.5h0m0 7h0m.1-5.5h0m0 9.2h0m.1 4.9h0m0-5.7h0m.1 3.6h0m0-8.1h0m0 2.1h0m0-8.6h0m.1 13.7h0m0-.9h0m0-17.9h0m.1 6.1h0m0 7.6h0m.1 1.8h0m0-9.5h0m0 1.9h0m0 2.1h0m.2-.2h0m0 9.1h0m0-1.9h0m.1-9.1h0m0 10.4h0m.1-8.2h0m0-.7h0m0 1.9h0m0 3.5h0m0-5h0m.1 2.7h0m0-2.4h0m0 3.4h0m0-1.9h0m.1 2h0m0-.7h0m.1 7.3h0m0-4.7h0m0 4.8h0m0-.4h0m.1-1h0m0-3.6h0m0 2.5h0m0-5.7h0m0 1h0m0 8h0m0-6.2h0m0-1.2h0m.1 .8h0m.1 3.3h0m0-8h0m0 5.9h0m0-6.3h0m0 5.4h0m0 5.4h0m.1-11.9h0m0 5.8h0m0-11.7h0m0 6.6h0m0-.2h0m0 5.2h0m.1-4.6h0m0 2.8h0m0 6.7h0m.1-1.2h0m0-1h0m.1-1.1h0m0-15.1h0m0 15.6h0m0-5h0m.1-2.4h0m0 10h0m.1-9h0m.1 .5h0m0 3h0m0-3.5h0m.1 .7h0m0 2.3h0m0 1.6h0m.1-4.2h0m0-1.5h0m0-1h0m0 7.1h0m.1-2.7h0m0-2.3h0m0-3.9h0m.1 4.4h0m0 3.3h0m.1-2.5h0m.1 .5h0m.1 4.6h0m0 .2h0m0-8.2h0m0 7.3h0m.1-7h0m0 12.9h0m0-5.4h0m.1 7h0m0-7.2h0m0-7.6h0m0 11.3h0m.1-7h0m0 1.6h0m.1-1.7h0m0 7.1h0m0-18.3h0m0 7.3h0m.1 9.7h0m0-11.6h0m0 0h0m.1 16.2h0m0-18.9h0m.1 3h0m0-1.2h0m0 3.1h0m.1 4.2h0m0 .7h0m.2 7.4h0m0-18h0m0 7.7h0m0 5h0m0-1h0m0 1.5h0m.1-.1h0m0-1.9h0m0-1.8h0m0 6.3h0m.1-7.9h0m.1 1.5h0m0-2.2h0m0 .9h0m.1-2.3h0m0-1.7h0m.1 10.9h0m0-14.7h0m0 10.1h0m.1-2.9h0m0 .1h0m.1 11.8h0m0-11.3h0m0 4.4h0m.1-1.8h0m.1-1.6h0m0-3.6h0m0 1h0m0 12.8h0m0-11.8h0m.1 7.1h0m0-7.5h0m0 7.4h0m0-.5h0m0-4h0m.1 4.5h0m0-11.1h0m0 4.9h0m.1 4.3h0m0-8.8h0m.1-1.4h0m0 3.5h0m0-1.8h0m0 7.5h0m0-4.7h0m.1 1h0m0 7.4h0m0-5.8h0m0-.3h0m.1 2.1h0m0 7.1h0m0-8.4h0m0 1h0m.1-.9h0m0-5.5h0m.1-1.1h0m.1 6.1h0m0-5.3h0m0 14.7h0m.1-9.7h0m0 9h0m.1-8.1h0m.1 8.8h0m0-12.3h0m0 7.6h0m0-14.6h0m.1 9.9h0m0 1.8h0m.1 6.8h0m0-9h0m0-9.3h0m.1 6h0m0 6.4h0m.1-1.8h0m0-.7h0m.1-1.2h0m0 6.6h0m.1-6.1h0m.1 1h0m.1-3.4h0m0-3.1h0m.1 13.6h0m0-8.8h0m0-1h0m.1 6.2h0m0-1.5h0m0-5.8h0m0 .8h0m.1-3h0m0-1.5h0m.1 4.3h0m.1 0h0m0-1.1h0m.1-2.1h0m.1 3.3h0m0 2.6h0m0 8.5h0m.1-7.7h0m.1-4.9h0m0 12h0m0-.7h0m0 1.6h0m0-10.6h0m.1 1.8h0m0-.3h0m0 9.1h0m.1-12.5h0m.1-1h0m0-.9h0m0 7.6h0m.1 6.7h0m.1-3h0m0-5.8h0m.1-2h0m0-.9h0m.1 3.9h0m0 2.7h0m.1-1.8h0m0-3.8h0m0-1.3h0m.1-2.1h0m0 10.5h0m0-3.8h0m0 7.2h0m0-14.5h0m.1 4.5h0m0 2h0m0-2h0m0 3.9h0m.1 1.8h0m0-9h0m0 3h0m.1-.8h0m0-4.3h0m0 5.2h0m.1 6.7h0m0-13.2h0m.1 8.7h0m0 1.2h0m0-5h0m0 8.6h0m.1-8h0m0 4.5h0m.1-10.1h0m0 16.6h0m0-5.1h0m0-3.7h0m0-3.4h0m.1 5.5h0m0 4.3h0m0-14.5h0m0 5.1h0m.1 2.5h0m0-3.8h0m0 6h0m.1 2.9h0m0-4.4h0m.1-6.4h0m0 1h0m.1 2.6h0m0 11.3h0m0-11.6h0m0-1.2h0m0-.5h0m0 6.1h0m.1 .1h0m0-5.7h0m.1 5.5h0m0 3.7h0m0-6.3h0m.1-.9h0m0 9.4h0m0-4.9h0m0-7.8h0m0 4.2h0m.1 1.2h0m0 4.5h0m.1-.8h0m0-2.3h0m0-6.1h0m0 1.9h0m.1 2.8h0m.1 3.3h0m0-10.3h0m.1 3h0m0 5.2h0m.1-4.2h0m0 .1h0m0 6.3h0m.1-4h0m0 5.3h0m.1 1h0m0-.8h0m.1-1.2h0m.1 4.6h0m.1-.1h0m0-7.1h0m.2-3.1h0m.1 7.8h0m0-4.4h0m0 5.7h0m.1 .9h0m0-9.9h0m0 2.9h0m.1-3h0m0 5h0m.1-1.3h0m.1 1.8h0m0 .6h0m0-7.5h0m0-.6h0m0 7.8h0m0-4.6h0m.1 .8h0m0 8h0m.1-10.5h0m0 10.5h0m.1-8h0m0-1.7h0m0-4.9h0m.1 6.9h0m0 1.8h0m.1-6.6h0m0 1.4h0m0 10.2h0m0 .8h0m.2-3.5h0m.1 1.6h0m0-8.5h0m0 5h0m.1 1.6h0m0-6.2h0m.1 3.1h0m.1 1.8h0m0-2.5h0m.1-2.6h0m.1-.7h0m.1 4.1h0m0 .7h0m0 1.1h0m.1-5.3h0m0 4.5h0m.1 1.1h0m0-6.1h0m0 2.3h0m.1 0h0m0-3.6h0m.3-.8h0m0 4.6h0m0 7.2h0m.1-5.5h0m0-4.7h0m0 10.1h0m.1-13.7h0m0 .9h0m.1-1.9h0m0 12.4h0m.1-4h0m.2 0h0m0 .5h0m0-.6h0m.1 .7h0m0-.8h0m.1 .2h0m0-.3h0m0 2.5h0m.2-2.6h0m.1-6.1h0m0 13.2h0m0-7.1h0m.1 4.1h0m0-11h0m.1 6.9h0m0-2.9h0m0 .9h0m.1 4.2h0m0-.2h0m0-3.2h0m.2-4.8h0m0 9h0m0-4.8h0m0 5.4h0m.1-7.2h0m0 3.8h0m0-.2h0m.1-3.9h0m0 1.8h0m0-2.5h0m0 5.1h0m.1 1.9h0m.1 3h0m0-3.1h0m0 0h0m0-3.5h0m.1 1.8h0m0-3.3h0m0-4.8h0m0 8.6h0m.1 5.7h0m0-11.7h0m0 6.9h0m.2-9.6h0m0 5.5h0m0-2.5h0m.1 1.7h0m0 4.6h0m0-.2h0m.1-5.5h0m0-.9h0m0 7.3h0m.1-.7h0m0-.5h0m0 1.7h0m.1-10.4h0m0 7.3h0m.1 1.7h0m.1-2.2h0m0 4.7h0m.1-8.3h0m0-2.1h0m0 11.5h0m0-11.2h0m.1 4.2h0m0 .2h0m.1 3.2h0m0-4.6h0m.1 7.3h0m0-7.4h0m.1 5.4h0m0-7.4h0m0 3.1h0m0 .8h0m.1 3.2h0m0-6.3h0m0 9.3h0m0-9.5h0m0 0h0m.1-2.8h0m0 4.8h0m0 7.3h0m.1 2h0m0-4.8h0m0-4.6h0m0 2.4h0m0 .5h0m0 5.1h0m0-2.5h0m.1-6.8h0m0 3.9h0m0 2.5h0m0 1.1h0m0 1h0m.1-6.5h0m0 2.3h0m0-1.2h0m.1 3h0m0-9.3h0m0 5.1h0m0 5.8h0m.1 .2h0m0-3.7h0m0 2.2h0m0-1.7h0m0-2.2h0m.1 2.4h0m.1-1.8h0m0 1.8h0m0 .8h0m.1-2.7h0m.1-2.7h0m0 2.7h0m.1-6.4h0m0 3.2h0m.1-3.1h0m.1 .8h0m.1 6.3h0m.1 .2h0m.1 5.9h0m0-4.1h0m0-6h0m0 1.9h0m0 .5h0m.1 7.1h0m0-4.9h0m.1-1.9h0m0-3.9h0m.1 9.8h0m0-3.1h0m.2 1.6h0m.1-2.5h0m0 2.1h0m0-1.6h0m.2-4.4h0m0-1.3h0m.1-.8h0m0 3.7h0m0 4.2h0m0-5.9h0m.1 .4h0m0 0h0m.1 4.9h0m.1 1.8h0m0-4.1h0m.1-4h0m0 7.5h0m0-.6h0m.1-5.8h0m0 4.3h0m.1-1.4h0m0 5.2h0m0-8h0m0 6.5h0m.1-3.7h0m.1-3.1h0m.1 4h0m0-3.2h0m0 9.4h0m0-13.6h0m0 5.5h0m0-2.7h0m0 5.8h0m.1 1.4h0m0 2.4h0m.1-2.1h0m0-1h0m0-3.2h0m0 3.8h0m.1-2.9h0m0 4.9h0m.2-3.3h0m0 2h0m0-2.6h0m0 1.3h0m.1-5.5h0m.1 1.3h0m0-1.5h0m0 6.3h0m0 .9h0m0-3.1h0m0 1.1h0m.1-2.3h0m0-1.4h0m0 4.4h0m.1-4.5h0m0 .3h0m.1 3.4h0m0-2.5h0m0-3.9h0m.1 1.2h0m0 7.5h0m0-7.1h0m0-.1h0m.1 6.3h0m0-.5h0m0-4h0m0-1.2h0m.1 2.3h0m0-1.9h0m.1 1.7h0m0 1.4h0m0 2.6h0m0-9.3h0m.1 2.8h0m.1 9.4h0m0-11.3h0m0 6.9h0m0 0h0m.1-1.4h0m0 .9h0m.1 .4h0m0-2.3h0m0 1.4h0m.1-4.3h0m0 9.3h0m0-2.3h0m.1-3.1h0m.1 1.4h0m0-2.7h0m0 1.6h0m.1-3.5h0m0 4.3h0m0 2.1h0m0-5h0m.1 0h0m0 2.1h0m.2-4h0m0 2.2h0m0-2.2h0m0 3.1h0m0 1.4h0m0-6.1h0m0 5.6h0m0-1.1h0m.1 2.5h0m.1-6.6h0m0 6.2h0m0-1.9h0m0-1.5h0m.1 .5h0m.1 4.7h0m.1-4.4h0m0 1.2h0m0 1.6h0m.1-1.9h0m.3 .9h0m0 3h0m0 0h0m.1-1.7h0m0 .6h0m0-1.2h0m0-.4h0m.2-5.6h0m0 5.4h0m0 .4h0m.1-2h0m.1-5.7h0m0 8.6h0m.1-3.3h0m0 4.8h0m0-5.6h0m0 4.6h0m.1-6.1h0m0 4.3h0m.1 0h0m0-.5h0m.1-4h0m0 4.9h0m0-.3h0m.1-.4h0m.1 1.9h0m.1-4h0m0 6.9h0m0-5.8h0m0 4.3h0m0-10.8h0m.1 8.5h0m.1-.1h0m0-8.4h0m.1 5.1h0m.1 1.8h0m.1 4.4h0m0-2.5h0m.1 4.1h0m0-6.7h0m0 1.1h0m.1 .2h0m.1-2h0m0 1.2h0m0 .5h0m0 4.6h0m.1 1.2h0m0-12.1h0m.1 .9h0m.1-1.6h0m.1 3.3h0m0 1.2h0m0 3.6h0m0 1.8h0m.1-6.3h0m0 5.1h0m.1-4.9h0m.1 2.3h0m.1 5.5h0m.1 .1h0m0-7.4h0m0-2.9h0m.1 4h0m0-3.1h0m0 3.8h0m.1-1.1h0m0-3.3h0m.2-.5h0m.1 2.8h0m0 1.4h0m.1 2.4h0m0-2.3h0m0 1.3h0m0-3.2h0m.1 3h0m.2-2.8h0m0 5.7h0m.1-6.4h0m0 1h0m.1 3.3h0m.1 2.1h0m0-6.2h0m0 3.6h0m.1-4.1h0m.1 3.3h0m0-3.8h0m.1 5.8h0m0 2h0m.1-5.6h0m0 3.6h0m0-5.7h0m.1 8.6h0m0-8.1h0m.1 7h0m0-1.9h0m0-.5h0m.1-.4h0m0-.2h0m0-.5h0m0-4.5h0m.1 5.3h0m.1-7h0m0 11.1h0m.1-4.1h0m0-1.7h0m0-3.1h0m0 2.7h0m0 2.9h0m.1-1.4h0m0 .5h0m.1-.8h0m0-.4h0m.1 5.1h0m.1-7.2h0m0 1.5h0m.1 1.1h0m0-2.5h0m0-1h0m.2 3.3h0m.1-2.4h0m0 .7h0m.1-3.2h0m.2 5.3h0m0-6.2h0m.1 10.4h0m0-1h0m0 .3h0m0-4.8h0m.1 .1h0m.1 .3h0m0-3.2h0m0 8.4h0m.1-4.9h0m.1 0h0m.1 2.3h0m0-3.9h0m0 4.5h0m0-.8h0m.1 2.4h0m.1-1.6h0m0-2.9h0m.1 1.1h0m0 2.4h0m0-4h0m.1 .4h0m.1-.9h0m.1-1.2h0m.1-.9h0m.1 5.1h0m0 .3h0m0-.8h0m0 1.2h0m0-4.3h0m.1 7.6h0m.1-6.1h0m.1-3.8h0m0 4.1h0m0-.9h0m.1 5.7h0m0 .3h0m.1-7.4h0m.1 3.6h0m0-2.6h0m.1 2.6h0m0-1h0m.1 2.1h0m.1-4h0m.1-.4h0m0 1.5h0m0 1.5h0m0-4.6h0m.1 1.9h0m.1 2.6h0m.1-.8h0m.1 3.5h0m.1-5.4h0m.1 .5h0m0 3.7h0m0-.9h0m.1-4.4h0m.1 2.8h0m0 2.5h0m0-7.7h0m.1 .7h0m0 4h0m0 .4h0m0 .9h0m.1-2.2h0m.1 .1h0m0 3.1h0m.1-.4h0m0-1.6h0m0 .6h0m.1 5.5h0m0-2.3h0m.1-2.2h0m.1 .1h0m0 3.3h0m.1-5h0m0-.1h0m0 1.6h0m0 2.7h0m.2-1.3h0m0-3.6h0m0 6.5h0m0-6.7h0m.1 2.5h0m0-1.3h0m0-1h0m0 3.2h0m0-.3h0m.1-.4h0m.1 .9h0m0-4.4h0m0 1.1h0m.1 6.4h0m0-7.3h0m.1 4.6h0m.1-1.3h0m0 1.6h0m.1-3.6h0m0-.1h0m.1 4.7h0m0-2.1h0m0-.8h0m0 .4h0m0 1.7h0m.1-5.4h0m0-2.9h0m0 .9h0m.1 3.9h0m0-4.4h0m.1 9.9h0m0-5.7h0m.1 2h0m.1 1.8h0m0 1.4h0m0-6h0m0 4h0m0-4.2h0m.1 .6h0m0 1.7h0m0 1.4h0m.1-6.7h0m0 1.7h0m0 5.1h0m.2 .6h0m0-.8h0m.1 .9h0m0-.6h0m.1 3.1h0m0-6.8h0m0 5.9h0m.2-7.9h0m0 3.7h0m0 2.3h0m.2-3h0m.1-1h0m.1 3.2h0m0-2.5h0m0 2h0m.1-4.8h0m0 .7h0m0 3.3h0m.1-1.3h0m0 1.3h0m.1 1h0m.1-1.6h0m.1 2h0m0-2h0m.1 2.1h0m.1-1.4h0m0 4.2h0m0-1.7h0m0-8h0m0 9.1h0m0-5h0m.1-.7h0m0-.6h0m0 5.9h0m.1-.1h0m0-2.4h0m0-6.2h0m.1 .1h0m0 9.5h0m.2-7h0m0 3.1h0m0 1.1h0m0-.5h0m0 1.7h0m0-4.1h0m0-.6h0m.1 2.5h0m0-1.2h0m0 1.3h0m.1-2.2h0m.1 2.4h0m.1 .9h0m0-5.4h0m0 7.6h0m.1-6.5h0m0 2.3h0m0-.6h0m.2 5.6h0m0 .1h0m.1-3.7h0m0-2.7h0m.1-3.5h0m0 2.1h0m0 5.3h0m.2-2.7h0m.1-1.2h0m0-2.7h0m0 5.2h0m.1-1.3h0m0 4.1h0m0-6.6h0m.1-2.2h0m0 2.4h0m.1 5h0m0-2.4h0m.1-1.4h0m.1 3.8h0m0 1.1h0m0-2.9h0m0 3.2h0m.1-8.8h0m0 7.8h0m0-1h0m0 1.4h0m.1-1.6h0m0-5.2h0m0 4.2h0m0-1.7h0m.2 5.9h0m0-6.3h0m.2 3h0m0-5.1h0m0 3.1h0m0-1.7h0m.1 .1h0m0 .4h0m0-1.6h0m.1 3.8h0m0-3.1h0m.2 .7h0m.1 1.5h0m0-2h0m.1 2h0m0 4.2h0m0-6h0m0-2.6h0m.1 3.4h0m0 1.2h0m.2 4.9h0m.2-3.4h0m.1-.3h0m0-1.1h0m.1-.5h0m0-1.2h0m0-1h0m.1 4.1h0m0 0h0m0 3.4h0m.1-3.3h0m.1 .1h0m0-3.7h0m0 4.6h0m0-4.9h0m.1-1.6h0m0 3.6h0m0 2.4h0m.1-2.5h0m0-4.3h0m0 5.8h0m0-3.5h0m.1 5.1h0m0-.3h0m0-2.1h0m.1-3h0m0 2h0m.4-1.3h0m0 1.6h0m0-1.7h0m0 3h0m0-1.4h0m0 .4h0m.1 3.7h0m0-2.7h0m0 1.3h0m.1-4.3h0m0 3.7h0m.2 3.2h0m.1-4.4h0m0-.3h0m0 3.5h0m0-6h0m.1 .5h0m0-.1h0m0 1.1h0m0 3.9h0m.1-6.2h0m0 3h0m.1 1.6h0m.2-3.8h0m0 2h0m.1 .3h0m.1-.6h0m0-.7h0m0-.3h0m0-2.9h0m.1 4.5h0m0-3h0m0 .8h0m0 1.4h0m.1 4h0m.1-5.6h0m0 5.6h0m0-3.8h0m0 3.9h0m.1-6.4h0m.1 5.2h0m0-3.1h0m.1 1.6h0m.1 2.4h0m0-2.8h0m0 .6h0m0 1.6h0m.1-3.7h0m0 4.9h0m.1-5.2h0m0 1h0m0 3.3h0m0-2h0m.1-3h0m0 5.8h0m0-1.6h0m0-2.5h0m.1-1.2h0m0-.9h0m0 3.1h0m.3-.1h0m0 2.8h0m.1-7.5h0m0 7.8h0m.1-.8h0m0-2.4h0m0-2.1h0m.2 5.6h0m0-2.9h0m0 3.4h0m0-4.2h0m.1 3.4h0m0-4.5h0m.2 5.4h0m0-4.9h0m0 2.3h0m.1-3.7h0m0 3.9h0m0-.7h0m.1-3.1h0m.1 3.6h0m.1-1h0m0-.6h0m0-1.8h0m0 1.8h0m.1 .5h0m0 3.9h0m0-1.7h0m0-.3h0m.1-2.8h0m0-1h0m.1 5.1h0m0-5.2h0m.1 .2h0m0 .6h0m0 3.4h0m0-6h0m.1 2.6h0m0 .8h0m.2 3.2h0m.1-5.4h0m.1 5.5h0m0-5.9h0m.1 3.4h0m0 1.4h0m0-2.9h0m.1-.7h0m0-.5h0m.1 4.1h0m.1-4.6h0m0 6.9h0m.1-7.1h0m0-.4h0m0 6.9h0m.1-7.7h0m0 5h0m0 0h0m0 .8h0m.1 .5h0m.1-6.3h0m.1 8.3h0m0-1.7h0m0-3.8h0m0-.5h0m0 1.6h0m.2 .4h0m0-.9h0m0 .8h0m.1-4.8h0m0 6.1h0m0-1.1h0m0 2.5h0m.1 1.4h0m.1-6.3h0m0 2.1h0m0 1.1h0m.1-.4h0m0-3.4h0m0 2.7h0m.1-2.1h0m0 .1h0m0 .9h0m.1 1.1h0m.1-4.7h0m0 4.4h0m0 .4h0m0-.2h0m0-2.9h0m.1 2.3h0m.1 1h0m0-2.8h0m.1 4.1h0m0-2.9h0m0 2.1h0m0-.7h0m.2-1.8h0m.1 1h0m0 .1h0m0-.4h0m0 5.2h0m0-2.6h0m0-1.1h0m.1 1.2h0m0-2h0m0 .8h0m0-3.7h0m0-.2h0m.2 1.1h0m0-2.3h0m.1 4.2h0m.1-3h0m0-1.2h0m0 3.6h0m0 .5h0m0 .8h0m.1-1.1h0m.1-1.5h0m0-.2h0m0 6.6h0m.1-1.6h0m0-2.7h0m0 3.1h0m.1-7.5h0m0 5.4h0m.1 2.6h0m0-1.8h0m0-.4h0m.1-2.4h0m0 2.8h0m.1-3.7h0m0 1.8h0m.1-1.1h0m.1 2.9h0m.1-2.6h0m0 .5h0m0 2.2h0m0-6.2h0m.1 7.5h0m.1-3.2h0m0 2.1h0m.1-2.3h0m.1 4h0m.1-2.7h0m0-3h0m0 .3h0m0 1.6h0m.1-.4h0m.1 0h0m.1 1.2h0m0-1.2h0m0 1.4h0m.1 .8h0m.1-3.9h0m.1 2.8h0m0-2.4h0m.1 5h0m0 1.2h0m0 0h0m.1-5h0m0-.3h0m.1 3.5h0m0-4.7h0m.1 1.1h0m.2 1.9h0m0-.8h0m.1-.6h0m.1 3.1h0m0-2.4h0m0-2.6h0m.1 1.6h0m0 .1h0m.2 2.2h0m.1-1.2h0m.1-.7h0m0 .1h0m.1 .2h0m0 1.9h0m.2-.3h0m0 .9h0m0-.7h0m.3-1.5h0m.1-3.8h0m0 4.2h0m0 1.5h0m.1-2.9h0m.1 5.3h0m0-6.4h0m0 1.6h0m0-3.2h0m0 2.3h0m.1 1.2h0m0 .3h0m0 2.3h0m.1-3h0m.1-.7h0m0-1.5h0m.1 4.5h0m0-1.1h0m0-1.5h0m.1 3.3h0m0-4.8h0m.1 2.9h0m0-.5h0m0 2.8h0m.1-4.3h0m0-3h0m.1 3.4h0m0 3.2h0m0-4.4h0m0 4.9h0m.1 1h0m.1-3.9h0m.1 1.1h0m.1-2.1h0m0 3.5h0m0-5h0m.1 .5h0m0 1h0m0-.4h0m.1 2h0m0 .1h0m.1 1.3h0m0 .1h0m.3 1.3h0m0-1h0m.1-.5h0m0 0h0m.1-1.7h0m0-.2h0m.1 2.4h0m.2-3.6h0m.1 .6h0m0 1.5h0m0-.6h0m0-2h0m.1 .6h0m.1-.9h0m0 1.3h0m0 1.6h0m.1-4h0m0 5.6h0m0 2.1h0m0-3.6h0m.1-2.6h0m0 .8h0m0 2.8h0m.1-4.1h0m.1-.1h0m.1 1.1h0m.1 4.3h0m0-4.5h0m0 3.4h0m.1-4.1h0m.1-1h0m0 2.8h0m.1-.2h0m0 .6h0m.1-1.8h0m0 .5h0m.1 1h0m0-.3h0m.1-3.7h0m0 3.2h0m.2 4.5h0m0-1.9h0m0 .9h0m0-4.1h0m.1 .4h0m0-.4h0m0 2.3h0m.2 .6h0m.1-3.1h0m0 2.7h0m.1 2.6h0m0-4.8h0m0 0h0m0-.7h0m.1 4.3h0m0-5.5h0m.1 3.7h0m0-.6h0m.1 1h0m0-3.1h0m.2 4h0m0-1.9h0m.1 3.8h0m0-7.6h0m0 2.5h0m.1 .1h0m.2 .3h0m0 .9h0m.1 2.2h0m.1-.2h0m0-1.5h0m.2-.6h0m0-.2h0m0-.5h0m.1 2.7h0m0-2.2h0m0-1.5h0m0 4.3h0m.1-4.3h0m.1 .4h0m0 3.4h0m.1-3h0m.2 .1h0m.1 3.2h0m0-1.4h0m0-.3h0m.2-1.1h0m.1 .2h0m0-.5h0m0 1.2h0m.1-4.3h0m0 5.6h0m.2 1.6h0m0-2.3h0m.1-1h0m.1-1.3h0m0 .3h0m0-3h0m.1 5h0m0 .8h0m0-3.2h0m0 2.6h0m.1-1.1h0m0-2.6h0m.1 .2h0m0 .3h0m.1-2h0m0 3.2h0m0 .6h0m.1 2h0m.1-3.7h0m.1 0h0m.1-1.7h0m.1 2.7h0m.1 1.8h0m.1-1.6h0m0 1.4h0m.2-1h0m.1 1.8h0m0 .9h0m0-3.3h0m0 2.2h0m.1 3.5h0m.1-5.6h0m.1 3.8h0m0-1.9h0m.1-1.8h0m0 .9h0m0-.8h0m.1 1.5h0m.1-.5h0m.1 .5h0m0-4.5h0m.1 5.1h0m.1-2.1h0m0 2h0m0-.4h0m.1 1.8h0m0-4.6h0m.1 1.2h0m.2-2h0m0 4.8h0m0-3.6h0m.1 1.7h0m0-1.8h0m.1 2.8h0m.1-.4h0m0-2.3h0m.1 5.1h0m.2-6.9h0m0 3.6h0m0 .7h0m0-2.4h0m0 2.1h0m.1-.5h0m0-2h0m0-1h0m.2 2.2h0m.2 .2h0m.1-3.4h0m0 6.1h0m0-3.4h0m0 2.5h0m.1-.3h0m0-1h0m.1 0h0m0 1.5h0m.1 .9h0m.1-.2h0m0-2.9h0m.1 3h0m.1-5.5h0m.1 1.9h0m.1 .7h0m.2-.4h0m0 .4h0m.1-2.3h0m0 1.1h0m.2 2.4h0m0-2.8h0m0 1.7h0m.1 .9h0m0 .5h0m.1 .4h0m0-1.2h0m.1-2.7h0m0 3.1h0m.1 3.5h0m0-1.5h0m.1 1.9h0m0-6.2h0m.2-.8h0m.1 4.2h0m0-.9h0m0 1.9h0m.1-6.1h0m0 .3h0m.2 4.7h0m.1-.4h0m0-3.4h0m0 1.9h0m.1 .1h0m0 2.4h0m.1-2.9h0m0-1.5h0m.2 6.2h0m.1-4h0m0-.7h0m0 1.5h0m0-1.9h0m0 1.3h0m0 2.8h0m.1 .2h0m0-.6h0m0-3.6h0m0 4.8h0m0-4.8h0m0 3.7h0m.2-3.7h0m.1-.7h0m.1 3.5h0m0-.4h0m.1-2h0m0-2.1h0m0-1.2h0m.1 2.2h0m0 .8h0m.2-1h0m.1 1.7h0m.1 1.4h0m0-4.1h0m.1 2.9h0m0-.8h0m.1 2.7h0m.1 1.1h0m.1-.6h0m.1 1.3h0m0-3.9h0m.1-.4h0m.2 1.9h0m.1 .2h0m.2-.7h0m0 1.2h0m.3-3.9h0m0-.1h0m.2 5.3h0m.2-1.1h0m0 .8h0m.1-.8h0m0-.4h0m0 .1h0m0 2.3h0m.1-4.3h0m0 .8h0m0 .4h0m.1 1.6h0m0-3.4h0m.1 .2h0m0 3.4h0m0-2.5h0m.2 2.3h0m0-4.6h0m.1 3.3h0m.1-1.1h0m0-1.7h0m0 .3h0m0 4.5h0m.1-2.1h0m.1-2.8h0m.2-2.3h0m0 5.5h0m.1-2.5h0m0 1.4h0m.1-3.1h0m0 6.5h0m.1 .2h0m0-5.4h0m.1 .2h0m0-.6h0m0 3.7h0m.1 .9h0m.2-.8h0m.1-.3h0m0-2.5h0m.1 4.7h0m0-3.2h0m0-4.2h0m.1 5h0m0 1.4h0m.1-4.6h0m0 1.5h0m0 .8h0m.2 2.2h0m.4-1.8h0m.1-3.3h0m.3 3.8h0m0-.8h0m0 1.2h0m.3-4.9h0m0-.3h0m.1 5.4h0m0-4.7h0m.1 4.4h0m0-4.7h0m.1 4.7h0m0-2.8h0m.1 .6h0m0 .1h0m.1 .3h0m.1-1.5h0m.1 4.1h0m0-5.6h0m0 4h0m0 1.2h0m.1-2.1h0m0 .3h0m.1-.8h0m.3-.5h0m0 3.4h0m.1-2.6h0m0 2h0m0-3.4h0m.1-.5h0m0 1h0m.2 .5h0m0 1h0m.1 3.3h0m.1-3.6h0m0-.7h0m0-2.9h0m0 .5h0m.1 6.7h0m0-2.7h0m.1-.1h0m0 .8h0m.4-.5h0m0-1.5h0m0 1.8h0m0-3.1h0m.1 .7h0m.3-2.3h0m0 4.2h0m.1-2.2h0m0-1.6h0m.1 4.2h0m0-4.4h0m0 3.4h0m.1 1.6h0m.1-2.6h0m0 .9h0m.1 .2h0m.1-1.2h0m0-.1h0m.1 2h0m.5-3.2h0m.4 2.1h0m.2 0h0m.1-.4h0m0 3.8h0m.1-4h0m0 .5h0m.1-.9h0m0 .4h0m0 2.8h0m0-1.3h0m.2-.9h0m0 1.7h0m.1 .1h0m0-3.5h0m0 3.3h0m.1-2.3h0m.1 1.6h0m0-2.4h0m.1 1.8h0m.4-1.4h0m0-2.9h0m0 4.1h0m0 .7h0m.1-4.2h0m0 3.9h0m.2 2.7h0m.1-2.1h0m0 1.5h0m0-4.1h0m.1 2.1h0m0-1.7h0m.2 .9h0m.2-3.4h0m.1 6.3h0m0-3.8h0m.1 1.7h0m.2-4.3h0m.2 4h0m0 1.8h0m0 .8h0m.1-3.1h0m.5-1.5h0m0 2.4h0m.1-2.1h0m.1 1.9h0m.3 1.6h0m0-4.4h0m.2-.2h0m.2 2.8h0m.2-.9h0m.1 .5h0m.2-1.2h0m.1 1h0m.1-1h0m.2-2.3h0m.1 3.7h0m0-1.3h0m.3 .9h0m.2 .8h0m0-.3h0m0-.2h0m.6-3.7h0m0 4.8h0m0-.5h0m.5-.2h0m.2-1.1h0m0-1.6h0m.1 2.6h0m.1 .9h0m.2-1.7h0m0-.1h0m0 1.2h0m.1-.2h0m.1-.2h0m.1 .2h0m0-2.7h0m.1 3.7h0m0-1.8h0m0-.5h0m0-1.3h0m0 .2h0m.2-1h0m.1 1.1h0m0 .5h0m.1-2h0m.1 2.9h0m.2 1.2h0m.1-.7h0m.1-1.2h0m.1 1.3h0m.5-2.2h0m.1 .4h0m.2-.5h0m.2 2h0m0-1.9h0m.2 1.2h0m.5-.9h0m.1 0h0m0 1.8h0m.2-.2h0m1.3-.1h0m.4 .4h0m2-4.8h0m2.5 1.2h0m2.6 4.3h0m2.9-1.7h0m2.2-3.8h0m1.6 3.8h0m.5 3.4h0m2.5-6.4h0m2.5 5.1h0m1.7-4.2h0m2.6-2.6h0m3.4 1.7h0m2.9 1.7h0" stroke="#00BFC4" stroke-width="3.7" stroke-linecap="round" fill="none"/>
</g>
<path d="M85.9 846.2v3M137.8 846.2v3M189.6 846.2v3M241.4 846.2v3M293.3 846.2v3M53.2 779.6h-3M53.2 675.9h-3M53.2 572.2h-3" stroke="#555" stroke-width="1" fill="none"/>
<rect x="403.2" y="505.2" width="250.3" height="340.8" fill="#EBEBEB"/>
<path d="M409.9 505.2V846M461.7 505.2V846M513.4 505.2V846M565.2 505.2V846M616.9 505.2V846M403.2 831.4H653.5M403.2 727.8H653.5M403.2 624H653.5M403.2 520.4H653.5" stroke="#FFFFFF" stroke-width="0.9" fill="none"/>
<path d="M435.8 505.2V846M487.6 505.2V846M539.3 505.2V846M591 505.2V846M642.8 505.2V846M403.2 779.6H653.5M403.2 675.9H653.5M403.2 572.2H653.5" stroke="#FFFFFF" stroke-width="1.6" fill="none"/>
<g clip-path="url(#clipd)">
<path d="M427.8 633.5h0m.6-1.3h0m.1-2.4h0m0 .6h0m.2 90.9h0m.3-90.3h0m.1 89.2h0m.2-90.6h0m.3 93.7h0m1-80.1h0m.3 81.7h0m0-.5h0m.3 2.1h0m0 1h0m.4-.2h0m.3-83.4h0m.2 84.3h0m.3 1.3h0m0-80.8h0m.5-9.5h0m0-17.9h0m.2 22.3h0m.1-.6h0m0 6.7h0m0 80.8h0m0-91.8h0m.1-.6h0m.2 1.9h0m0-6.2h0m0-13.5h0m.1 27.4h0m.1 2.3h0m.1-2.5h0m0-1.9h0m.1-9.9h0m.1 11.2h0m.1-4.6h0m0 90.8h0m.2-.4h0m0-83.6h0m.2-21.3h0m.2 16.9h0m.2 4.1h0m.2-1.6h0m.2-5h0m0 91.8h0m0-85.8h0m0-12.3h0m0 11.4h0m.1-16.5h0m0 11h0m.1 92.2h0m.2-82.9h0m.1-3.2h0m.1 0h0m.1-.6h0m.1-2.7h0m.1 1.6h0m.3 89.7h0m0-121.7h0m.1 25.2h0m.1 8.1h0m.3-6h0m0 4h0m.3 3.8h0m.3-4.6h0m0 .4h0m0-2.2h0m.1 8h0m0 52.8h0m0-56.4h0m.1-1.2h0m.1-39.6h0m0 98.6h0m.3-55.2h0m0 1.6h0m0 49.6h0m0-.7h0m0-1.2h0m.2-85.9h0m0 35.5h0m0-21.9h0m.1 75.5h0m0-2.8h0m0 5.1h0m.1-55.5h0m0-.7h0m.1-17.5h0m0 71h0m.3-55.1h0m0-2.3h0m.1 55.4h0m0-73.8h0m.1 80.2h0m0-60.6h0m.1-17.8h0m0 74.7h0m0-75.2h0m0 75.6h0m.3-54.3h0m0 49.5h0m0-57.5h0m.1 56.9h0m0-47.8h0m.2-32.8h0m.1-8.1h0m0 89.8h0m.2-3.2h0m0 0h0m.1 13.3h0m0-61h0m.1-1.3h0m.1 61.6h0m0-72.8h0m.2 16h0m.1 47.8h0m.2-.5h0m.1-3.7h0m0 5.3h0m.2-54.3h0m.1 56.5h0m0-54.8h0m0-5h0m.1-18.6h0m0 32.2h0m0-16.7h0m0 14.1h0m0-17.4h0m.1 11.4h0m0 5.7h0m0 42h0m0 8.1h0m0-57.5h0m.1 2h0m.2-1.6h0m.2 8.7h0m.1 45.4h0m0-45h0m.1 49.7h0m.1 .4h0m0-76.3h0m.1 20.8h0m0 48.5h0m0 2.9h0m.1-2.4h0m.1-43.5h0m.1 44.7h0m.4-2.9h0m0 1h0m.2 1.4h0m.1-40.8h0m.1 34.6h0m.1 46h0m0-34.2h0m0-53.8h0m0 43.3h0m.1-.1h0m0-50.3h0m.1 2.2h0m0 8.5h0m0 44.7h0m.1-43.2h0m0-6.2h0m.1-10.8h0m.1 56.7h0m0-64.4h0m.1 62.7h0m0-48.2h0m.2 51.8h0m.1 2.2h0m.1-7.1h0m0-45.9h0m0 49.7h0m.1-45.7h0m0-4.7h0m.1 50h0m0 4.5h0m0-59.5h0m0 61.2h0m.1-44.5h0m0 34.4h0m0 4.4h0m.1-41.6h0m.2 1.6h0m0-52.4h0m0 92.5h0m.1-2h0m0 .2h0m.2-81.8h0m0 85.2h0m0-2.7h0m0-60h0m.1 66.6h0m0-42.7h0m0-2.8h0m0-2.8h0m0 41.2h0m.1-35.6h0m.1-12.1h0m0-1.5h0m0 46.9h0m.3-91.8h0m0 91.9h0m0-55.2h0m.1 58.7h0m0-60.8h0m0 10.6h0m.1 7h0m.2 43.1h0m.1-43.7h0m0-15.4h0m.1 56.7h0m.2-2.8h0m0 6.5h0m.1-5.7h0m0 1.9h0m.3-35.8h0m0 45.9h0m.2-7.5h0m0 10.1h0m0-15.7h0m.1-32.5h0m0 31.4h0m.1-47.1h0m.3-32.6h0m0 41.5h0m.1 39.9h0m.1 10h0m.1-2.7h0m.1-44.8h0m.1 57.2h0m.2-53.8h0m.1 48.6h0m0-46.9h0m0-11.8h0m.1 9.2h0m0 3h0m0 34h0m.1-1.3h0m.1 6.8h0m.1-40.5h0m0 37.1h0m.1-5.5h0m.1 .9h0m0-70h0m.1 23.6h0m.1-1.1h0m0 14.4h0m0 56.3h0m.1-25h0m0 8.1h0m.1-4.2h0m.1 18.7h0m0-21.1h0m0 9.7h0m0-2.5h0m.1-57.7h0m0-24.9h0m.1 32h0m.1 51.4h0m0-37.1h0m.1 39.8h0m0-7.4h0m.2 11.5h0m0-8.9h0m.1 2.9h0m.1-54.8h0m.1 2.6h0m0 53.3h0m0-8.5h0m.1 9.2h0m.1-40.3h0m0-1.9h0m.1-16.5h0m.2 15.8h0m0-6.9h0m.1 5h0m.1 94.3h0m.1-102.7h0m0 10.4h0m.1-18.9h0m.1 17.5h0m0 50.4h0m0-17.5h0m.1 25h0m.1-24h0m0-39.3h0m.1 41.1h0m0-3.4h0m.1 5.8h0m0-36h0m.2 .1h0m.1 2.7h0m0-68.1h0m0 65.1h0m.1-16.5h0m0 50.3h0m.1-41.7h0m0-8.7h0m.1 2.7h0m.1-1.2h0m0 15.3h0m0-11.1h0m.1 9.6h0m.1-10h0m.1-2.2h0m0 60.2h0m0-18h0m.1-37.2h0m0 49.2h0m.1 1.1h0m0-54.4h0m0 11.1h0m.1 40.5h0m0 6.2h0m.1-83.9h0m0 33.3h0m.1 45.3h0m.1-41.3h0m0-4.5h0m.1 67.5h0m.3-31.6h0m.1 .9h0m0-41.5h0m0 47.4h0m.2-40.9h0m.1-4.8h0m0 48.8h0m.1-43.4h0m0 40.3h0m.1-33.6h0m0 54.1h0m0-89.8h0m0 22.7h0m.1 43.7h0m.1-36.6h0m0-19.6h0m0 14.6h0m0 43.6h0m.1-34.1h0m0-4.8h0m0-36.5h0m0 75h0m.1-34.2h0m.1-7h0m.1 45.1h0m.1 6.4h0m.1-43.3h0m.1-4.4h0m.1 47.1h0m0-51.9h0m0 38h0m.1-40.7h0m0 4.3h0m0 6h0m0 34h0m0-3.3h0m.1-38.4h0m.1 53.9h0m0-57.4h0m0 45.9h0m.1-35.4h0m0 33.8h0m.1-3.2h0m0-26.3h0m.1-10.3h0m0 38.4h0m0-45h0m0 74.1h0m.1-60.2h0m.2 30.8h0m.1-39.9h0m0 42.3h0m0-87.3h0m0 80.7h0m.1-75.6h0m0 88.2h0m0-44.1h0m0 45.1h0m.2-59.3h0m0 17.1h0m.1-2h0m0-29.2h0m0 60.4h0m0-43.6h0m.1 10.4h0m.2 36.9h0m.3-38.9h0m0 4.8h0m0 49.9h0m.1-53.2h0m0-24.7h0m0 33h0m0 44.5h0m.1-49.8h0m0 3.3h0m0-24.5h0m0 50.5h0m.1-29.3h0m0 36.3h0m.1-1h0m.1-4.3h0m0 1.1h0m.1 15.2h0m0-9.5h0m0-2.2h0m0-39.4h0m.1 4.7h0m0-15h0m.1 43.9h0m.1 9.9h0m0-58.6h0m.1 3h0m0 19.9h0m.1-13h0m.1-16.4h0m.1 79.9h0m.1-18h0m0-36.1h0m0 1.6h0m.1 37.8h0m0-35.6h0m0 27.8h0m0-31.1h0m.2 28.7h0m0 10.5h0m0-9.9h0m.1-33h0m0 36.8h0m0 6.7h0m.1 10.9h0m.1-12.3h0m0 30.1h0m.1-35.8h0m0 22.8h0m0-9.9h0m0 1.1h0m.2-71.3h0m0 56.8h0m0-60.6h0m.1 15.4h0m0 7.1h0m0-26.9h0m0 67.5h0m.1-35.8h0m0-4.2h0m0 1h0m0 34.3h0m.1 21.3h0m.1-53.3h0m.2 3.6h0m0-36.6h0m.1 24.6h0m.2-8.5h0m0 73.1h0m.3-25.5h0m.1 5.6h0m0-42.7h0m0 12.3h0m0 .9h0m0 35.5h0m.1-45h0m0 40.9h0m0-60.4h0m.1 22h0m.1-9.3h0m.1 50.2h0m.1-6.6h0m.1-25h0m0-4.5h0m0-14.5h0m.1 15.1h0m.1 28.8h0m.1-24.7h0m0-5.9h0m0-24.1h0m0 29.7h0m.1-9.5h0m0 42.8h0m0-33.9h0m.2 23.3h0m.2-30.6h0m.1 62.1h0m0-23h0m0-34.6h0m.1 24.2h0m0-30h0m.1 2.7h0m0 35.8h0m0 18.4h0m.1-18.9h0m.1-37.4h0m0 58.7h0m0-20.9h0m.1-50.8h0m.1 5.8h0m.1 16h0m.1-1.3h0m.1 .5h0m.1 1.3h0m0-10.7h0m0 41h0m.1-42.1h0m0 44h0m.1-53.9h0m0 42.9h0m.2-32h0m0-3.9h0m0 35.6h0m.1 14.9h0m.1-14.4h0m.1-24.4h0m.2 30h0m0-34.8h0m0 30.3h0m.1 7.9h0m0-8.1h0m.1 2.5h0m0 5.1h0m0-49.3h0m.1 16.6h0m0 103.1h0m0-70.9h0m0-5.3h0m0 15.7h0m.1-13.7h0m0-42.3h0m.1-26.4h0m.1 39.2h0m0-4.4h0m0 5.1h0m0 29h0m0-3.1h0m0-39.4h0m0 10.9h0m.1 73.5h0m0-76.2h0m0 5.4h0m.2-.4h0m0 26.7h0m.1 3.6h0m0-45.8h0m.1-14.5h0m0 54.8h0m.1-21.6h0m.1-21.5h0m.2 4.6h0m0 15.1h0m0-14.7h0m0 45h0m0-34.2h0m.1-2h0m.1-1.6h0m0 9.8h0m.1-23.9h0m.1 48.4h0m0-45.7h0m0 39.9h0m.1-37.3h0m0 57.4h0m0 32.7h0m.1-84.8h0m0 44.1h0m0 6.6h0m.1 18.8h0m0-68h0m0 75.7h0m.1-108.7h0m0-9.4h0m0 52.1h0m.1-.3h0m0 1.6h0m.1-20.7h0m.1 40.3h0m0-36.9h0m0 53.5h0m.1-42.7h0m0-41.5h0m0 17.1h0m.2 28.2h0m0-5.4h0m.1 8.9h0m0 23h0m.1-31.2h0m0 42.4h0m0-8.9h0m0 6.6h0m.1-37.9h0m0-2.5h0m.1 27.8h0m.1 20.3h0m0 8.4h0m0-61.2h0m.2-26h0m0 26.5h0m.1 7.5h0m0 30.3h0m0 8.1h0m0-2.9h0m0-63.2h0m0 86.3h0m.1 5h0m0-66.9h0m0 38.1h0m0-50.1h0m.1-6.1h0m0 51.6h0m0-40.3h0m0-6h0m.1 12.8h0m0 31.4h0m.1-56.8h0m0 21.9h0m.1 42.6h0m0-31.1h0m0 22h0m0 1.5h0m.1-32.2h0m.1 7.7h0m.1-13.5h0m0 2.2h0m.1 10.8h0m0 .8h0m.1 44h0m0-71.8h0m0 17.3h0m.1 46h0m.1-3.2h0m0 .2h0m.1-32.5h0m.2 19.4h0m0 28.3h0m.1-26.8h0m0 2.7h0m0 5.4h0m.1-9.4h0m0-25.8h0m.1 26.1h0m.1 1h0m.1 16.1h0m.1-76h0m0 39.4h0m.1 32.5h0m0-12.5h0m0-37.7h0m0-34.3h0m.1 30.2h0m.3 54.3h0m0-6.9h0m0 1.8h0m.1 30.5h0m0-56.7h0m0 34.6h0m.1-36h0m0 41h0m.3-17.9h0m0 8.9h0m.2 6.6h0m0 18.9h0m.1-24.6h0m0-33.7h0m.1-6.4h0m0 8.9h0m.1 27.1h0m0 2.1h0m0-35.7h0m.1-9.7h0m0 36.8h0m0-28h0m.1 38.4h0m0-95.2h0m.1 95.5h0m.1-37.9h0m.1 34.2h0m.1-50.9h0m0 58.3h0m.1-6.3h0m.1 28.3h0m.1-58.3h0m0-20.5h0m0 50.6h0m.1 2.5h0m0-39.5h0m0 26.3h0m.1 3.7h0m0-39h0m.1 6.3h0m0 31.3h0m.3 1.4h0m.1-23.3h0m0-10.2h0m0 1.2h0m0 32h0m0 27.3h0m0-94.4h0m0 34.5h0m.1 37.3h0m.2 9.1h0m0-48.6h0m.2 5h0m0 42.6h0m0-11.1h0m.1-41.8h0m.1-8.2h0m.1 47.5h0m.1 12.5h0m.1 2.8h0m0-11.1h0m0-35.7h0m.3 7.6h0m0 34.8h0m.1-11.6h0m.1 40h0m0-72.3h0m0 10.7h0m0-12.7h0m0 3.1h0m.1 41.9h0m0-11.9h0m0 58.2h0m0-52.5h0m.1 11.2h0m.3-10.1h0m.1-45.4h0m0 7.4h0m0 6.7h0m.1 27.4h0m0-21.8h0m.2 26.3h0m0-33.3h0m0-.2h0m.1 3.3h0m0 24.4h0m.1-22.5h0m0 1h0m.1 24.7h0m.1-67.9h0m0 63.9h0m0 9.8h0m.1 8.7h0m0-48.6h0m.1 27.6h0m0 31.6h0m0-13.4h0m.1-79.7h0m0 69.2h0m0-.1h0m0-30.9h0m.1 55.5h0m0-10.5h0m.1 5.2h0m0-1.5h0m0-72.5h0m.1 50.3h0m0 34.4h0m0-72.9h0m.1 39h0m0 3.3h0m0-37.8h0m0 2.2h0m.1 40h0m0-60.1h0m.1 24.4h0m.1 30.2h0m0-35.6h0m.1 9.2h0m0-.6h0m.1 31.3h0m.1-26.4h0m0-68.6h0m0 65.2h0m0-5.2h0m.2 40.7h0m.1-1.4h0m0 5.5h0m0-9.7h0m.1-4.5h0m0 33.5h0m0-58.1h0m.1-81.5h0m.1 20.5h0m.1 36.4h0m0 48.6h0m0-2.2h0m0-20.8h0m0 27h0m.1-48.1h0m0 17.9h0m0-23.4h0m.2 67h0m.1-53.9h0m0 7.9h0m0-3h0m0 27.3h0m.1-18.9h0m0 46h0m.1-49.5h0m0 22.5h0m0-36h0m.1 12.7h0m0-3.8h0m0 81h0m.1-82.4h0m.1 6.6h0m0-17.4h0m0 8.4h0m.1 86.7h0m0-86.1h0m.1 2.6h0m0-8h0m0-6.7h0m.4 14.4h0m0-6h0m0 51.8h0m.1-50.5h0m0 32.2h0m.1-24.1h0m0 1.7h0m.1 83.9h0m0-86.2h0m.1 57.9h0m0 17.7h0m0-6.3h0m0-37h0m.2-5.3h0m0 1h0m0-32.6h0m.1 42.4h0m0 9.4h0m0-24.4h0m.1 15.2h0m.1-11.9h0m0-37.8h0m.1 39.1h0m0-36.7h0m.1-10.8h0m0 10.8h0m.1 50.6h0m0-44.5h0m.1 27.4h0m.1-17.2h0m0 31.2h0m.1-5.3h0m0-37.9h0m0-5.5h0m.1 35.3h0m.1-22.8h0m0 31.8h0m0 16.9h0m0-58.2h0m0 34.2h0m0 6.4h0m0-28.5h0m.1 2.7h0m0 38h0m0-22.7h0m.1-27.1h0m0 28.6h0m0-26h0m0 46.6h0m.1-4.2h0m0-11.1h0m0 22.1h0m0-49.9h0m.1-.9h0m0 45.2h0m0-21.1h0m0 21.1h0m.3-19.1h0m0-42.4h0m0 44.3h0m0 18.1h0m.1-17h0m0-38.8h0m0 15.5h0m0 35.4h0m0 29.5h0m.1-133h0m.1 89.2h0m0 3.3h0m0-45h0m.1 21.9h0m.1 48.9h0m0-16.7h0m.1-10.4h0m.1-65.8h0m0 26.5h0m0 10.9h0m.1 29.1h0m0 4.3h0m.1 3.5h0m0 11.4h0m0 6h0m0-50.3h0m.1 24.5h0m0 1.2h0m.2-34h0m.1 11.2h0m0-28.8h0m0 21.4h0m.1-.7h0m0 38.1h0m0 9h0m.1-41h0m.1-2.1h0m0 1.4h0m.1-1.9h0m0 27.4h0m.1-31.3h0m0 35.9h0m.1-43.9h0m.1 47.6h0m.1-1.3h0m0-30.9h0m.1 30.6h0m.1-36.9h0m.1-7h0m0-1.9h0m0-14.9h0m0 10.3h0m0 17.6h0m.1 1.2h0m0 20.2h0m0-33.4h0m.1 38.6h0m0 1h0m.1-29.7h0m0 22h0m.2 35.5h0m0-56.3h0m0 3.7h0m0-8.3h0m.1 3.7h0m0-13.5h0m.1 36.9h0m.2-64.3h0m.1 63h0m0 .2h0m.1-25.3h0m.1 32.6h0m.1-37.8h0m0 32.3h0m0-28.7h0m.1 3.6h0m0-24.7h0m0 52.6h0m.1-23.6h0m0-12.1h0m.1 97.2h0m.1-96.9h0m0 49.6h0m.1-110.1h0m.1 53.8h0m0 48.3h0m.1 10.7h0m.1-97.8h0m0 81.3h0m.1-4.6h0m.1-44.7h0m0 20.3h0m0-8.4h0m.1 30.1h0m0 9h0m.1-52.6h0m0 53.1h0m0-29.5h0m0 21.2h0m.1 44.1h0m0-38.6h0m.2 10.1h0m0 .4h0m0-2.7h0m0-47.2h0m0-7h0m0 52.2h0m.1 18.2h0m0-22.3h0m0-39.2h0m.1 49.3h0m0 31.2h0m0-31.7h0m.1-12h0m.1-50.1h0m0 21.6h0m0 39.4h0m.3 11.1h0m0-20.7h0m.2 7.7h0m0 8.8h0m0-41.5h0m.1-4.4h0m.2 1.5h0m0-9.7h0m.1 12h0m.1 1.6h0m0-9.6h0m.1 30h0m.1-21.8h0m0 2.2h0m0-51.4h0m.2 15.9h0m0 2.6h0m0 7.5h0m0 53.1h0m0-48.8h0m0 16.9h0m.1-29.7h0m0 34.7h0m0 22.4h0m0-2.9h0m.1-25.1h0m0-11h0m0 12.5h0m0-9.4h0m0 8.5h0m0-54.6h0m.1 77.1h0m0-40.6h0m.1 38.5h0m0-29.6h0m0 89h0m0-161.1h0m.1 77.2h0m0 39.8h0m0-54.7h0m.3 20h0m0 0h0m.2-.4h0m.1 5.5h0m0-3.3h0m0-12.3h0m0 30h0m.1-21.8h0m0 32.6h0m0-8.8h0m0-18.7h0m0 26.2h0m.1-4.4h0m0 1.7h0m0-1h0m0-25.8h0m.1-16.3h0m0-12.2h0m.1 21.4h0m.1 11.6h0m0 33.5h0m.2-14.3h0m.1 9h0m.1-45.1h0m0 35.7h0m.1-23.4h0m0-5.9h0m.1 9h0m0-20.3h0m0 22.7h0m.1 15.4h0m.1 16.5h0m.2 6.5h0m0-51.8h0m.2 46.2h0m.1-16.7h0m.1 36.4h0m0-71.9h0m0 32.9h0m0-14.8h0m.1 36.5h0m0-52.8h0m0-4.3h0m.1 7.4h0m.1 32.4h0m0-78.9h0m0 60.5h0m0 53.8h0m.1-65h0m.2 5.7h0m0 32.7h0m0-51.4h0m.1 .1h0m0 58.4h0m.1-63.6h0m0 5.9h0m0 22.1h0m.1-15.7h0m0 16.3h0m.3 16.2h0m.2-22.7h0m0-7.8h0m0 9.4h0m.3-15.6h0m0 101.2h0m0-92h0m.1 39.1h0m0-50.6h0m.1 50.2h0m0-39.2h0m0 40.7h0m.1-34.6h0m.1-11.1h0m0 78h0m.1-88.6h0m0-9.6h0m0 59.4h0m0-35.8h0m.1 30.1h0m0 26h0m.1 23.4h0m.1-76.9h0m0 5.7h0m0 24.3h0m0-25.8h0m.1 5h0m.1-6h0m0 31.6h0m0-50.2h0m.1 23.3h0m0 20.9h0m.1-55.1h0m0 34.5h0m.1-4.1h0m.1-5.6h0m.2 .5h0m.1 1h0m.1 76.5h0m0-76.1h0m0 3.6h0m0-26h0m0 30.2h0m.1 17h0m0-15.3h0m0-9.9h0m.1 34.1h0m0-38.1h0m.1 77.8h0m0-81.2h0m.1-5.3h0m.1 7.7h0m0 37.5h0m.1-40.3h0m0 4.9h0m0 12.5h0m0 27.1h0m.2-2.1h0m.3 21.5h0m0-26.9h0m.1-17.7h0m0-27.8h0m.1 26h0m.1-15.4h0m0-61.5h0m0 105.7h0m0-49.3h0m.1 21.7h0m0-7.1h0m.1-5.5h0m.1-52.4h0m0 84.1h0m.1 9h0m0-48.3h0m.1-3.1h0m0 59.4h0m0-45.7h0m.1-6h0m0 38.1h0m.1 110.7h0m.1-117.7h0m0 15.8h0m.1-43h0m.2 7.8h0m0 21.8h0m0 4.2h0m0-22.8h0m0-12.6h0m.1 44.7h0m.1-11h0m0 .9h0m.1 2.2h0m0-22.8h0m.1-9.5h0m.1 4.8h0m.1 20.7h0m.1-18.2h0m0 .7h0m0 40.2h0m.1-14.4h0m0-47h0m0 9h0m.1-3.4h0m0 11.2h0m.1-11.7h0m0 7.2h0m0 6.1h0m.1-3.6h0m0 59.3h0m0-92.7h0m0 26.9h0m.1 12.8h0m0-23.1h0m0 56h0m0-48.1h0m.1-23.7h0m0 72.6h0m0-4.2h0m.1-58.9h0m0 20.3h0m.1 .3h0m0 26.5h0m0 56.2h0m.1-96.4h0m0 18.8h0m0 3.9h0m.2 2.1h0m.1 26h0m0-59h0m.1 53.5h0m0-37.5h0m0 9.8h0m.1-7.3h0m.1 5.5h0m0 33.2h0m0 19.6h0m.1-53.9h0m0-.5h0m.1 29.3h0m.1-33.8h0m.3 14.8h0m0 19.8h0m0-22.6h0m.5 86.1h0m0-91h0m0-25.8h0m.1 22.9h0m0 1.7h0m.1 25.3h0m.2-38.4h0m.1 60.8h0m0-18.1h0m.1-106.9h0m0 78h0m.2-4.8h0m0-.1h0m.1 11.4h0m0-11.4h0m.1-.8h0m0 43.1h0m0-36.9h0m.1-2.2h0m0 85.6h0m.1-56h0m0 1h0m.1-4.1h0m.1 26.1h0m.1-25.8h0m.1 12.2h0m0 .2h0m.1-39.1h0m0 39.2h0m0-58.5h0m.1 11.1h0m0 15.9h0m0 19.1h0m0-1.5h0m.2 13.9h0m.1-50.4h0m0 42.4h0m.1-20.6h0m.1-6.9h0m.1-4.4h0m.1 26.2h0m0-25.2h0m.1-1.6h0m0 7h0m0-.9h0m.1 47.5h0m.1-55h0m0 29.3h0m0-18.4h0m.2 38.6h0m0-8.6h0m.1-31h0m.1 .6h0m0 21.6h0m0-22.4h0m.1 3.1h0m.1 17h0m0-41.5h0m.1 43.7h0m0-18.8h0m.2 28.1h0m0 8.6h0m.1-49.1h0m0-19.5h0m.1 58.3h0m0-3.7h0m0-88.9h0m0 40.9h0m0 2.4h0m.1 86.7h0m0-78.2h0m0-2.2h0m.1-1h0m0 36.1h0m0-3.5h0m0-19.4h0m0 .6h0m.1-21.5h0m.2-10.1h0m.2 13.8h0m0 41h0m.1 9.2h0m0-31.1h0m0-10h0m0 10.4h0m0 18.7h0m0-2.6h0m.1 8.5h0m0 39h0m.1-32.5h0m.2-34.7h0m0 20h0m0-14.2h0m.1-4.3h0m0 19.2h0m.1-26.1h0m0 10.1h0m0 36h0m.1-5.4h0m.1-43.2h0m.1 3.1h0m.1 34.9h0m.1-12.2h0m0 9.6h0m0 6.9h0m0-36.6h0m.1 33.9h0m.1-1.4h0m.1-28.7h0m0 25.2h0m.1-4.2h0m.1-45.2h0m0 44h0m.1-19.2h0m.2 24.7h0m0-23.1h0m0-18.5h0m0-5h0m.2 39.6h0m.1 3.8h0m0-27.8h0m.1 4.6h0m.1 47.6h0m0-45.7h0m0-23.8h0m.2 76.6h0m0-71.9h0m.2 35.7h0m.1 1.5h0m.1-60.2h0m.1 41.7h0m0 18h0m.1-53.1h0m.1 73.1h0m.1-54.6h0m0 33h0m0-14.3h0m.1 .1h0m0 24.4h0m0-1.8h0m.1 3.5h0m.4-29.7h0m0-10.7h0m.1 2.8h0m.1 1.6h0m0-57.6h0m0 91.5h0m.1-52.8h0m0-21.5h0m0 126.5h0m0-49.2h0m.1-35.4h0m0 39.8h0m.2-1.8h0m0-11.7h0m0 26.8h0m.2-22.2h0m0-21h0m.1 114.8h0m0-89.3h0m.1 .9h0m.1-7h0m.2-2.1h0m.1-20.8h0m.1-3.8h0m.3 3.8h0m0 16.2h0m0 5.3h0m0-20h0m.1 31.5h0m0-73.8h0m.1 36h0m0-22.7h0m.3 45.8h0m0-30.2h0m0 2.7h0m0 31h0m.1-25.4h0m.1 37.4h0m.1-11.3h0m.1-.4h0m.1-2.6h0m.1 21.2h0m.1-49.7h0m0-6.2h0m0 5.3h0m.1 97.4h0m0-59h0m.1-43.6h0m.1 18.6h0m0 36.3h0m0-41.8h0m0 26.1h0m0 2.4h0m.1 17.3h0m.2-24.3h0m.2-17.7h0m.2-7.1h0m0 32.4h0m0 15.7h0m.2-22.6h0m.1-17.5h0m0-34.1h0m0 24.6h0m0 41.2h0m.1-17.2h0m0-34.2h0m0 44.1h0m.1-36.5h0m.1 28h0m0-21.7h0m0 6.2h0m0-7.4h0m.1 1.4h0m0-11.2h0m.1 4.3h0m.1 29.4h0m0-21.8h0m0-3.8h0m0 29.2h0m.1-33.6h0m0-.5h0m0 43.5h0m0-38.5h0m0 36.1h0m.2 21.1h0m0-49h0m.1 25.3h0m.4-45.7h0m0 36.5h0m0 12.4h0m0-40.3h0m.1-30.2h0m0 64.5h0m.1 2.4h0m0-31h0m.1-8.8h0m.2 12.9h0m.1 .9h0m.1 .8h0m0 1.5h0m.1 12.8h0m0-21.8h0m.1 23.7h0m.2-62h0m0 44.7h0m0-1.6h0m.1 31.5h0m.1-7.5h0m.1-2.4h0m.2 3.7h0m.1 25.8h0m0-47.4h0m0-2.2h0m.1-16.4h0m0 84.5h0m0-47.5h0m0-19.8h0m.1-2.6h0m.2-4.9h0m.1-1.3h0m.2 3.6h0m0-8.1h0m.1 39.6h0m0 2.6h0m.2-7.4h0m0-39.2h0m.1 38.3h0m.1-33.4h0m0 2.9h0m.1 8.9h0m0-18.6h0m.1 40.1h0m.1-41.3h0m0 41.3h0m0-24h0m.1-8.2h0m0 28.4h0m0 13.5h0m.2-4.9h0m0-7.1h0m0 10h0m0-40.8h0m.1-2.5h0m0 32.7h0m.1-29.7h0m.1 31.2h0m0-25.6h0m0 39.2h0m.2-17.6h0m.2 19.8h0m0-46.4h0m.1-7.1h0m0 16.3h0m.1 17.7h0m.2-21h0m0-17.8h0m.2 52.9h0m.1-44.7h0m0 16.7h0m.1-21.3h0m.1 18.1h0m0 38.6h0m.1-22.3h0m0 96.3h0m0-220.3h0m.1 107.2h0m.1-.5h0m0 22.3h0m0 56.2h0m0-60.8h0m.1 13.6h0m.1 5.3h0m.1-41.8h0m0 10.4h0m0 39.6h0m0-47.5h0m0-.7h0m.1-12.8h0m0 10.3h0m.1 35.1h0m.1-10.3h0m.2 14.2h0m.3-69.5h0m.1 55.7h0m0 15.1h0m0-13.9h0m.2-76.2h0m0 82.1h0m.1-8.2h0m.1 107.9h0m.3-106.2h0m.1-43.9h0m0 44.7h0m0 4.7h0m.2-24.8h0m.2-6h0m0 25.5h0m.1-19.4h0m0 18.3h0m0-33.1h0m.2 .3h0m0 17h0m.1 36.1h0m0-66.5h0m.2 50.7h0m0 15.5h0m.2-22.6h0m0 5.3h0m.3-47.8h0m0 17h0m.1 14h0m.1 .1h0m0 11.8h0m.1-15.8h0m0-8.6h0m.1-2.1h0m0-4.5h0m0-31.5h0m0 42h0m.2-31h0m.1 35.6h0m.1-11h0m.1 11.4h0m0 1.6h0m.1 22.7h0m.1-45.8h0m.1 50.9h0m0-10.6h0m0-43.2h0m.3 24.4h0m0-16.7h0m.5 17.4h0m.2 24.3h0m.1 18h0m0-47.8h0m.2-8h0m0 .2h0m.1-11.4h0m0 39.3h0m0 8.2h0m.3-23.8h0m.1 21.2h0m0-22.2h0m.2 .4h0m0-5h0m.2 36.7h0m0 22h0m.1-71.7h0m0 1.9h0m0 127.5h0m0-190.5h0m0-30.8h0m.1 137.5h0m0 1.2h0m.2-69.3h0m0 33.1h0m.2 10.7h0m0-11h0m.1-19.8h0m.1 67.1h0m.1-18.3h0m.1-33.3h0m0 31.5h0m.1-16.1h0m.1 24h0m0-9.1h0m.3 7.6h0m0 25h0m0-48h0m.2-4.1h0m.2-91.5h0m0 113.2h0m.1-40.1h0m.1-38.5h0m.2 50.5h0m0 37.1h0m0-4.3h0m.1 15.2h0m.1-52.8h0m.1 8.2h0m0-7h0m0 33h0m0-30h0m.1 39.5h0m0-31.8h0m.1 18.3h0m0-19.1h0m0 18.2h0m.1-39.2h0m.1-12.3h0m0 14.7h0m0 14.8h0m.1 33.4h0m.3-24h0m.3 34.9h0m0-92h0m.1 92.4h0m0-42.7h0m0 22.5h0m.2-3.5h0m.1 2.4h0m0 12.5h0m.1-27.2h0m.2 17.9h0m0 1.5h0m0-47.9h0m.1 41.2h0m0 6h0m.3 8.8h0m.2-13.3h0m.3 8.6h0m.1-25.1h0m.1 15.4h0m0 4.7h0m0-26.7h0m.1 6h0m.1-17.3h0m.2 20.4h0m0-.5h0m.2-33.3h0m.4 27.8h0m.1 32h0m0-12.6h0m.1-43.7h0m0 5.4h0m.1 44.9h0m.2-4.5h0m0 4.1h0m.1-24.4h0m0 19.1h0m.1-19.8h0m.1 40.8h0m.1-46.8h0m0 1.7h0m.1-18h0m0 95.4h0m.1-52.3h0m0-18h0m.2-4.6h0m.1-10.2h0m.1 17.1h0m.1 38.7h0m.1-47.1h0m.1 27.7h0m.1 13.3h0m.1-44.7h0m0 12.8h0m.1 26.8h0m0-66.6h0m0 54.7h0m.2 57.3h0m.2-94.5h0m0-98.9h0m.1 139.4h0m.1-17.4h0m.2 13h0m.1 3.1h0m0-33.9h0m0 12.3h0m.1 47.5h0m0-49.3h0m.1 22.1h0m0-20.4h0m.1 76.3h0m.1-57h0m0 0h0m.1-27h0m0 7.4h0m.1 63h0m.2-83h0m0 26.3h0m.1-1.2h0m.2 2.1h0m.1 11.1h0m.1-26.4h0m.1 15.2h0m.1-11.3h0m0 32.1h0m.1-10.7h0m0 1.7h0m.1 9.6h0m.2-23.6h0m0-.5h0m.4 11.8h0m0-81h0m.1 81.3h0m.1-8.6h0m.2 14.2h0m0-18.5h0m0 46.9h0m.1-44h0m0 .3h0m.2-.4h0m0 13.1h0m.1-18.6h0m.1 18h0m.2-95.9h0m.1 83.2h0m.1-67.9h0m.2 68.1h0m.2 .5h0m.4-3.7h0m.2 4h0m.2 7.3h0m0-13h0m.1 16.3h0m0-12.6h0m.1-11.6h0m.1 14.5h0m0-2.3h0m.1 13.9h0m.2-.3h0m.4-5h0m0-8.8h0m.1 8.8h0m0 .3h0m.1 11.8h0m.2-8.4h0m.2-11.4h0m.1 8.5h0m0 1.3h0m.2-1.7h0m.9 1h0m.1-7.7h0m0 5.4h0m.3-20.6h0m.3-4.8h0m0 20.7h0m.2 68.7h0m.1-48.5h0m.2-11.8h0m0-2.2h0m.2-11.5h0m0 9.6h0m.1-14.7h0m.4 6.1h0m1 3.6h0m0 14.1h0m0-22h0m0 12.7h0m.1-63.5h0m.2 71.1h0m1.1-84h0m.1 78.4h0m0 13.2h0m.3 14.1h0m.5-25.7h0m.3-15h0m.4 21h0m1.7-10.2h0m1.5-7.2h0m2.7-13.3h0m.4-17h0m.1 72.4h0m0-110.3h0m1.1-21.5h0m.1 81.8h0m.8 10.2h0m2.5 16.1h0m2.8-24.8h0m1 47.7h0m0-49.8h0m5.2-9.6h0m.9 .6h0m.9 13.3h0m6.5 74.5h0m2-107h0m1.1 26.5h0m.8 .6h0" stroke="#F8766D" stroke-width="3.7" stroke-linecap="round" fill="none"/>
<path d="M422.5 681.7h0m0-3.2h0m0-12.3h0m.1 14.1h0m.2-15.1h0m.1 0h0m0 10.6h0m.1-.2h0m0-14.1h0m0 .3h0m0 15h0m.2-6.3h0m0 14.8h0m.1-30.1h0m0 11h0m.1-5h0m.1 30.1h0m0-3.8h0m0-8.5h0m0 3.9h0m0 12.2h0m0 3.8h0m0-43.5h0m.1 28h0m0-26.9h0m0 35.6h0m0-38h0m.1 39.1h0m.1-36.5h0m0-5.3h0m.1 .6h0m.2-2.8h0m.2 25.7h0m.1 .1h0m.1 30h0m.2 .9h0m0-62.6h0m0 62.9h0m.1-.8h0m0-59.2h0m.6 59.7h0m.8 7.4h0m.1-3h0m0-70.9h0m.2 36.2h0m.1-37h0m0-.8h0m.1 .4h0m0 76.1h0m.2 1.6h0m0-.5h0m.4 3h0m1.2-39.5h0m.1-12.1h0m0 12.6h0m.1-11.1h0m0-5.8h0m.1 14.7h0m.1-7.4h0m.1-4.8h0m.1-4.4h0m.1-6.3h0m.1 15.7h0m.1 13.9h0m0-14.5h0m.1 3.6h0m0 10h0m.1-13.9h0m0 9.3h0m.1-17.1h0m0 13.1h0m0-11.3h0m0-1.8h0m.1 .1h0m.1 25.8h0m0-8.2h0m0-10.6h0m0 11h0m.1-8h0m0-6.7h0m0 12.2h0m0-3.8h0m.1 6.9h0m0-12.5h0m0 4.7h0m0-.7h0m0-23.5h0m0 25h0m0 12h0m.1-3.2h0m0 1h0m0-5.9h0m.1 4.8h0m0-8.8h0m0-1.4h0m.2 4.2h0m0 1.1h0m0-18.3h0m0 12.9h0m.1-23h0m0 22.3h0m0 18.5h0m.1-19.5h0m0-1h0m0-2.3h0m0 12.6h0m.1-10.1h0m0 20.2h0m.1-7.7h0m.1-16.5h0m0 7.1h0m.1 15.7h0m0-38.4h0m0 11.9h0m.1-3.5h0m0 5.7h0m.1-7.3h0m0 10.2h0m0 12.4h0m0-20.9h0m.1 32.9h0m0-9.9h0m0-6.3h0m.1-8.8h0m0 14.2h0m0 11h0m0-2.3h0m.1-20.5h0m0-1.2h0m0 4h0m0-10.6h0m.1 4.1h0m0 7.4h0m0-1.4h0m.1 .3h0m0-21.2h0m0 7.3h0m.1 35.1h0m0-40.8h0m0 20.4h0m.1 2.9h0m0 9.7h0m0 2.3h0m0 4.5h0m.1-34.8h0m.1 34.1h0m0-22.7h0m0 14.1h0m0-5.9h0m.1-4.3h0m0-3.3h0m.1 22h0m0-34.9h0m0 30.8h0m0 6.6h0m0-11.4h0m.1-8.9h0m0 18h0m.1-2.4h0m0 5.4h0m.1-3.1h0m0-12.7h0m0 3.1h0m.1 15.2h0m0-27.4h0m0 6.6h0m0 22.7h0m.1-34.2h0m0 12h0m.1-3.7h0m0-5h0m0 11.7h0m0-17.9h0m0 .3h0m0-1.1h0m.1-7.4h0m0 31.9h0m0-16.2h0m0 16.8h0m0-14.1h0m0 8.1h0m.1 11.8h0m0 5.9h0m0-37.3h0m0 6h0m0-10.9h0m0 8.7h0m.1 7.2h0m0-14.5h0m0 38h0m0-6.1h0m.1-19h0m0 27.2h0m0-15.1h0m.1-18.5h0m0 11.7h0m0 8.6h0m0-6h0m0 16h0m.1 2.9h0m0-25.7h0m0 11.4h0m.1-5.1h0m0-.9h0m0-2.3h0m0 .9h0m.1-16.6h0m.1 12.5h0m0 16.1h0m.1-14.5h0m0 20.2h0m0-14.2h0m0 3.6h0m.1-8.2h0m0 23.9h0m.1-26h0m0 5.2h0m0-6.5h0m0 7.4h0m.1 5.7h0m0-10.5h0m0 21.2h0m0-19.9h0m0 8.1h0m0-4.6h0m.1 14.5h0m.1-19.4h0m0-14.2h0m0 13.4h0m0 4.1h0m0-13.5h0m.1 22.7h0m0 9.7h0m0-24h0m.1-13.7h0m0 30.8h0m0-14.2h0m0 19.3h0m0-26h0m.1 19.3h0m0-23.3h0m.1 2.9h0m0 21.1h0m.1-28.3h0m0 24.8h0m0-5.3h0m0 11.3h0m0 6.3h0m0-21.9h0m.1 22.5h0m0 5.1h0m0-22.7h0m.1 6h0m0-4.5h0m.1-13.3h0m0 16.8h0m0-18.7h0m0-5.5h0m0 6.8h0m.1-1.3h0m0 6.7h0m0 2.4h0m0-16.9h0m0 31.1h0m.1-24.6h0m0 40.4h0m0-36.8h0m0-3.9h0m0 22.9h0m0-11.7h0m.1 .8h0m0-14.5h0m.1 21.3h0m0 2.7h0m0 .9h0m.1-6.8h0m0-8.7h0m0-6.5h0m.1 25.6h0m0-17.1h0m.1-9.2h0m0 1.5h0m0-10.6h0m.1 33h0m0-21.6h0m0 15.2h0m.1-9.2h0m0 7.7h0m.1-10.7h0m0 17.9h0m.1 5.9h0m0 6.3h0m0-.6h0m.1-15h0m0-18.2h0m0 9.1h0m0-2.5h0m.1-9.1h0m.1 18.1h0m0-1.1h0m0 2.4h0m0-9.3h0m0 20.2h0m.1-29.4h0m0 18.6h0m0-3.5h0m.1-5.6h0m0-6.2h0m0 27.6h0m0-8.8h0m.1-3.3h0m0-1.9h0m0 .7h0m.1-15.4h0m0 20h0m0-4.5h0m.1 .7h0m.3-6.5h0m0-19.7h0m0 0h0m.1 41.6h0m.1-26.3h0m0-11.3h0m0 31.3h0m.1 2.9h0m0-28.7h0m.1 3.8h0m0 27.7h0m0-25.3h0m.1 14.5h0m0-18.9h0m0 2.4h0m0 2.4h0m.1 15.3h0m0-14h0m0-2.6h0m0 23.6h0m0-37.9h0m0 37.8h0m0-22.5h0m0-3.6h0m0 12.9h0m.1 5.3h0m0-11.1h0m.1 6h0m0 3.4h0m0-5.3h0m0-5h0m.1-1.6h0m0 20h0m.1-29h0m0-5h0m0 12.5h0m0 8h0m.1-12.8h0m0 10.2h0m0 5h0m0-1.4h0m.1 8h0m0 5.1h0m0 3.3h0m0-21.5h0m0 4.8h0m0 1.5h0m.1-2.8h0m0-15.8h0m.1 12.4h0m0 4.7h0m.1 10.9h0m0-24h0m0 15.4h0m.1-6.1h0m0 2.1h0m0-21h0m0 22h0m0 2.6h0m0-2.7h0m.1 10h0m0-10.5h0m0 5.2h0m0 8.3h0m0-24.1h0m0 21.9h0m0-12.8h0m.2-6.4h0m0 10.8h0m0 4.6h0m0-24.9h0m.1 12.4h0m0 5.7h0m0 16.3h0m0-11.5h0m.1-11.2h0m0 3.6h0m0-10.1h0m.1 9.3h0m0-6.8h0m0 19.5h0m.1-30.6h0m.1 7.2h0m0 16.2h0m0 12.7h0m.1-12.1h0m0-2.3h0m.1 1h0m0 4.5h0m0 2.7h0m0-9h0m.1-1.2h0m0-7.1h0m.1 5.4h0m0-14.3h0m0 17.5h0m.1-3.1h0m0-16.4h0m0 14.4h0m0 10.5h0m0-8.2h0m.1-7.2h0m0 16.9h0m0 6.3h0m.1-33.8h0m0 12.6h0m0 10.4h0m0-16.5h0m0 18h0m.1-7h0m0 4.6h0m.1-21.3h0m.1 24.8h0m0-12.7h0m0-12.6h0m0 16.7h0m.1-9.9h0m.1 19.7h0m0-14.9h0m0 15.5h0m0-1.6h0m.3-9h0m0 7.7h0m0-17.9h0m0 12.8h0m.1 15h0m0-28.6h0m0 21.7h0m0-24.5h0m0 15.7h0m0-6.9h0m.1 15.2h0m0-24.9h0m.1 11.9h0m0-11.1h0m0 26.4h0m0-4.6h0m0 8.5h0m.1-7.3h0m0-6.8h0m0 8h0m0-1.3h0m.1-1.5h0m0 3.4h0m.2-2.9h0m0-3.8h0m.1 14.5h0m0-14.4h0m0-7h0m.2 3.4h0m0-15.8h0m.1 5.5h0m0 20.7h0m0-6.5h0m0 4h0m.1-14.5h0m0-3.1h0m.1 15.2h0m0-4.4h0m0-5.3h0m0 16.5h0m.1-17.8h0m0 12.8h0m.1-22.7h0m0 31.1h0m0-15.1h0m0 2.9h0m.1-1.8h0m0-8h0m.1 1.9h0m0-3.5h0m.1 15.4h0m0 3.9h0m0-26.5h0m0 23h0m0-11.5h0m0 8.5h0m.1-2.8h0m0 5.8h0m0-2.2h0m0-19.9h0m0 15.9h0m0-9.7h0m0 14.4h0m0 3.3h0m0-11h0m.1 15.9h0m.1-11h0m.1 13.4h0m0-15.7h0m.1-9.9h0m0 20.7h0m0-25.6h0m.1 9.3h0m0 1.4h0m0 7h0m0 1.3h0m0-16.3h0m.1 13.5h0m0 9h0m.1 3.6h0m0-16.4h0m0 4.6h0m0 5.2h0m.1-5.7h0m0-2h0m0-10h0m.1 5.9h0m0-5.8h0m.1 13.1h0m.1-6.6h0m0 .3h0m0 5.7h0m.1-8.3h0m0 8.7h0m0-2.1h0m0-15.1h0m.1 .9h0m0 17.8h0m0 2.4h0m0-14.3h0m0-.6h0m.1 2.6h0m0 13.1h0m0-5.4h0m.1-1.1h0m0-7.6h0m0 8.5h0m0 11.4h0m.1-15.5h0m0 7.6h0m.2 1.1h0m.1-2.4h0m0 9.3h0m.1-1.6h0m0-13.1h0m0 12.9h0m0-5.3h0m0-20.5h0m0 15.6h0m.1 13.1h0m0-15.6h0m0-3.5h0m.1 2.3h0m0 2.2h0m0-13.9h0m.1 16h0m0-6.9h0m.1 10.9h0m0-3.9h0m.1-6h0m.1-2.9h0m0-6.3h0m0 .6h0m0 14h0m.1 4h0m0-1.6h0m0 1.2h0m.1-15.3h0m0 13.7h0m0 5.7h0m.1-3.3h0m0-14.5h0m0 19.6h0m0-1.9h0m.1-15.1h0m0-2.7h0m0 15.4h0m0-7.8h0m0-8.8h0m.1 2.6h0m0 8h0m0 .4h0m0 2.8h0m0 5.3h0m.1-12.5h0m0 4.2h0m0-5.5h0m0 13.6h0m.1-11.2h0m0 16.2h0m0-18.5h0m.1 6.5h0m.1-14.8h0m0 12.4h0m0 13.5h0m0-21.7h0m0 16.3h0m.1-18.8h0m0 6.8h0m.1 8.4h0m.1-10.4h0m.1 2.2h0m.2 1.9h0m0 3.4h0m0-4.9h0m0-9.7h0m.2 15.8h0m.1 7.8h0m0-14.5h0m.1-6h0m0 .6h0m0 19h0m.1-12.8h0m0-7.1h0m.1 4.1h0m0 2.1h0m0 3.8h0m0-1.3h0m0-8h0m0 10.5h0m.2-7.5h0m0-5.8h0m0 14.1h0m0 2.1h0m0-1.7h0m.2-14.8h0m.1 18.1h0m0 1.5h0m.1-8.7h0m0 15.4h0m.1-26.3h0m0 9.5h0m0 3.1h0m0 1.6h0m.1 2.7h0m0 1.5h0m0-14.8h0m0 5.6h0m.1 3.2h0m0-2.4h0m0-4.1h0m0 3.3h0m.1 5.1h0m0 11.8h0m0-18.9h0m0 5.5h0m.1 8.8h0m0-14.8h0m0 5.4h0m0 6.5h0m.1-.4h0m0-2.3h0m0-12.1h0m.1 4.8h0m0 4.7h0m0-6.6h0m.1 7.3h0m0-6h0m0-1.9h0m.1 1.8h0m0 9.6h0m0 7h0m0-17.5h0m.1 3.9h0m0-2.4h0m.1 11.7h0m0-19.7h0m0 11.5h0m.1-4.6h0m0-1.3h0m0 16.2h0m0-.2h0m.1 3.7h0m0-14.2h0m0-1.8h0m.1 5.5h0m.1 4.3h0m0-2.8h0m.1-1.6h0m.1-6.6h0m0-1.5h0m0 9.3h0m0-15.8h0m.1 11.5h0m0-1.1h0m.1-1h0m0 15.6h0m0-11.1h0m0-6.4h0m0 17.5h0m.1-24.6h0m0 19.5h0m0-4.5h0m0-5.9h0m0 1.8h0m.1 11.1h0m0-7.8h0m0-2.8h0m.1-4.3h0m0-3.1h0m0 12.7h0m0-10.9h0m0-.2h0m.1 8.8h0m.1 .9h0m0-9.4h0m.1 14.7h0m.1-8.8h0m0 2h0m0-3.7h0m.1 4.6h0m0 .1h0m.1 3.1h0m0-4.1h0m0 6.9h0m.1-4.5h0m0-1.8h0m0-6.9h0m0-1.7h0m.1-5.9h0m.1 16.8h0m0-11.5h0m.1 2.4h0m0-2.7h0m0 4.3h0m.1 1.6h0m0 13.3h0m0-24.1h0m0 6h0m.1 11.7h0m0-1.3h0m.1-7.1h0m.1 .8h0m0 1.2h0m0 2.9h0m0-1.4h0m.1 5.8h0m.1-6.2h0m0-1.5h0m.1 5.3h0m0 .2h0m.1-9.8h0m0 1h0m.1-3.1h0m0 6.3h0m0-2.6h0m.1 7.4h0m0 1.3h0m0 6.9h0m.1-19h0m0 8.1h0m0-.7h0m.1 4.7h0m0 5.9h0m0-14.6h0m.1 2h0m0 2h0m.1 2h0m0-5.6h0m0 .7h0m0-2.9h0m0 9.8h0m0-.3h0m.1-1h0m0-14.5h0m.1 4.8h0m0 16.4h0m0-12.3h0m0 10.2h0m0-12.2h0m0 1h0m0 2.8h0m.1-.2h0m0 9.5h0m0-.6h0m0-3.5h0m0-8.1h0m.1 9.8h0m0-1.4h0m0-3.2h0m.1-6h0m0 2.1h0m0 .5h0m.1-.8h0m0 6.6h0m0 1.2h0m0-3.1h0m.1-13.3h0m0 2.2h0m0 9.4h0m0 8.9h0m.1-5.8h0m0-2h0m0 7.1h0m.1-13h0m0 15.4h0m0-7.6h0m.1-.3h0m0-4.4h0m0-1.1h0m.1 6.3h0m0 1.9h0m0 3.9h0m0-6.8h0m0 1h0m.1 5.8h0m0-4.3h0m0-8.3h0m.1 2.1h0m.1-.3h0m0 .5h0m.1 11.9h0m.1-8.2h0m0-1.6h0m0-1.4h0m0 11.2h0m.1-20.8h0m.1 11.5h0m0 5.4h0m0-16.6h0m.2 2.5h0m0-2.7h0m.1 15.1h0m0-10.4h0m0 6.8h0m.1-2.4h0m0 7.3h0m.1-4.5h0m0-.9h0m.1 3.7h0m.1-4.8h0m0-.4h0m.1 4.7h0m0-3.2h0m0-6.6h0m0-1.1h0m.1 3.3h0m0-7.8h0m.1 14.6h0m0-2.5h0m.1-7.3h0m0-.6h0m.1 0h0m0 9.3h0m.1-2h0m0-.1h0m0 3.9h0m.1-2.5h0m0 0h0m0 .9h0m0-5.1h0m.1 5.2h0m0-3h0m0-2.4h0m.1 .5h0m0-3.3h0m0 7.1h0m0 8.7h0m.1-11.7h0m0 2.1h0m.1 3.7h0m0-6.9h0m0-2h0m.1 8.4h0m0-1.6h0m0-9.1h0m.1-.4h0m.1 3.8h0m0 8.9h0m.1-4.9h0m0-4.9h0m0 .7h0m.1 4h0m0 .6h0m0 .8h0m.1-1.3h0m0-3h0m0-3h0m0 2.9h0m.1 .6h0m.1 6.2h0m0-5.8h0m.1 .2h0m0-.3h0m.1 4.3h0m0-2.2h0m0 3.9h0m.1-4.3h0m.1 3.4h0m0-12.5h0m.1-1.5h0m0 17.6h0m0-6.4h0m.1-3.6h0m0 9.2h0m.1-8.4h0m0 5.4h0m.2-7.3h0m.1 3.8h0m0 6.2h0m0-7.8h0m0-.7h0m.1-.2h0m.1 1h0m.1-3.7h0m0 3.8h0m.1 4.8h0m0 6.2h0m0-7.6h0m0-3.4h0m.2 2.5h0m0 4.1h0m.1-13.3h0m0 6.9h0m0 4.3h0m0-5.6h0m.1-1.1h0m0-2h0m0 5.4h0m0-.3h0m.1 6.2h0m0 .5h0m0-5.6h0m.1 1.4h0m0 .8h0m0-4.8h0m.1 1h0m.1 5.1h0m0 5.8h0m0-4.9h0m.2-11h0m.1 6.5h0m0-2.8h0m0 1h0m0 3.8h0m0-.3h0m.1 7.7h0m0-5.8h0m0-3.5h0m0 1.4h0m0 3.1h0m.1-4.7h0m0 1.3h0m.1-8.4h0m0 9.6h0m0-.1h0m.1-4.1h0m0 4.2h0m0 1.4h0m0-10.5h0m.1 3.7h0m0 2.6h0m0-.9h0m.1 5.1h0m0 4.2h0m.1-12.7h0m0-2.7h0m0 6.6h0m.1 1.5h0m.1-5.2h0m0 6.6h0m.1 3.5h0m0-9.3h0m0 1.2h0m0-1.7h0m0 4.5h0m.1-1.2h0m0-1.7h0m0-4.8h0m.1 9.5h0m.1-1.6h0m0 7h0m0-5.3h0m0-8.5h0m.1 9.4h0m0-5.7h0m0 5.6h0m.1-12.6h0m0 11.2h0m0-2.9h0m0 3.2h0m.1 5.8h0m.1-8.7h0m.1 4h0m.1-8.9h0m0 1.1h0m0 7.8h0m0 6h0m.1-17.9h0m.1 6.3h0m0-6.9h0m0 10.7h0m.1 6.8h0m0-12.7h0m.1 1.8h0m0-.6h0m0 5.5h0m0-6h0m0 1.1h0m.1 3.4h0m.1-2.9h0m.1 3h0m0-2.9h0m0-4h0m.1-1.3h0m0 7.9h0m.1-2.5h0m0 5.2h0m0-5.7h0m0-2.4h0m.1-1.4h0m0 5.5h0m0-4.1h0m.1 3.2h0m0-.7h0m0-4.8h0m.1 12.4h0m0-4.6h0m.2-9.7h0m.1 8.2h0m0-1.1h0m0 7.4h0m.1-6.7h0m.1-2.2h0m0-5.5h0m.1 9.3h0m.2 4.9h0m0-3.1h0m0-4.8h0m0 .6h0m.3 6.1h0m0-5.2h0m0 1.6h0m0 1.4h0m.1-6h0m0 2.4h0m0 0h0m0-1.1h0m.1 1.5h0m0 4.8h0m0 3.3h0m0-11.5h0m.1 11.5h0m0-10.8h0m0 12.8h0m0-10.1h0m0 3.3h0m.3-.1h0m.1 5.5h0m0-11.6h0m0 2.2h0m.1 .7h0m0-3.1h0m0 1h0m0 1.6h0m.1-2.4h0m0-2.4h0m0 8h0m0 1h0m.1-1.5h0m0-3.1h0m.1-5.3h0m0 4.4h0m.1 4.1h0m.1-1h0m0 2.2h0m.1-5.9h0m0-1.8h0m0 14.1h0m0-14.4h0m0 6.8h0m0-2.8h0m.1 1h0m0 6.2h0m.1-1.7h0m0-4.2h0m0 5.3h0m0-10.4h0m0 2.6h0m.1 2h0m0 9.5h0m.1-11.1h0m0-1.7h0m.1 5.1h0m0-7h0m.1 3.8h0m0 4.1h0m0 1.4h0m.1-4.3h0m0 3.5h0m0 3.2h0m.1-9.8h0m.1 4.6h0m.1 2.6h0m0-.9h0m0-6.5h0m0 3.7h0m0-2h0m.1 .2h0m.3-2.9h0m0 6h0m0-2.7h0m.1 .8h0m0-1.3h0m.1 .9h0m0 4.2h0m.1-5.8h0m.1 7.7h0m.1-11.3h0m0 6.9h0m0-1.1h0m0 1.5h0m.1 4.9h0m0-6.8h0m0 1.6h0m.1-2.1h0m0 5h0m0-9.6h0m0 14.9h0m0-11.4h0m.1 .2h0m0-4.8h0m.1 6.6h0m0-2.3h0m0 8.1h0m0-10.9h0m0 3.9h0m.1 7.5h0m0-5.2h0m0 3.2h0m0-1.6h0m0-2.6h0m.1-4.3h0m.1 6.2h0m0-3.1h0m.1 1.5h0m0-4.1h0m.1 6.6h0m0-5h0m0-1.3h0m0 1h0m.1 6.1h0m0-5.3h0m0 6.6h0m0-2.6h0m0-2.7h0m.1 3.1h0m0-4.4h0m0 6.9h0m.1-4.2h0m.1 3.2h0m0-5.7h0m.1 2.6h0m0 2.7h0m0-1.5h0m.1-4.7h0m0 6.7h0m.1 1h0m0-.4h0m0 .5h0m.1-4.8h0m.1 1.8h0m0-2h0m0 .8h0m.1-1.5h0m0 2.1h0m.3-4.3h0m0 7.1h0m0-4.5h0m0-.3h0m.1 6.9h0m0-7.4h0m0 6.6h0m.3-7.5h0m0 5.3h0m0-3.3h0m0-.3h0m.1 .6h0m0 1.6h0m.1-6.3h0m.1 7.4h0m0 1.2h0m.1-8.5h0m0 3.5h0m.1 8h0m0-5.2h0m0 2.7h0m.1-.1h0m0-2.3h0m0-5.7h0m.1 8.9h0m0-1.5h0m0-6.8h0m0 3.4h0m.1-2.5h0m.1 2.8h0m0-2.4h0m.2 6h0m0-2.1h0m0-1.2h0m0-3.5h0m0 2.1h0m.1-1h0m.1-1.9h0m0-3.5h0m0 9.9h0m0-5.9h0m.3 6.2h0m0-.9h0m.1 3.4h0m0-3h0m.1-.1h0m0 5.2h0m.1-5.1h0m0 5.1h0m0-3.9h0m0 .6h0m0-6.3h0m0-.3h0m.2-.4h0m0 10.1h0m0-4.6h0m.1-4.5h0m0 .7h0m0 8.2h0m.2-9.8h0m0 4.8h0m.1 5.1h0m0-7h0m0-3.8h0m0 .9h0m.1 .5h0m.1 9.6h0m0-4.8h0m0 .8h0m.1-5.5h0m0 4.7h0m0 1.3h0m0-.9h0m0-3h0m0-1.7h0m0 2.4h0m.1-1.2h0m.2 4.6h0m0-6.3h0m0 3.3h0m.1 1h0m0-7.5h0m.1 8.9h0m0 3.2h0m0-11h0m.1-1h0m0 6.3h0m0 6.2h0m.1-2.1h0m0 2h0m.1-12.9h0m0 10.5h0m.1 1.4h0m.1-4.5h0m0 5.3h0m.1-6.9h0m.1-1.1h0m0-1.3h0m.1 2.7h0m.2-1.6h0m0 0h0m0 2.3h0m0-2.2h0m0 2h0m.1-2h0m.1-3.1h0m.1 1.7h0m.1 8.5h0m0-1.1h0m0-.7h0m.1-.8h0m0-2.4h0m0 .7h0m.1 4.4h0m0-10.6h0m0 .3h0m.1 4.1h0m0 0h0m.1 1.6h0m.1-4.1h0m0 8.1h0m.1-5.7h0m.1 .9h0m.2 .1h0m0-3.5h0m.1 3.9h0m0-4.4h0m0 6.1h0m0-.3h0m0 1.2h0m0-1.1h0m.2 2.7h0m0-4.1h0m0-7.3h0m0 6h0m.1 1.2h0m0-7.7h0m.1 5.3h0m0 5.1h0m0-5.6h0m.1 .9h0m.1 1.2h0m0-3.1h0m0 .9h0m0 4.8h0m0-2.4h0m.1-.4h0m0 3.2h0m0-2.8h0m0 6.3h0m.1-5.4h0m0-1.8h0m0 1h0m.1 1.2h0m0-.9h0m.1-7.4h0m0 5h0m0 .5h0m.1-.6h0m.1 5.4h0m0-4.6h0m0 .8h0m.1-4h0m0-1h0m0 9.7h0m.1-9.5h0m.1 5h0m0-6.2h0m0-.4h0m0 4.9h0m.1 4.4h0m0 1.4h0m0-6h0m.1 5.8h0m0-1h0m.1-1.6h0m0-5.5h0m.1 6h0m.2-5.3h0m.2 9.8h0m0-10.1h0m0 4.7h0m0-2.4h0m0-2.1h0m.1 1.6h0m0-3.1h0m0-.1h0m0 6.5h0m0-1.5h0m.1 2.7h0m.1-4.9h0m0 2.4h0m.1-1.5h0m0 3.3h0m0-8.2h0m.1 5.8h0m.1 4.5h0m0-5.9h0m0 5.2h0m.2-2.5h0m0 4h0m.1-6.6h0m0 2.3h0m0 1.5h0m.1-1h0m0-1.2h0m0 3.6h0m.1-.6h0m0-5.7h0m0-3.4h0m0 7h0m0-.7h0m0-.2h0m.1-3.4h0m.1 7.9h0m.1-2.7h0m0-.8h0m0-5.2h0m0 0h0m0-1.9h0m0 9.9h0m.1-2.4h0m0 2.1h0m0-4.3h0m.1-3.9h0m.1 7.6h0m0-4.5h0m.1 3.8h0m0-4h0m0 3.6h0m0-3.8h0m.1 4.9h0m.1-2.4h0m0-2.1h0m0-3.7h0m0 5.2h0m.1 0h0m0 3.1h0m0-5.3h0m0 .8h0m.1 6.1h0m0-5.3h0m0-.2h0m.1 .5h0m0 5.6h0m0 1.3h0m0-5.3h0m.1-2h0m0 2h0m0-1.9h0m.1 5.9h0m0-8.4h0m.1 5.1h0m0-1.2h0m0-2.9h0m.1-.4h0m.1 3.1h0m0-1.4h0m.2 0h0m0-.4h0m0 .6h0m.1 2.6h0m0 1h0m.2-4.9h0m0 5.6h0m.1-2.7h0m.1-1.3h0m0-2.8h0m.1 .4h0m0 1.2h0m0 2.9h0m0 4h0m.1-7.5h0m0 1.5h0m0 2.1h0m.1-4.4h0m0 9.4h0m0-4.2h0m.1 .7h0m.1 .2h0m.1 .6h0m0-8h0m.1 1.9h0m0 1.4h0m0-.7h0m.1 5.5h0m0-6.3h0m0 3.1h0m.2-3.6h0m0 3.8h0m0 1.2h0m0-2.7h0m.1 2.7h0m0-3.4h0m.1-1.1h0m0 1.1h0m.1-3h0m.1 3.3h0m.1 1.1h0m0-2.9h0m0 9.2h0m.1-4.8h0m.1 .4h0m0 .2h0m0 2.7h0m0-5.1h0m0-1.3h0m.1-2.7h0m0 .4h0m0 7.6h0m.1-2.2h0m0-6.9h0m0 10.7h0m.1-2h0m0 2.9h0m0-6.4h0m.2 3.8h0m.1-.6h0m0-3.1h0m.2 .4h0m0-3.5h0m0 4.5h0m0 .3h0m.1-1.7h0m0-.9h0m.1-4h0m0 4.1h0m0-5h0m.1 1.5h0m0 8.3h0m.1-.1h0m0-1.6h0m.1-1.2h0m0-2h0m.1-2.1h0m0 .6h0m0 .8h0m0 4.5h0m.1-1h0m0-7.6h0m.2 5.1h0m.1-2.3h0m0 2.4h0m0 2.1h0m.1-5.6h0m0 8.4h0m0-6.1h0m0-2.3h0m0 5.9h0m.1-.1h0m0-3.1h0m.1 1.4h0m0 3h0m.1 .6h0m.1-2.6h0m0 4.3h0m0-6.5h0m.2 7.4h0m0-1.8h0m0-4.1h0m0-3.1h0m.1 3.9h0m.1 1.5h0m.1-4.5h0m0-1h0m0 3.8h0m.1 .5h0m0 .8h0m0-7.9h0m0-.1h0m.1 8.2h0m0-2.4h0m.1 3.2h0m.1-6.1h0m0-.6h0m.1 2.9h0m0-4.2h0m.1 7.8h0m0 1.9h0m.1-4.8h0m.1 1.1h0m.1 1.3h0m0-4.8h0m0-.9h0m.1 1.8h0m0 6.8h0m.1-6.7h0m0 7.4h0m.1-7.7h0m.1-2.5h0m0 2.3h0m0 4.9h0m0-5.3h0m.2-1.5h0m.1 7.1h0m.1-.9h0m0-3.5h0m0 .7h0m0-2.9h0m.1 4.6h0m0-2.2h0m0 3.6h0m0 1.6h0m.1-1.6h0m.1-7h0m0 2.3h0m0-1.7h0m.1 3.7h0m0 .2h0m0 1.8h0m.1 .7h0m0-6.3h0m0 2.9h0m0-2.6h0m0 3.5h0m.1 5h0m0-7.2h0m.1 4.1h0m.1-2.2h0m0 3.7h0m0-3.5h0m.1 1.7h0m0-3.4h0m0 0h0m0 1.8h0m.1-.1h0m.1-2.2h0m0 5.1h0m.1-5.6h0m.1-1.5h0m.1 6h0m0 .5h0m.1-3h0m0 1h0m.1-4.2h0m0 5.6h0m0 3.5h0m0-4.9h0m0-.2h0m0-3.5h0m.1 2.9h0m0-3.1h0m0 3.5h0m.1 2.2h0m0 2.6h0m0-6.6h0m.1-.7h0m0-3.2h0m.2 8.8h0m.1-5.3h0m0-.6h0m0 2.3h0m.2 3.6h0m0-3.6h0m0-1.3h0m0 6.3h0m.1-.8h0m0-4.3h0m0-3.2h0m.1 4.1h0m0 .3h0m.1 2.9h0m.1-9.1h0m0 4.3h0m0 .7h0m0 2.6h0m0-.8h0m0-5.3h0m0 8.4h0m0-5.7h0m0 7h0m0-7h0m0 6.7h0m.1-7.6h0m0 3.6h0m0-4.5h0m.1 2.8h0m0-.4h0m0 5.5h0m.2-4.8h0m0 3.9h0m.1-3.9h0m.1-1.4h0m0 1.4h0m.2-1h0m0 3.7h0m0-3.5h0m0-.7h0m.1 1.4h0m0 1.8h0m.1-3.9h0m0 6h0m.1 .2h0m.1-4.9h0m0-4.5h0m.1 7.7h0m0-4.2h0m0 1.8h0m0 1.8h0m.1-4.1h0m0 4.8h0m.2-1.2h0m0 2.6h0m.1-5h0m0-2.3h0m0 2.5h0m0 0h0m0 1.1h0m.1 .8h0m.1-.3h0m0-1.1h0m.1-1.9h0m0-.2h0m0 3.2h0m0 2.3h0m.3-4.4h0m0 1.1h0m0-1.8h0m.1 4.5h0m.1-3.3h0m.1 3.7h0m.1-3.6h0m.1 3.1h0m0-4.2h0m0-.3h0m.2 1h0m0 3.8h0m.1-1h0m.2-4.5h0m0 6.4h0m.1-1.7h0m0-2.2h0m0-1.2h0m.1-3.5h0m.1 7h0m0-2.1h0m.1-3.9h0m.1 4.3h0m0-2h0m0-2.3h0m0 5.4h0m.1 2.4h0m.1 1.5h0m0-1.1h0m.2-3.6h0m0-2.8h0m.1 7h0m0-7.1h0m0 2.2h0m0 5.1h0m0-4.2h0m.1 .6h0m0 4.5h0m0-6h0m.1 1.1h0m0 1.5h0m.2-.6h0m0-2.9h0m.1 4.9h0m0-3.3h0m0-2.1h0m0 2.1h0m.1 1.8h0m.1 .5h0m0-4h0m.1 5h0m0-8.4h0m0 5.1h0m0-1.7h0m.1 1.4h0m0 1.9h0m0-2.4h0m.2 2.8h0m0 2.7h0m0-6.2h0m.2 4.6h0m0-3.7h0m0-.1h0m0 1.3h0m.1-1.2h0m.1 3.7h0m.1-5.1h0m0 4.9h0m.1-2.2h0m0 .8h0m.1-.1h0m0-1.9h0m.1 2.9h0m0-1.1h0m.1 2.5h0m0-.5h0m0 .2h0m0-2.6h0m0-1.9h0m.2 2.5h0m0-4.1h0m.1 .9h0m0 1h0m.1 3.6h0m.1-8.2h0m0 3.8h0m0 .4h0m0 1.6h0m.1-3.2h0m.3 5.1h0m0-4.5h0m0 6.8h0m0-9.1h0m.2 4.3h0m0-3.8h0m0 4.3h0m.1-3.2h0m.1 .4h0m0 7.1h0m0-1.9h0m0-3.2h0m0 1.6h0m0-3.4h0m.1 2.9h0m.2-2.5h0m0 1.3h0m.1 4.5h0m0-7.8h0m0 2.6h0m0-.2h0m.1 .9h0m0 2.3h0m0-.5h0m0-1.2h0m0-1.1h0m.1 6.1h0m.2-8h0m0 .7h0m.1 6.3h0m0-5.4h0m0 .3h0m0 1.8h0m0 1.2h0m.1 1.4h0m.1 1.7h0m0-8.9h0m0 1.6h0m0 2.1h0m.1 1.1h0m0 1.4h0m0-4.3h0m.2 .2h0m.1 .7h0m0 2.5h0m.1-3.9h0m0 1.5h0m0 .1h0m0-.3h0m.3 5.4h0m.1-9.3h0m.1 2.1h0m.1 1.6h0m0-2.5h0m0 5.7h0m.2-3.6h0m0-1.5h0m0 .3h0m.1-1.2h0m0 3h0m0 3.1h0m0-6.9h0m.3 3.2h0m.1 2.1h0m.1-4.1h0m0 4.3h0m0-1.8h0m.1-.1h0m0-.5h0m0 1.3h0m0-.4h0m.1 .7h0m0-.8h0m.1 4.1h0m0-6.3h0m0-1h0m.1 .6h0m0 4.3h0m0-2.4h0m.1 2.2h0m.1 2.1h0m0-4.4h0m.1 6.4h0m0-.6h0m.1-.5h0m.1-4.3h0m0-.6h0m0 2.2h0m.1-1.6h0m0-4.1h0m.1 6.5h0m0-.3h0m0 3.7h0m0-7h0m0 .3h0m.1 5.2h0m0-6.7h0m.1 2.3h0m.1 1.6h0m.2-2.4h0m.2-1.3h0m0 7.4h0m0-5h0m0 2.7h0m.1-2.3h0m.1 .6h0m0 4.5h0m0-8h0m.2 5.9h0m.1 .4h0m0-5.1h0m0 4.6h0m0-3.5h0m.1-3.5h0m0 5.6h0m0 .4h0m.1-6.6h0m.1 4.8h0m0 4.4h0m0-8.4h0m.2 1.6h0m.1 4.3h0m0-4.4h0m.1 1.4h0m0 2.9h0m.1-3.4h0m.1-3.2h0m0 4.8h0m.1 4.8h0m0-4.5h0m.1 4.8h0m0-1.4h0m.1-8.3h0m.1 3.8h0m0 1.3h0m0-.6h0m.1 1.8h0m0-.8h0m0-3.2h0m.1 1h0m.1-2.5h0m0 1.9h0m0 2.9h0m0-1.6h0m0 5.7h0m0-7.3h0m0 .6h0m0 1.8h0m0-3.9h0m.1 5.7h0m0-2h0m0 3h0m.1-3.9h0m0-2.3h0m.1 1.5h0m.1-2.4h0m0 5.1h0m.1 1.2h0m0-4.2h0m.1 1.2h0m0-4h0m.1 5.1h0m0-2.7h0m.1 3.7h0m0 .4h0m.1-2.7h0m0 .8h0m.1 2.4h0m0-2.7h0m.4-2h0m.2 2.3h0m0-1.8h0m0 5.6h0m.1-6.3h0m.1 7.5h0m0-6h0m.1-.5h0m0 2.9h0m.1-.5h0m0 .2h0m.1-.5h0m.1 4.7h0m.1-.3h0m0-3.6h0m.1-2.6h0m0 4.4h0m.1-3.9h0m0 .9h0m.1 1.6h0m.1-3.4h0m.1 0h0m0-.9h0m.1 3.1h0m0-.7h0m0 2.6h0m0-1.8h0m0-3.5h0m0 3h0m0 1.1h0m.1-2.9h0m.1 3.6h0m0-.8h0m.1-2h0m0-.5h0m0 4.3h0m.1-2.2h0m.1-1.3h0m0 4.5h0m.1-.1h0m.1 .8h0m0-7.6h0m.1 .8h0m0 4.5h0m0-4.9h0m0-.4h0m.1 2.5h0m.1 4.7h0m.1-4.9h0m.1 4.4h0m0-5.7h0m.1 7.3h0m0-4.8h0m0 .9h0m.1 .5h0m0 .4h0m.1-3.1h0m0-.1h0m.1-2.8h0m.1 3.2h0m.1 4.7h0m0-4h0m.1-1.9h0m0 4h0m.1-.8h0m0-4.1h0m0 1.9h0m.1-.1h0m.3 3.5h0m0-1.5h0m0-.5h0m.1-3.3h0m0 2.7h0m0-1.2h0m.1-2.1h0m.1 8.5h0m0-4h0m0-3.2h0m0-1.1h0m.1 1.9h0m.2 5.7h0m0-5.7h0m.1 1.3h0m0-1.3h0m0 .6h0m.1-2.6h0m.1 8.4h0m0-4.4h0m0 1.8h0m0-2.9h0m.2-.8h0m.1 2.7h0m.1-3.4h0m.1 7h0m0-2.9h0m.2-4.2h0m0-1.1h0m.1 6.8h0m0-8.6h0m.1 2.8h0m.2-.2h0m0 6.2h0m0-1.8h0m.1-4.7h0m0 2h0m0 1.7h0m.2-1.7h0m0 .7h0m.1-3.9h0m.1 8.9h0m.1-.9h0m0-5.3h0m.2-3.3h0m.1 3h0m0 5.1h0m0-5.3h0m0 2.9h0m.2-1.9h0m0 1.3h0m.1 4.4h0m0-8.3h0m0 2.4h0m.2 2.9h0m.1-5.4h0m.1 .8h0m0 2.1h0m.1-.8h0m.2-3.7h0m.1 3.9h0m.1 1.1h0m.1 .6h0m.1 3.5h0m.1-7.4h0m.1 1.3h0m0 2.6h0m0 .3h0m.2-2.5h0m0-1.1h0m0 5.5h0m.1-7.6h0m.1 5.1h0m0-1.4h0m.1 4h0m0-2.8h0m0 .5h0m.1 1.6h0m.1-6.9h0m0 7.6h0m.1-1.7h0m0 3.8h0m0-8.4h0m.1 4.8h0m0-.1h0m.1-2.6h0m0 .1h0m.1 1.1h0m.1-3.3h0m0 7.1h0m.1-1.2h0m0 .1h0m0-.3h0m.1 2.6h0m.1-5.8h0m.1 .6h0m.1-1.5h0m0-1.3h0m0 1.7h0m.2 4.4h0m.1-5.7h0m.1 4.6h0m0-6.8h0m0 4.3h0m.1 1.6h0m0-2.9h0m0 6.8h0m0-5.6h0m0-.3h0m0-3.2h0m.1 4h0m0 1.3h0m.1-1.2h0m0 .7h0m.1-.5h0m0-4.1h0m.1 2.1h0m0-1.1h0m0 2.6h0m0 4.3h0m.1-6.1h0m.1 1h0m0 3.1h0m0-3.3h0m.1 3.1h0m0 0h0m0-6.7h0m0 1.2h0m.1 7.9h0m0-6.8h0m.1-1.2h0m0 7.2h0m0-2.1h0m.1-4.3h0m.1 7.9h0m0-6.2h0m.1 1.5h0m.1-.2h0m0-1.8h0m.1 4.5h0m.2-.3h0m0 1.5h0m0-8.8h0m0 8.4h0m.1-3.4h0m.1-2.6h0m0 5.9h0m.2-3.2h0m0-.9h0m.1 .6h0m.2 0h0m.1-.5h0m0 3.6h0m.1 .1h0m.2-6.5h0m0 4.4h0m0-1.9h0m.1 5.8h0m0-3.2h0m.2-3.4h0m0 1.3h0m.2 1.9h0m.1-2.5h0m.1 .7h0m0-1.6h0m0 3h0m0-.4h0m.1 .1h0m.2-.6h0m0-.6h0m.1 0h0m.1-3.1h0m.1 1.2h0m.1 2.7h0m.1 .6h0m.1-.5h0m0-.6h0m0-2.3h0m.1 3h0m0-2.3h0m.2 .2h0m.1-.2h0m.1-.6h0m0 .2h0m.3-.8h0m0 2.3h0m.1-.5h0m0 2.6h0m0 .1h0m.2-3.6h0m.1 3.8h0m.1-4.1h0m.1 4h0m0-2.4h0m0-2h0m.1 4.2h0m0-.7h0m.1-3.3h0m0 6.6h0m.1-5.3h0m.3 2.8h0m.1-6.5h0m0 5.2h0m.1-2.4h0m0-.4h0m.2 4.1h0m.1-1.6h0m.1 .1h0m0 1.6h0m.1-2.4h0m.1-2.7h0m0 4.1h0m0-1.4h0m.2 1.2h0m0 .8h0m0 .3h0m0-5.5h0m0 2.8h0m.1 3.3h0m0-.2h0m.2-3.3h0m0-.8h0m.1-1.6h0m.2 1.8h0m.1 .4h0m0 2.4h0m.4-.5h0m0 1h0m0-2.8h0m.3 .9h0m0 2h0m.2 1.5h0m0-1.1h0m0 .8h0m0-6.2h0m.1 6.7h0m0-8.1h0m.1 2.6h0m0 1.8h0m.2-3.6h0m0 3.5h0m.1-.4h0m0 3.4h0m.3 1.4h0m0-4.1h0m0 1.9h0m.1-.7h0m0-2.9h0m0 .1h0m0 5.4h0m.1-7.5h0m.1 2.7h0m.1 1.7h0m.1 2h0m0-2.9h0m.1 2.8h0m.2-2.4h0m0 3.6h0m.1-3.2h0m0 .4h0m0 .7h0m.1 2.7h0m.1-2.5h0m.1-4h0m0 4.2h0m0-2.8h0m.1 .4h0m.1 1.3h0m0 2.4h0m0-2.5h0m.1 3.9h0m.1-3.8h0m.1 2.3h0m0-6.1h0m0 3.1h0m.1-.4h0m0 1.8h0m0-.5h0m0-3.4h0m.2 2.3h0m0-.4h0m0 .6h0m.2-2.4h0m0 3.2h0m0-.8h0m0-3.4h0m.1 4.7h0m.1-1.3h0m0 2.8h0m.1-7h0m0 5.5h0m.1 1.3h0m.2-2.7h0m.3-1.1h0m.1-2.4h0m.1 2.6h0m0 2.1h0m.1-2.8h0m.2 4.2h0m.1-4.2h0m0 5.4h0m0-8.7h0m.1 .5h0m0 .5h0m.2 4.3h0m.1-1.9h0m0 .3h0m0 3.2h0m0 2.4h0m.1-.7h0m0-2.1h0m.1-3.7h0m.2 2.5h0m0 .8h0m.1-1.6h0m.1 1.4h0m0-3.5h0m.1 6.1h0m0 .7h0m0-7.3h0m0-.2h0m.1-.6h0m0 .2h0m.1 3.8h0m.2-4.5h0m0 2.7h0m0 2.3h0m0 .4h0m.2 .1h0m0 .3h0m0-3h0m0 3h0m0-2.4h0m.1 .2h0m.2-.7h0m.1 1h0m.1-.5h0m.2-.4h0m.1 3.2h0m0-2.1h0m.1-1.9h0m0 4h0m0-6.8h0m.3 4.9h0m.1-2.3h0m.1 3.6h0m.1-4.1h0m0 4.6h0m0-.3h0m.2 2.5h0m0-3.3h0m0-1h0m.1 .3h0m.1 3h0m0-1.3h0m.1-6.7h0m.1 3.5h0m0 1.1h0m.1-4h0m0 5.1h0m.5-4.4h0m0-.1h0m.1 1.8h0m0 2.4h0m.1-4.2h0m0 5.4h0m0 2.5h0m.2-2.6h0m0-.2h0m.1-.1h0m0 1h0m0-5.6h0m.1 3.2h0m.1 .2h0m0-.3h0m.2 1.7h0m0-.9h0m.3-3h0m0 2.3h0m0-3.4h0m.1 4.8h0m.1-1.3h0m0-3.7h0m.2 5h0m0-.1h0m.2-3.1h0m.1 4h0m.3-1.6h0m.4-1.1h0m.2 2.3h0m.5-3.6h0m.4 .3h0m.1 1.8h0m0-1.2h0m.1-.6h0m.3 .5h0m0 1.7h0m.1-.9h0m.2-1.8h0m.7 3.2h0m.2-1.4h0m.1 .2h0m.2-1.3h0m.5 2.2h0m.2-.9h0m.3-.1h0m.1 .7h0m.2 .2h0m0-.8h0m.6-.3h0m.8-5.5h0m.2 6.2h0m.9 5.1h0m2-10.8h0m1.1 9.9h0m2-9.4h0m.9 7.8h0m2.3-7.2h0m2.5 .2h0m2 4.4h0m3.6-6.5h0m3 10.1h0m11.3-9.8h0m2.5 4.4h0" stroke="#00BFC4" stroke-width="3.7" stroke-linecap="round" fill="none"/>
</g>
<path d="M435.8 846v3M487.6 846v3M539.3 846v3M591 846v3M642.8 846v3M403.2 779.6h-3M403.2 675.9h-3M403.2 572.2h-3" stroke="#555" stroke-width="1" fill="none"/>
<text x="90.34" y="15.8" font-size="19.5" textLength="272.50" lengthAdjust="spacingAndGlyphs" >Between Day 1–2 and Day 3</text>
<text x="91.49" y="41.6" font-size="19.5" textLength="177.25" lengthAdjust="spacingAndGlyphs" >in&#160;&#160;the No. 1 larvae</text>
<text x="434.55" y="15.8" font-size="19.5" textLength="270.98" lengthAdjust="spacingAndGlyphs" >Between Day 1–2 and Day 3</text>
<text x="435.29" y="41.6" font-size="19.5" textLength="171.15" lengthAdjust="spacingAndGlyphs" >in the No. 2 larvae</text>
<text x="85.24" y="472" font-size="19.5" textLength="276.25" lengthAdjust="spacingAndGlyphs" >Between the No. 1 and No. 2</text>
<text x="86.96" y="498.8" font-size="19.5" textLength="167.92" lengthAdjust="spacingAndGlyphs" >larvae at Day 1–2</text>
<text x="433.63" y="472" font-size="19.5" textLength="276.95" lengthAdjust="spacingAndGlyphs" >Between the No. 1 and No. 2</text>
<text x="435.25" y="498.2" font-size="19.5" textLength="144.29" lengthAdjust="spacingAndGlyphs" >larvae at Day 3</text>
<text x="50.41" y="13.8" font-size="16" font-weight="bold" textLength="21.88" lengthAdjust="spacingAndGlyphs" >(a)</text>
<text x="395.79" y="13.8" font-size="16" font-weight="bold" textLength="23.43" lengthAdjust="spacingAndGlyphs" >(b)</text>
<text x="50.90" y="469.3" font-size="16" font-weight="bold" textLength="22.10" lengthAdjust="spacingAndGlyphs" >(c)</text>
<text x="406.22" y="469.3" font-size="16" font-weight="bold" textLength="22.56" lengthAdjust="spacingAndGlyphs" >(d)</text>
<text x="127.07" y="77" font-size="19.5" textLength="119.65" lengthAdjust="spacingAndGlyphs" >Day 3, 1,428</text>
<text x="253.28" y="77" font-size="19.5" textLength="49.74" lengthAdjust="spacingAndGlyphs" >(413)</text>
<text x="108.14" y="367.3" font-size="19.5" textLength="137.66" lengthAdjust="spacingAndGlyphs" >Day 1–2, 1,390</text>
<text x="252.98" y="367.3" font-size="19.5" textLength="49.74" lengthAdjust="spacingAndGlyphs" >(539)</text>
<text x="539.53" y="76.3" font-size="19.5" textLength="80.46" lengthAdjust="spacingAndGlyphs" >Day 3, 7</text>
<text x="626.67" y="76.3" font-size="19.5" textLength="26.15" lengthAdjust="spacingAndGlyphs" >(6)</text>
<text x="516.75" y="367.1" font-size="19.5" textLength="103.09" lengthAdjust="spacingAndGlyphs" >Day 1–2, 3</text>
<text x="624.48" y="367.1" font-size="19.5" textLength="27.93" lengthAdjust="spacingAndGlyphs" >(2)</text>
<text x="133.00" y="534.1" font-size="19.5" textLength="113.05" lengthAdjust="spacingAndGlyphs" >No. 2, 1,812</text>
<text x="253.78" y="534.1" font-size="19.5" textLength="49.74" lengthAdjust="spacingAndGlyphs" >(553)</text>
<text x="132.24" y="828.7" font-size="19.5" textLength="110.11" lengthAdjust="spacingAndGlyphs" >No. 1, 1,755</text>
<text x="250.28" y="828.7" font-size="19.5" textLength="49.53" lengthAdjust="spacingAndGlyphs" >(465)</text>
<text x="477.62" y="534.1" font-size="19.5" textLength="118.48" lengthAdjust="spacingAndGlyphs" >No. 2, 2,432</text>
<text x="603.78" y="534.1" font-size="19.5" textLength="49.74" lengthAdjust="spacingAndGlyphs" >(860)</text>
<text x="466.79" y="828.2" font-size="19.5" textLength="113.83" lengthAdjust="spacingAndGlyphs" >No. 1, 2,270</text>
<text x="585.16" y="828.2" font-size="19.5" textLength="68.69" lengthAdjust="spacingAndGlyphs" >(1,398)</text>
<text x="87.5" y="416" font-size="18" text-anchor="middle">0</text>
<text x="139.5" y="416" font-size="18" text-anchor="middle">5</text>
<text x="191.5" y="416" font-size="18" text-anchor="middle">10</text>
<text x="243.5" y="416" font-size="18" text-anchor="middle">15</text>
<text x="295.5" y="416" font-size="18" text-anchor="middle">20</text>
<text x="41" y="324" font-size="18" text-anchor="middle" transform="rotate(-90 41 324)">-10</text>
<text x="41" y="220.5" font-size="18" text-anchor="middle" transform="rotate(-90 41 220.5)">0</text>
<text x="41" y="117" font-size="18" text-anchor="middle" transform="rotate(-90 41 117)">10</text>
<text x="436.1" y="416" font-size="18" text-anchor="middle">0</text>
<text x="487.9" y="416" font-size="18" text-anchor="middle">5</text>
<text x="539.6" y="416" font-size="18" text-anchor="middle">10</text>
<text x="591.4" y="416" font-size="18" text-anchor="middle">15</text>
<text x="643.1" y="416" font-size="18" text-anchor="middle">20</text>
<text x="389.7" y="324" font-size="18" text-anchor="middle" transform="rotate(-90 389.7 324)">-10</text>
<text x="389.7" y="220.5" font-size="18" text-anchor="middle" transform="rotate(-90 389.7 220.5)">0</text>
<text x="389.7" y="117" font-size="18" text-anchor="middle" transform="rotate(-90 389.7 117)">10</text>
<text x="85.9" y="873.4" font-size="18" text-anchor="middle">0</text>
<text x="137.8" y="873.4" font-size="18" text-anchor="middle">5</text>
<text x="189.6" y="873.4" font-size="18" text-anchor="middle">10</text>
<text x="241.4" y="873.4" font-size="18" text-anchor="middle">15</text>
<text x="293.3" y="873.4" font-size="18" text-anchor="middle">20</text>
<text x="41" y="779.6" font-size="18" text-anchor="middle" transform="rotate(-90 41 779.6)">-10</text>
<text x="41" y="675.9" font-size="18" text-anchor="middle" transform="rotate(-90 41 675.9)">0</text>
<text x="41" y="572.2" font-size="18" text-anchor="middle" transform="rotate(-90 41 572.2)">10</text>
<text x="435.8" y="873.4" font-size="18" text-anchor="middle">0</text>
<text x="487.6" y="873.4" font-size="18" text-anchor="middle">5</text>
<text x="539.3" y="873.4" font-size="18" text-anchor="middle">10</text>
<text x="591" y="873.4" font-size="18" text-anchor="middle">15</text>
<text x="642.8" y="873.4" font-size="18" text-anchor="middle">20</text>
<text x="389.7" y="779.6" font-size="18" text-anchor="middle" transform="rotate(-90 389.7 779.6)">-10</text>
<text x="389.7" y="675.9" font-size="18" text-anchor="middle" transform="rotate(-90 389.7 675.9)">0</text>
<text x="389.7" y="572.2" font-size="18" text-anchor="middle" transform="rotate(-90 389.7 572.2)">10</text>
<text x="179" y="437.2" font-size="18" text-anchor="middle">A</text>
<text x="530.1" y="437.2" font-size="18" text-anchor="middle">A</text>
<text x="180.1" y="892.6" font-size="18" text-anchor="middle">A</text>
<text x="530.1" y="892.6" font-size="18" text-anchor="middle">A</text>
<text x="16.1" y="220.7" font-size="18" text-anchor="middle" transform="rotate(-90 16.1 220.7)">M</text>
<text x="17.3" y="677.5" font-size="18" text-anchor="middle" transform="rotate(-90 17.3 677.5)">M</text>
<text x="364.0" y="220.7" font-size="18" text-anchor="middle" transform="rotate(-90 364.0 220.7)">M</text>
<text x="363.9" y="677.3" font-size="18" text-anchor="middle" transform="rotate(-90 363.9 677.3)">M</text>
<rect x="131.2" y="917.9" width="30.5" height="30.5" fill="#F2F2F2"/>
<circle cx="146.4" cy="933.1" r="2.6" fill="#F8766D" fill-opacity="0.6"/>
<rect x="532" y="917.9" width="29.7" height="30.5" fill="#F2F2F2"/>
<circle cx="547.3" cy="932.8" r="2.6" fill="#00BFC4" fill-opacity="0.7"/>
<text x="166.86" y="938.5" font-size="17.5" textLength="319.30" lengthAdjust="spacingAndGlyphs" >Differentially expressed genes (DEGs)</text>
<text x="565.77" y="938.3" font-size="17.5" textLength="89.00" lengthAdjust="spacingAndGlyphs" >Non DEGs</text>
</svg>
</body></html>
